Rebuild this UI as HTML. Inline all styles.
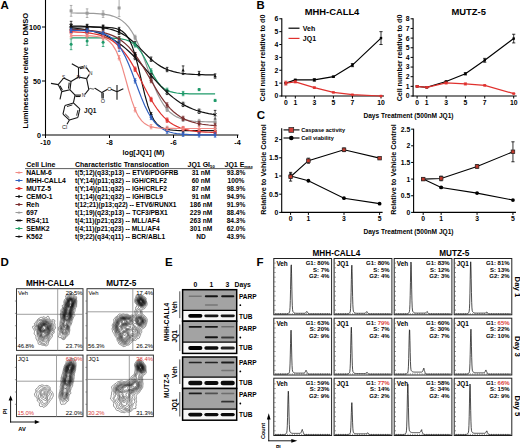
<!DOCTYPE html>
<html><head><meta charset="utf-8"><style>
html,body{margin:0;padding:0;background:#fff;width:520px;height:448px;overflow:hidden}
svg{display:block;font-family:"Liberation Sans", sans-serif}
</style></head><body>
<svg width="520" height="448" viewBox="0 0 520 448">
<text x="0.50" y="9.20" font-size="11.5" text-anchor="start" font-weight="bold" fill="#000">A</text>
<line x1="45.50" y1="0.00" x2="45.50" y2="135.50" stroke="#000" stroke-width="1.1"/>
<line x1="45.00" y1="135.00" x2="238.50" y2="135.00" stroke="#000" stroke-width="1.1"/>
<line x1="42.00" y1="135.00" x2="45.50" y2="135.00" stroke="#000" stroke-width="1"/>
<text x="41.00" y="137.60" font-size="7.2" text-anchor="end" font-weight="bold" fill="#000">0</text>
<line x1="42.00" y1="81.00" x2="45.50" y2="81.00" stroke="#000" stroke-width="1"/>
<text x="41.00" y="83.60" font-size="7.2" text-anchor="end" font-weight="bold" fill="#000">50</text>
<line x1="42.00" y1="27.00" x2="45.50" y2="27.00" stroke="#000" stroke-width="1"/>
<text x="41.00" y="29.60" font-size="7.2" text-anchor="end" font-weight="bold" fill="#000">100</text>
<line x1="45.50" y1="135.00" x2="45.50" y2="138.00" stroke="#000" stroke-width="1"/>
<text x="45.50" y="145.00" font-size="7.2" text-anchor="middle" font-weight="bold" fill="#000">-10</text>
<line x1="109.50" y1="135.00" x2="109.50" y2="138.00" stroke="#000" stroke-width="1"/>
<text x="109.50" y="145.00" font-size="7.2" text-anchor="middle" font-weight="bold" fill="#000">-8</text>
<line x1="173.50" y1="135.00" x2="173.50" y2="138.00" stroke="#000" stroke-width="1"/>
<text x="173.50" y="145.00" font-size="7.2" text-anchor="middle" font-weight="bold" fill="#000">-6</text>
<line x1="237.50" y1="135.00" x2="237.50" y2="138.00" stroke="#000" stroke-width="1"/>
<text x="237.50" y="145.00" font-size="7.2" text-anchor="middle" font-weight="bold" fill="#000">-4</text>
<text x="143.50" y="155.30" font-size="7.2" text-anchor="middle" font-weight="bold" fill="#000">log[JQ1] (M)</text>
<text x="26.20" y="70.60" font-size="7.6" text-anchor="middle" font-weight="bold" fill="#000" transform="rotate(-90 26.2 70.6)" dominant-baseline="middle">Luminescence relative to DMSO</text>
<polyline points="71.10,13.01 74.30,13.02 77.50,13.05 80.70,13.08 83.90,13.13 87.10,13.19 90.30,13.28 93.50,13.41 96.70,13.58 99.90,13.82 103.10,14.14 106.30,14.60 109.50,15.21 112.70,16.06 115.90,17.21 119.10,18.77 122.30,20.86 125.50,23.61 128.70,27.20 131.90,31.75 135.10,37.39 138.30,44.14 141.50,51.90 144.70,60.41 147.90,69.28 151.10,78.06 154.30,86.31 157.50,93.69 160.70,100.00 163.90,105.19 167.10,109.35 170.30,112.58 173.50,115.05 176.70,116.91 179.90,118.29 183.10,119.31 186.30,120.06 189.50,120.60 192.70,121.00 195.90,121.29 199.10,121.50 202.30,121.65 205.50,121.76 208.70,121.84 211.90,121.89 215.10,121.93" stroke="#9a9a9a" stroke-width="1.2" fill="none"/>
<line x1="71.10" y1="5.45" x2="71.10" y2="16.25" stroke="#9a9a9a" stroke-width="0.8"/>
<line x1="69.80" y1="5.45" x2="72.40" y2="5.45" stroke="#9a9a9a" stroke-width="0.8"/>
<line x1="69.80" y1="16.25" x2="72.40" y2="16.25" stroke="#9a9a9a" stroke-width="0.8"/>
<rect x="69.60" y="9.35" width="3.00" height="3.00" fill="#9a9a9a" stroke="none" stroke-width="1"/>
<line x1="87.10" y1="8.87" x2="87.10" y2="17.51" stroke="#9a9a9a" stroke-width="0.8"/>
<line x1="85.80" y1="8.87" x2="88.40" y2="8.87" stroke="#9a9a9a" stroke-width="0.8"/>
<line x1="85.80" y1="17.51" x2="88.40" y2="17.51" stroke="#9a9a9a" stroke-width="0.8"/>
<rect x="85.60" y="11.69" width="3.00" height="3.00" fill="#9a9a9a" stroke="none" stroke-width="1"/>
<line x1="103.10" y1="10.90" x2="103.10" y2="17.38" stroke="#9a9a9a" stroke-width="0.8"/>
<line x1="101.80" y1="10.90" x2="104.40" y2="10.90" stroke="#9a9a9a" stroke-width="0.8"/>
<line x1="101.80" y1="17.38" x2="104.40" y2="17.38" stroke="#9a9a9a" stroke-width="0.8"/>
<rect x="101.60" y="12.64" width="3.00" height="3.00" fill="#9a9a9a" stroke="none" stroke-width="1"/>
<line x1="119.10" y1="-0.67" x2="119.10" y2="16.61" stroke="#9a9a9a" stroke-width="0.8"/>
<line x1="117.80" y1="-0.67" x2="120.40" y2="-0.67" stroke="#9a9a9a" stroke-width="0.8"/>
<line x1="117.80" y1="16.61" x2="120.40" y2="16.61" stroke="#9a9a9a" stroke-width="0.8"/>
<rect x="117.60" y="6.47" width="3.00" height="3.00" fill="#9a9a9a" stroke="none" stroke-width="1"/>
<line x1="135.10" y1="35.23" x2="135.10" y2="39.55" stroke="#9a9a9a" stroke-width="0.8"/>
<line x1="133.80" y1="35.23" x2="136.40" y2="35.23" stroke="#9a9a9a" stroke-width="0.8"/>
<line x1="133.80" y1="39.55" x2="136.40" y2="39.55" stroke="#9a9a9a" stroke-width="0.8"/>
<rect x="133.60" y="35.89" width="3.00" height="3.00" fill="#9a9a9a" stroke="none" stroke-width="1"/>
<line x1="151.10" y1="75.90" x2="151.10" y2="80.22" stroke="#9a9a9a" stroke-width="0.8"/>
<line x1="149.80" y1="75.90" x2="152.40" y2="75.90" stroke="#9a9a9a" stroke-width="0.8"/>
<line x1="149.80" y1="80.22" x2="152.40" y2="80.22" stroke="#9a9a9a" stroke-width="0.8"/>
<rect x="149.60" y="76.56" width="3.00" height="3.00" fill="#9a9a9a" stroke="none" stroke-width="1"/>
<line x1="167.10" y1="107.19" x2="167.10" y2="111.51" stroke="#9a9a9a" stroke-width="0.8"/>
<line x1="165.80" y1="107.19" x2="168.40" y2="107.19" stroke="#9a9a9a" stroke-width="0.8"/>
<line x1="165.80" y1="111.51" x2="168.40" y2="111.51" stroke="#9a9a9a" stroke-width="0.8"/>
<rect x="165.60" y="107.85" width="3.00" height="3.00" fill="#9a9a9a" stroke="none" stroke-width="1"/>
<line x1="183.10" y1="117.15" x2="183.10" y2="121.47" stroke="#9a9a9a" stroke-width="0.8"/>
<line x1="181.80" y1="117.15" x2="184.40" y2="117.15" stroke="#9a9a9a" stroke-width="0.8"/>
<line x1="181.80" y1="121.47" x2="184.40" y2="121.47" stroke="#9a9a9a" stroke-width="0.8"/>
<rect x="181.60" y="117.81" width="3.00" height="3.00" fill="#9a9a9a" stroke="none" stroke-width="1"/>
<line x1="199.10" y1="119.34" x2="199.10" y2="123.66" stroke="#9a9a9a" stroke-width="0.8"/>
<line x1="197.80" y1="119.34" x2="200.40" y2="119.34" stroke="#9a9a9a" stroke-width="0.8"/>
<line x1="197.80" y1="123.66" x2="200.40" y2="123.66" stroke="#9a9a9a" stroke-width="0.8"/>
<rect x="197.60" y="120.00" width="3.00" height="3.00" fill="#9a9a9a" stroke="none" stroke-width="1"/>
<line x1="215.10" y1="119.77" x2="215.10" y2="124.09" stroke="#9a9a9a" stroke-width="0.8"/>
<line x1="213.80" y1="119.77" x2="216.40" y2="119.77" stroke="#9a9a9a" stroke-width="0.8"/>
<line x1="213.80" y1="124.09" x2="216.40" y2="124.09" stroke="#9a9a9a" stroke-width="0.8"/>
<rect x="213.60" y="120.43" width="3.00" height="3.00" fill="#9a9a9a" stroke="none" stroke-width="1"/>
<polyline points="71.10,26.06 74.30,26.10 77.50,26.15 80.70,26.22 83.90,26.31 87.10,26.43 90.30,26.58 93.50,26.78 96.70,27.04 99.90,27.37 103.10,27.79 106.30,28.33 109.50,29.01 112.70,29.87 115.90,30.95 119.10,32.28 122.30,33.89 125.50,35.82 128.70,38.08 131.90,40.66 135.10,43.53 138.30,46.62 141.50,49.84 144.70,53.08 147.90,56.24 151.10,59.20 154.30,61.90 157.50,64.29 160.70,66.36 163.90,68.09 167.10,69.53 170.30,70.70 173.50,71.65 176.70,72.40 179.90,72.99 183.10,73.46 186.30,73.82 189.50,74.10 192.70,74.32 195.90,74.49 199.10,74.62 202.30,74.72 205.50,74.80 208.70,74.86 211.90,74.91 215.10,74.94" stroke="#111111" stroke-width="1.2" fill="none"/>
<line x1="71.10" y1="23.90" x2="71.10" y2="28.22" stroke="#111111" stroke-width="0.8"/>
<line x1="69.80" y1="23.90" x2="72.40" y2="23.90" stroke="#111111" stroke-width="0.8"/>
<line x1="69.80" y1="28.22" x2="72.40" y2="28.22" stroke="#111111" stroke-width="0.8"/>
<path d="M71.10,24.26 L72.75,27.26 L69.45,27.26 Z" fill="#111111"/>
<line x1="87.10" y1="24.27" x2="87.10" y2="28.59" stroke="#111111" stroke-width="0.8"/>
<line x1="85.80" y1="24.27" x2="88.40" y2="24.27" stroke="#111111" stroke-width="0.8"/>
<line x1="85.80" y1="28.59" x2="88.40" y2="28.59" stroke="#111111" stroke-width="0.8"/>
<path d="M87.10,24.63 L88.75,27.63 L85.45,27.63 Z" fill="#111111"/>
<line x1="103.10" y1="25.63" x2="103.10" y2="29.95" stroke="#111111" stroke-width="0.8"/>
<line x1="101.80" y1="25.63" x2="104.40" y2="25.63" stroke="#111111" stroke-width="0.8"/>
<line x1="101.80" y1="29.95" x2="104.40" y2="29.95" stroke="#111111" stroke-width="0.8"/>
<path d="M103.10,25.99 L104.75,28.99 L101.45,28.99 Z" fill="#111111"/>
<line x1="119.10" y1="30.12" x2="119.10" y2="34.44" stroke="#111111" stroke-width="0.8"/>
<line x1="117.80" y1="30.12" x2="120.40" y2="30.12" stroke="#111111" stroke-width="0.8"/>
<line x1="117.80" y1="34.44" x2="120.40" y2="34.44" stroke="#111111" stroke-width="0.8"/>
<path d="M119.10,30.48 L120.75,33.48 L117.45,33.48 Z" fill="#111111"/>
<line x1="135.10" y1="41.37" x2="135.10" y2="45.69" stroke="#111111" stroke-width="0.8"/>
<line x1="133.80" y1="41.37" x2="136.40" y2="41.37" stroke="#111111" stroke-width="0.8"/>
<line x1="133.80" y1="45.69" x2="136.40" y2="45.69" stroke="#111111" stroke-width="0.8"/>
<path d="M135.10,41.73 L136.75,44.73 L133.45,44.73 Z" fill="#111111"/>
<line x1="151.10" y1="57.04" x2="151.10" y2="61.36" stroke="#111111" stroke-width="0.8"/>
<line x1="149.80" y1="57.04" x2="152.40" y2="57.04" stroke="#111111" stroke-width="0.8"/>
<line x1="149.80" y1="61.36" x2="152.40" y2="61.36" stroke="#111111" stroke-width="0.8"/>
<path d="M151.10,57.40 L152.75,60.40 L149.45,60.40 Z" fill="#111111"/>
<line x1="167.10" y1="67.37" x2="167.10" y2="71.69" stroke="#111111" stroke-width="0.8"/>
<line x1="165.80" y1="67.37" x2="168.40" y2="67.37" stroke="#111111" stroke-width="0.8"/>
<line x1="165.80" y1="71.69" x2="168.40" y2="71.69" stroke="#111111" stroke-width="0.8"/>
<path d="M167.10,67.73 L168.75,70.73 L165.45,70.73 Z" fill="#111111"/>
<line x1="183.10" y1="65.90" x2="183.10" y2="74.54" stroke="#111111" stroke-width="0.8"/>
<line x1="181.80" y1="65.90" x2="184.40" y2="65.90" stroke="#111111" stroke-width="0.8"/>
<line x1="181.80" y1="74.54" x2="184.40" y2="74.54" stroke="#111111" stroke-width="0.8"/>
<path d="M183.10,68.42 L184.75,71.42 L181.45,71.42 Z" fill="#111111"/>
<line x1="199.10" y1="71.38" x2="199.10" y2="75.70" stroke="#111111" stroke-width="0.8"/>
<line x1="197.80" y1="71.38" x2="200.40" y2="71.38" stroke="#111111" stroke-width="0.8"/>
<line x1="197.80" y1="75.70" x2="200.40" y2="75.70" stroke="#111111" stroke-width="0.8"/>
<path d="M199.10,71.74 L200.75,74.74 L197.45,74.74 Z" fill="#111111"/>
<line x1="215.10" y1="73.86" x2="215.10" y2="78.18" stroke="#111111" stroke-width="0.8"/>
<line x1="213.80" y1="73.86" x2="216.40" y2="73.86" stroke="#111111" stroke-width="0.8"/>
<line x1="213.80" y1="78.18" x2="216.40" y2="78.18" stroke="#111111" stroke-width="0.8"/>
<path d="M215.10,74.22 L216.75,77.22 L213.45,77.22 Z" fill="#111111"/>
<polyline points="71.10,37.80 74.30,37.80 77.50,37.80 80.70,37.80 83.90,37.81 87.10,37.81 90.30,37.81 93.50,37.82 96.70,37.83 99.90,37.85 103.10,37.88 106.30,37.93 109.50,38.00 112.70,38.12 115.90,38.31 119.10,38.60 122.30,39.06 125.50,39.77 128.70,40.86 131.90,42.49 135.10,44.89 138.30,48.27 141.50,52.76 144.70,58.31 147.90,64.59 151.10,70.99 154.30,76.89 157.50,81.83 160.70,85.65 163.90,88.41 167.10,90.33 170.30,91.61 173.50,92.45 176.70,93.00 179.90,93.35 183.10,93.57 186.30,93.72 189.50,93.81 192.70,93.86 195.90,93.90 199.10,93.92 202.30,93.94 205.50,93.94 208.70,93.95 211.90,93.95 215.10,93.96" stroke="#1f9a6a" stroke-width="1.2" fill="none"/>
<line x1="71.10" y1="38.88" x2="71.10" y2="49.68" stroke="#1f9a6a" stroke-width="0.8"/>
<line x1="69.80" y1="38.88" x2="72.40" y2="38.88" stroke="#1f9a6a" stroke-width="0.8"/>
<line x1="69.80" y1="49.68" x2="72.40" y2="49.68" stroke="#1f9a6a" stroke-width="0.8"/>
<circle cx="71.10" cy="44.28" r="1.5" fill="#1f9a6a" stroke="none" stroke-width="1"/>
<line x1="87.10" y1="36.73" x2="87.10" y2="45.37" stroke="#1f9a6a" stroke-width="0.8"/>
<line x1="85.80" y1="36.73" x2="88.40" y2="36.73" stroke="#1f9a6a" stroke-width="0.8"/>
<line x1="85.80" y1="45.37" x2="88.40" y2="45.37" stroke="#1f9a6a" stroke-width="0.8"/>
<circle cx="87.10" cy="41.05" r="1.5" fill="#1f9a6a" stroke="none" stroke-width="1"/>
<line x1="103.10" y1="37.88" x2="103.10" y2="46.52" stroke="#1f9a6a" stroke-width="0.8"/>
<line x1="101.80" y1="37.88" x2="104.40" y2="37.88" stroke="#1f9a6a" stroke-width="0.8"/>
<line x1="101.80" y1="46.52" x2="104.40" y2="46.52" stroke="#1f9a6a" stroke-width="0.8"/>
<circle cx="103.10" cy="42.20" r="1.5" fill="#1f9a6a" stroke="none" stroke-width="1"/>
<line x1="119.10" y1="36.44" x2="119.10" y2="40.76" stroke="#1f9a6a" stroke-width="0.8"/>
<line x1="117.80" y1="36.44" x2="120.40" y2="36.44" stroke="#1f9a6a" stroke-width="0.8"/>
<line x1="117.80" y1="40.76" x2="120.40" y2="40.76" stroke="#1f9a6a" stroke-width="0.8"/>
<circle cx="119.10" cy="38.60" r="1.5" fill="#1f9a6a" stroke="none" stroke-width="1"/>
<line x1="135.10" y1="42.73" x2="135.10" y2="47.05" stroke="#1f9a6a" stroke-width="0.8"/>
<line x1="133.80" y1="42.73" x2="136.40" y2="42.73" stroke="#1f9a6a" stroke-width="0.8"/>
<line x1="133.80" y1="47.05" x2="136.40" y2="47.05" stroke="#1f9a6a" stroke-width="0.8"/>
<circle cx="135.10" cy="44.89" r="1.5" fill="#1f9a6a" stroke="none" stroke-width="1"/>
<line x1="151.10" y1="68.83" x2="151.10" y2="73.15" stroke="#1f9a6a" stroke-width="0.8"/>
<line x1="149.80" y1="68.83" x2="152.40" y2="68.83" stroke="#1f9a6a" stroke-width="0.8"/>
<line x1="149.80" y1="73.15" x2="152.40" y2="73.15" stroke="#1f9a6a" stroke-width="0.8"/>
<circle cx="151.10" cy="70.99" r="1.5" fill="#1f9a6a" stroke="none" stroke-width="1"/>
<line x1="167.10" y1="88.17" x2="167.10" y2="92.49" stroke="#1f9a6a" stroke-width="0.8"/>
<line x1="165.80" y1="88.17" x2="168.40" y2="88.17" stroke="#1f9a6a" stroke-width="0.8"/>
<line x1="165.80" y1="92.49" x2="168.40" y2="92.49" stroke="#1f9a6a" stroke-width="0.8"/>
<circle cx="167.10" cy="90.33" r="1.5" fill="#1f9a6a" stroke="none" stroke-width="1"/>
<line x1="183.10" y1="91.41" x2="183.10" y2="95.73" stroke="#1f9a6a" stroke-width="0.8"/>
<line x1="181.80" y1="91.41" x2="184.40" y2="91.41" stroke="#1f9a6a" stroke-width="0.8"/>
<line x1="181.80" y1="95.73" x2="184.40" y2="95.73" stroke="#1f9a6a" stroke-width="0.8"/>
<circle cx="183.10" cy="93.57" r="1.5" fill="#1f9a6a" stroke="none" stroke-width="1"/>
<line x1="199.10" y1="88.52" x2="199.10" y2="90.68" stroke="#1f9a6a" stroke-width="0.8"/>
<line x1="197.80" y1="88.52" x2="200.40" y2="88.52" stroke="#1f9a6a" stroke-width="0.8"/>
<line x1="197.80" y1="90.68" x2="200.40" y2="90.68" stroke="#1f9a6a" stroke-width="0.8"/>
<circle cx="199.10" cy="89.60" r="1.5" fill="#1f9a6a" stroke="none" stroke-width="1"/>
<line x1="215.10" y1="99.36" x2="215.10" y2="101.52" stroke="#1f9a6a" stroke-width="0.8"/>
<line x1="213.80" y1="99.36" x2="216.40" y2="99.36" stroke="#1f9a6a" stroke-width="0.8"/>
<line x1="213.80" y1="101.52" x2="216.40" y2="101.52" stroke="#1f9a6a" stroke-width="0.8"/>
<circle cx="215.10" cy="100.44" r="1.5" fill="#1f9a6a" stroke="none" stroke-width="1"/>
<polyline points="71.10,27.80 74.30,28.12 77.50,28.49 80.70,28.93 83.90,29.43 87.10,30.02 90.30,30.70 93.50,31.49 96.70,32.39 99.90,33.43 103.10,34.62 106.30,35.98 109.50,37.51 112.70,39.25 115.90,41.19 119.10,43.35 122.30,45.74 125.50,48.36 128.70,51.21 131.90,54.26 135.10,57.52 138.30,60.93 141.50,64.49 144.70,68.13 147.90,71.82 151.10,75.51 154.30,79.15 157.50,82.71 160.70,86.12 163.90,89.38 167.10,92.43 170.30,95.28 173.50,97.90 176.70,100.29 179.90,102.45 183.10,104.39 186.30,106.13 189.50,107.66 192.70,109.02 195.90,110.21 199.10,111.25 202.30,112.15 205.50,112.94 208.70,113.62 211.90,114.21 215.10,114.71" stroke="#111111" stroke-width="1.2" fill="none"/>
<line x1="71.10" y1="21.32" x2="71.10" y2="29.96" stroke="#111111" stroke-width="0.8"/>
<line x1="69.80" y1="21.32" x2="72.40" y2="21.32" stroke="#111111" stroke-width="0.8"/>
<line x1="69.80" y1="29.96" x2="72.40" y2="29.96" stroke="#111111" stroke-width="0.8"/>
<line x1="69.60" y1="24.14" x2="72.60" y2="27.14" stroke="#111111" stroke-width="0.9"/>
<line x1="69.60" y1="27.14" x2="72.60" y2="24.14" stroke="#111111" stroke-width="0.9"/>
<line x1="87.10" y1="27.86" x2="87.10" y2="32.18" stroke="#111111" stroke-width="0.8"/>
<line x1="85.80" y1="27.86" x2="88.40" y2="27.86" stroke="#111111" stroke-width="0.8"/>
<line x1="85.80" y1="32.18" x2="88.40" y2="32.18" stroke="#111111" stroke-width="0.8"/>
<line x1="85.60" y1="28.52" x2="88.60" y2="31.52" stroke="#111111" stroke-width="0.9"/>
<line x1="85.60" y1="31.52" x2="88.60" y2="28.52" stroke="#111111" stroke-width="0.9"/>
<line x1="103.10" y1="32.46" x2="103.10" y2="36.78" stroke="#111111" stroke-width="0.8"/>
<line x1="101.80" y1="32.46" x2="104.40" y2="32.46" stroke="#111111" stroke-width="0.8"/>
<line x1="101.80" y1="36.78" x2="104.40" y2="36.78" stroke="#111111" stroke-width="0.8"/>
<line x1="101.60" y1="33.12" x2="104.60" y2="36.12" stroke="#111111" stroke-width="0.9"/>
<line x1="101.60" y1="36.12" x2="104.60" y2="33.12" stroke="#111111" stroke-width="0.9"/>
<line x1="119.10" y1="41.19" x2="119.10" y2="45.51" stroke="#111111" stroke-width="0.8"/>
<line x1="117.80" y1="41.19" x2="120.40" y2="41.19" stroke="#111111" stroke-width="0.8"/>
<line x1="117.80" y1="45.51" x2="120.40" y2="45.51" stroke="#111111" stroke-width="0.8"/>
<line x1="117.60" y1="41.85" x2="120.60" y2="44.85" stroke="#111111" stroke-width="0.9"/>
<line x1="117.60" y1="44.85" x2="120.60" y2="41.85" stroke="#111111" stroke-width="0.9"/>
<line x1="135.10" y1="55.36" x2="135.10" y2="59.68" stroke="#111111" stroke-width="0.8"/>
<line x1="133.80" y1="55.36" x2="136.40" y2="55.36" stroke="#111111" stroke-width="0.8"/>
<line x1="133.80" y1="59.68" x2="136.40" y2="59.68" stroke="#111111" stroke-width="0.8"/>
<line x1="133.60" y1="56.02" x2="136.60" y2="59.02" stroke="#111111" stroke-width="0.9"/>
<line x1="133.60" y1="59.02" x2="136.60" y2="56.02" stroke="#111111" stroke-width="0.9"/>
<line x1="151.10" y1="73.35" x2="151.10" y2="77.67" stroke="#111111" stroke-width="0.8"/>
<line x1="149.80" y1="73.35" x2="152.40" y2="73.35" stroke="#111111" stroke-width="0.8"/>
<line x1="149.80" y1="77.67" x2="152.40" y2="77.67" stroke="#111111" stroke-width="0.8"/>
<line x1="149.60" y1="74.01" x2="152.60" y2="77.01" stroke="#111111" stroke-width="0.9"/>
<line x1="149.60" y1="77.01" x2="152.60" y2="74.01" stroke="#111111" stroke-width="0.9"/>
<line x1="167.10" y1="90.27" x2="167.10" y2="94.59" stroke="#111111" stroke-width="0.8"/>
<line x1="165.80" y1="90.27" x2="168.40" y2="90.27" stroke="#111111" stroke-width="0.8"/>
<line x1="165.80" y1="94.59" x2="168.40" y2="94.59" stroke="#111111" stroke-width="0.8"/>
<line x1="165.60" y1="90.93" x2="168.60" y2="93.93" stroke="#111111" stroke-width="0.9"/>
<line x1="165.60" y1="93.93" x2="168.60" y2="90.93" stroke="#111111" stroke-width="0.9"/>
<line x1="183.10" y1="102.23" x2="183.10" y2="106.55" stroke="#111111" stroke-width="0.8"/>
<line x1="181.80" y1="102.23" x2="184.40" y2="102.23" stroke="#111111" stroke-width="0.8"/>
<line x1="181.80" y1="106.55" x2="184.40" y2="106.55" stroke="#111111" stroke-width="0.8"/>
<line x1="181.60" y1="102.89" x2="184.60" y2="105.89" stroke="#111111" stroke-width="0.9"/>
<line x1="181.60" y1="105.89" x2="184.60" y2="102.89" stroke="#111111" stroke-width="0.9"/>
<line x1="199.10" y1="109.09" x2="199.10" y2="113.41" stroke="#111111" stroke-width="0.8"/>
<line x1="197.80" y1="109.09" x2="200.40" y2="109.09" stroke="#111111" stroke-width="0.8"/>
<line x1="197.80" y1="113.41" x2="200.40" y2="113.41" stroke="#111111" stroke-width="0.8"/>
<line x1="197.60" y1="109.75" x2="200.60" y2="112.75" stroke="#111111" stroke-width="0.9"/>
<line x1="197.60" y1="112.75" x2="200.60" y2="109.75" stroke="#111111" stroke-width="0.9"/>
<line x1="215.10" y1="110.39" x2="215.10" y2="119.03" stroke="#111111" stroke-width="0.8"/>
<line x1="213.80" y1="110.39" x2="216.40" y2="110.39" stroke="#111111" stroke-width="0.8"/>
<line x1="213.80" y1="119.03" x2="216.40" y2="119.03" stroke="#111111" stroke-width="0.8"/>
<line x1="213.60" y1="113.21" x2="216.60" y2="116.21" stroke="#111111" stroke-width="0.9"/>
<line x1="213.60" y1="116.21" x2="216.60" y2="113.21" stroke="#111111" stroke-width="0.9"/>
<polyline points="71.10,29.50 74.30,29.59 77.50,29.70 80.70,29.84 83.90,30.02 87.10,30.24 90.30,30.51 93.50,30.86 96.70,31.29 99.90,31.82 103.10,32.49 106.30,33.32 109.50,34.33 112.70,35.59 115.90,37.11 119.10,38.97 122.30,41.19 125.50,43.84 128.70,46.94 131.90,50.53 135.10,54.62 138.30,59.17 141.50,64.15 144.70,69.45 147.90,74.97 151.10,80.55 154.30,86.07 157.50,91.37 160.70,96.35 163.90,100.90 167.10,104.99 170.30,108.58 173.50,111.68 176.70,114.33 179.90,116.55 183.10,118.41 186.30,119.93 189.50,121.19 192.70,122.20 195.90,123.03 199.10,123.70 202.30,124.23 205.50,124.66 208.70,125.01 211.90,125.28 215.10,125.50" stroke="#7a3030" stroke-width="1.2" fill="none"/>
<line x1="71.10" y1="27.34" x2="71.10" y2="31.66" stroke="#7a3030" stroke-width="0.8"/>
<line x1="69.80" y1="27.34" x2="72.40" y2="27.34" stroke="#7a3030" stroke-width="0.8"/>
<line x1="69.80" y1="31.66" x2="72.40" y2="31.66" stroke="#7a3030" stroke-width="0.8"/>
<circle cx="71.10" cy="29.50" r="1.5" fill="#7a3030" stroke="none" stroke-width="1"/>
<line x1="87.10" y1="28.08" x2="87.10" y2="32.40" stroke="#7a3030" stroke-width="0.8"/>
<line x1="85.80" y1="28.08" x2="88.40" y2="28.08" stroke="#7a3030" stroke-width="0.8"/>
<line x1="85.80" y1="32.40" x2="88.40" y2="32.40" stroke="#7a3030" stroke-width="0.8"/>
<circle cx="87.10" cy="30.24" r="1.5" fill="#7a3030" stroke="none" stroke-width="1"/>
<line x1="103.10" y1="30.33" x2="103.10" y2="34.65" stroke="#7a3030" stroke-width="0.8"/>
<line x1="101.80" y1="30.33" x2="104.40" y2="30.33" stroke="#7a3030" stroke-width="0.8"/>
<line x1="101.80" y1="34.65" x2="104.40" y2="34.65" stroke="#7a3030" stroke-width="0.8"/>
<circle cx="103.10" cy="32.49" r="1.5" fill="#7a3030" stroke="none" stroke-width="1"/>
<line x1="119.10" y1="36.81" x2="119.10" y2="41.13" stroke="#7a3030" stroke-width="0.8"/>
<line x1="117.80" y1="36.81" x2="120.40" y2="36.81" stroke="#7a3030" stroke-width="0.8"/>
<line x1="117.80" y1="41.13" x2="120.40" y2="41.13" stroke="#7a3030" stroke-width="0.8"/>
<circle cx="119.10" cy="38.97" r="1.5" fill="#7a3030" stroke="none" stroke-width="1"/>
<line x1="135.10" y1="52.46" x2="135.10" y2="56.78" stroke="#7a3030" stroke-width="0.8"/>
<line x1="133.80" y1="52.46" x2="136.40" y2="52.46" stroke="#7a3030" stroke-width="0.8"/>
<line x1="133.80" y1="56.78" x2="136.40" y2="56.78" stroke="#7a3030" stroke-width="0.8"/>
<circle cx="135.10" cy="54.62" r="1.5" fill="#7a3030" stroke="none" stroke-width="1"/>
<line x1="151.10" y1="78.39" x2="151.10" y2="82.71" stroke="#7a3030" stroke-width="0.8"/>
<line x1="149.80" y1="78.39" x2="152.40" y2="78.39" stroke="#7a3030" stroke-width="0.8"/>
<line x1="149.80" y1="82.71" x2="152.40" y2="82.71" stroke="#7a3030" stroke-width="0.8"/>
<circle cx="151.10" cy="80.55" r="1.5" fill="#7a3030" stroke="none" stroke-width="1"/>
<line x1="167.10" y1="102.83" x2="167.10" y2="107.15" stroke="#7a3030" stroke-width="0.8"/>
<line x1="165.80" y1="102.83" x2="168.40" y2="102.83" stroke="#7a3030" stroke-width="0.8"/>
<line x1="165.80" y1="107.15" x2="168.40" y2="107.15" stroke="#7a3030" stroke-width="0.8"/>
<circle cx="167.10" cy="104.99" r="1.5" fill="#7a3030" stroke="none" stroke-width="1"/>
<line x1="183.10" y1="116.25" x2="183.10" y2="120.57" stroke="#7a3030" stroke-width="0.8"/>
<line x1="181.80" y1="116.25" x2="184.40" y2="116.25" stroke="#7a3030" stroke-width="0.8"/>
<line x1="181.80" y1="120.57" x2="184.40" y2="120.57" stroke="#7a3030" stroke-width="0.8"/>
<circle cx="183.10" cy="118.41" r="1.5" fill="#7a3030" stroke="none" stroke-width="1"/>
<line x1="199.10" y1="121.54" x2="199.10" y2="125.86" stroke="#7a3030" stroke-width="0.8"/>
<line x1="197.80" y1="121.54" x2="200.40" y2="121.54" stroke="#7a3030" stroke-width="0.8"/>
<line x1="197.80" y1="125.86" x2="200.40" y2="125.86" stroke="#7a3030" stroke-width="0.8"/>
<circle cx="199.10" cy="123.70" r="1.5" fill="#7a3030" stroke="none" stroke-width="1"/>
<line x1="215.10" y1="123.34" x2="215.10" y2="127.66" stroke="#7a3030" stroke-width="0.8"/>
<line x1="213.80" y1="123.34" x2="216.40" y2="123.34" stroke="#7a3030" stroke-width="0.8"/>
<line x1="213.80" y1="127.66" x2="216.40" y2="127.66" stroke="#7a3030" stroke-width="0.8"/>
<circle cx="215.10" cy="125.50" r="1.5" fill="#7a3030" stroke="none" stroke-width="1"/>
<polyline points="71.10,27.00 74.30,27.00 77.50,27.00 80.70,27.00 83.90,27.01 87.10,27.01 90.30,27.02 93.50,27.03 96.70,27.06 99.90,27.10 103.10,27.17 106.30,27.30 109.50,27.51 112.70,27.87 115.90,28.49 119.10,29.52 122.30,31.25 125.50,34.08 128.70,38.57 131.90,45.37 135.10,54.95 138.30,67.17 141.50,80.93 144.70,94.41 147.90,105.91 151.10,114.63 154.30,120.67 157.50,124.59 160.70,127.04 163.90,128.52 167.10,129.41 170.30,129.94 173.50,130.24 176.70,130.43 179.90,130.53 183.10,130.59 186.30,130.63 189.50,130.65 192.70,130.66 195.90,130.67 199.10,130.67 202.30,130.68 205.50,130.68 208.70,130.68 211.90,130.68 215.10,130.68" stroke="#111111" stroke-width="1.2" fill="none"/>
<line x1="71.10" y1="24.84" x2="71.10" y2="29.16" stroke="#111111" stroke-width="0.8"/>
<line x1="69.80" y1="24.84" x2="72.40" y2="24.84" stroke="#111111" stroke-width="0.8"/>
<line x1="69.80" y1="29.16" x2="72.40" y2="29.16" stroke="#111111" stroke-width="0.8"/>
<path d="M71.10,25.05 L72.75,27.00 L71.10,28.95 L69.45,27.00 Z" fill="#111111"/>
<line x1="87.10" y1="24.85" x2="87.10" y2="29.17" stroke="#111111" stroke-width="0.8"/>
<line x1="85.80" y1="24.85" x2="88.40" y2="24.85" stroke="#111111" stroke-width="0.8"/>
<line x1="85.80" y1="29.17" x2="88.40" y2="29.17" stroke="#111111" stroke-width="0.8"/>
<path d="M87.10,25.06 L88.75,27.01 L87.10,28.96 L85.45,27.01 Z" fill="#111111"/>
<line x1="103.10" y1="25.01" x2="103.10" y2="29.33" stroke="#111111" stroke-width="0.8"/>
<line x1="101.80" y1="25.01" x2="104.40" y2="25.01" stroke="#111111" stroke-width="0.8"/>
<line x1="101.80" y1="29.33" x2="104.40" y2="29.33" stroke="#111111" stroke-width="0.8"/>
<path d="M103.10,25.22 L104.75,27.17 L103.10,29.12 L101.45,27.17 Z" fill="#111111"/>
<line x1="119.10" y1="27.36" x2="119.10" y2="31.68" stroke="#111111" stroke-width="0.8"/>
<line x1="117.80" y1="27.36" x2="120.40" y2="27.36" stroke="#111111" stroke-width="0.8"/>
<line x1="117.80" y1="31.68" x2="120.40" y2="31.68" stroke="#111111" stroke-width="0.8"/>
<path d="M119.10,27.57 L120.75,29.52 L119.10,31.47 L117.45,29.52 Z" fill="#111111"/>
<line x1="135.10" y1="52.79" x2="135.10" y2="57.11" stroke="#111111" stroke-width="0.8"/>
<line x1="133.80" y1="52.79" x2="136.40" y2="52.79" stroke="#111111" stroke-width="0.8"/>
<line x1="133.80" y1="57.11" x2="136.40" y2="57.11" stroke="#111111" stroke-width="0.8"/>
<path d="M135.10,53.00 L136.75,54.95 L135.10,56.90 L133.45,54.95 Z" fill="#111111"/>
<line x1="151.10" y1="112.47" x2="151.10" y2="116.79" stroke="#111111" stroke-width="0.8"/>
<line x1="149.80" y1="112.47" x2="152.40" y2="112.47" stroke="#111111" stroke-width="0.8"/>
<line x1="149.80" y1="116.79" x2="152.40" y2="116.79" stroke="#111111" stroke-width="0.8"/>
<path d="M151.10,112.68 L152.75,114.63 L151.10,116.58 L149.45,114.63 Z" fill="#111111"/>
<line x1="167.10" y1="127.25" x2="167.10" y2="131.57" stroke="#111111" stroke-width="0.8"/>
<line x1="165.80" y1="127.25" x2="168.40" y2="127.25" stroke="#111111" stroke-width="0.8"/>
<line x1="165.80" y1="131.57" x2="168.40" y2="131.57" stroke="#111111" stroke-width="0.8"/>
<path d="M167.10,127.46 L168.75,129.41 L167.10,131.36 L165.45,129.41 Z" fill="#111111"/>
<line x1="183.10" y1="128.43" x2="183.10" y2="132.75" stroke="#111111" stroke-width="0.8"/>
<line x1="181.80" y1="128.43" x2="184.40" y2="128.43" stroke="#111111" stroke-width="0.8"/>
<line x1="181.80" y1="132.75" x2="184.40" y2="132.75" stroke="#111111" stroke-width="0.8"/>
<path d="M183.10,128.64 L184.75,130.59 L183.10,132.54 L181.45,130.59 Z" fill="#111111"/>
<line x1="199.10" y1="128.51" x2="199.10" y2="132.83" stroke="#111111" stroke-width="0.8"/>
<line x1="197.80" y1="128.51" x2="200.40" y2="128.51" stroke="#111111" stroke-width="0.8"/>
<line x1="197.80" y1="132.83" x2="200.40" y2="132.83" stroke="#111111" stroke-width="0.8"/>
<path d="M199.10,128.72 L200.75,130.67 L199.10,132.62 L197.45,130.67 Z" fill="#111111"/>
<line x1="215.10" y1="128.52" x2="215.10" y2="132.84" stroke="#111111" stroke-width="0.8"/>
<line x1="213.80" y1="128.52" x2="216.40" y2="128.52" stroke="#111111" stroke-width="0.8"/>
<line x1="213.80" y1="132.84" x2="216.40" y2="132.84" stroke="#111111" stroke-width="0.8"/>
<path d="M215.10,128.73 L216.75,130.68 L215.10,132.63 L213.45,130.68 Z" fill="#111111"/>
<polyline points="71.10,31.76 74.30,31.88 77.50,32.03 80.70,32.23 83.90,32.48 87.10,32.80 90.30,33.21 93.50,33.72 96.70,34.37 99.90,35.19 103.10,36.22 106.30,37.51 109.50,39.10 112.70,41.07 115.90,43.47 119.10,46.36 122.30,49.80 125.50,53.81 128.70,58.42 131.90,63.59 135.10,69.23 138.30,75.24 141.50,81.45 144.70,87.68 147.90,93.75 151.10,99.48 154.30,104.75 157.50,109.47 160.70,113.61 163.90,117.16 167.10,120.16 170.30,122.65 173.50,124.69 176.70,126.36 179.90,127.70 183.10,128.78 186.30,129.64 189.50,130.32 192.70,130.86 195.90,131.29 199.10,131.62 202.30,131.88 205.50,132.09 208.70,132.25 211.90,132.38 215.10,132.48" stroke="#e0312e" stroke-width="1.2" fill="none"/>
<line x1="71.10" y1="29.60" x2="71.10" y2="33.92" stroke="#e0312e" stroke-width="0.8"/>
<line x1="69.80" y1="29.60" x2="72.40" y2="29.60" stroke="#e0312e" stroke-width="0.8"/>
<line x1="69.80" y1="33.92" x2="72.40" y2="33.92" stroke="#e0312e" stroke-width="0.8"/>
<rect x="69.60" y="30.26" width="3.00" height="3.00" fill="#e0312e" stroke="none" stroke-width="1"/>
<line x1="87.10" y1="30.64" x2="87.10" y2="34.96" stroke="#e0312e" stroke-width="0.8"/>
<line x1="85.80" y1="30.64" x2="88.40" y2="30.64" stroke="#e0312e" stroke-width="0.8"/>
<line x1="85.80" y1="34.96" x2="88.40" y2="34.96" stroke="#e0312e" stroke-width="0.8"/>
<rect x="85.60" y="31.30" width="3.00" height="3.00" fill="#e0312e" stroke="none" stroke-width="1"/>
<line x1="103.10" y1="34.06" x2="103.10" y2="38.38" stroke="#e0312e" stroke-width="0.8"/>
<line x1="101.80" y1="34.06" x2="104.40" y2="34.06" stroke="#e0312e" stroke-width="0.8"/>
<line x1="101.80" y1="38.38" x2="104.40" y2="38.38" stroke="#e0312e" stroke-width="0.8"/>
<rect x="101.60" y="34.72" width="3.00" height="3.00" fill="#e0312e" stroke="none" stroke-width="1"/>
<line x1="119.10" y1="44.20" x2="119.10" y2="48.52" stroke="#e0312e" stroke-width="0.8"/>
<line x1="117.80" y1="44.20" x2="120.40" y2="44.20" stroke="#e0312e" stroke-width="0.8"/>
<line x1="117.80" y1="48.52" x2="120.40" y2="48.52" stroke="#e0312e" stroke-width="0.8"/>
<rect x="117.60" y="44.86" width="3.00" height="3.00" fill="#e0312e" stroke="none" stroke-width="1"/>
<line x1="135.10" y1="67.07" x2="135.10" y2="71.39" stroke="#e0312e" stroke-width="0.8"/>
<line x1="133.80" y1="67.07" x2="136.40" y2="67.07" stroke="#e0312e" stroke-width="0.8"/>
<line x1="133.80" y1="71.39" x2="136.40" y2="71.39" stroke="#e0312e" stroke-width="0.8"/>
<rect x="133.60" y="67.73" width="3.00" height="3.00" fill="#e0312e" stroke="none" stroke-width="1"/>
<line x1="151.10" y1="97.32" x2="151.10" y2="101.64" stroke="#e0312e" stroke-width="0.8"/>
<line x1="149.80" y1="97.32" x2="152.40" y2="97.32" stroke="#e0312e" stroke-width="0.8"/>
<line x1="149.80" y1="101.64" x2="152.40" y2="101.64" stroke="#e0312e" stroke-width="0.8"/>
<rect x="149.60" y="97.98" width="3.00" height="3.00" fill="#e0312e" stroke="none" stroke-width="1"/>
<line x1="167.10" y1="118.00" x2="167.10" y2="122.32" stroke="#e0312e" stroke-width="0.8"/>
<line x1="165.80" y1="118.00" x2="168.40" y2="118.00" stroke="#e0312e" stroke-width="0.8"/>
<line x1="165.80" y1="122.32" x2="168.40" y2="122.32" stroke="#e0312e" stroke-width="0.8"/>
<rect x="165.60" y="118.66" width="3.00" height="3.00" fill="#e0312e" stroke="none" stroke-width="1"/>
<line x1="183.10" y1="126.62" x2="183.10" y2="130.94" stroke="#e0312e" stroke-width="0.8"/>
<line x1="181.80" y1="126.62" x2="184.40" y2="126.62" stroke="#e0312e" stroke-width="0.8"/>
<line x1="181.80" y1="130.94" x2="184.40" y2="130.94" stroke="#e0312e" stroke-width="0.8"/>
<rect x="181.60" y="127.28" width="3.00" height="3.00" fill="#e0312e" stroke="none" stroke-width="1"/>
<line x1="199.10" y1="129.46" x2="199.10" y2="133.78" stroke="#e0312e" stroke-width="0.8"/>
<line x1="197.80" y1="129.46" x2="200.40" y2="129.46" stroke="#e0312e" stroke-width="0.8"/>
<line x1="197.80" y1="133.78" x2="200.40" y2="133.78" stroke="#e0312e" stroke-width="0.8"/>
<rect x="197.60" y="130.12" width="3.00" height="3.00" fill="#e0312e" stroke="none" stroke-width="1"/>
<line x1="215.10" y1="130.32" x2="215.10" y2="134.64" stroke="#e0312e" stroke-width="0.8"/>
<line x1="213.80" y1="130.32" x2="216.40" y2="130.32" stroke="#e0312e" stroke-width="0.8"/>
<line x1="213.80" y1="134.64" x2="216.40" y2="134.64" stroke="#e0312e" stroke-width="0.8"/>
<rect x="213.60" y="130.98" width="3.00" height="3.00" fill="#e0312e" stroke="none" stroke-width="1"/>
<polyline points="71.10,30.36 74.30,30.41 77.50,30.48 80.70,30.57 83.90,30.71 87.10,30.89 90.30,31.15 93.50,31.50 96.70,31.99 99.90,32.67 103.10,33.61 106.30,34.88 109.50,36.61 112.70,38.92 115.90,41.98 119.10,45.93 122.30,50.93 125.50,57.03 128.70,64.20 131.90,72.27 135.10,80.87 138.30,89.57 141.50,97.90 144.70,105.46 147.90,112.01 151.10,117.44 154.30,121.80 157.50,125.19 160.70,127.79 163.90,129.73 167.10,131.17 170.30,132.23 173.50,133.00 176.70,133.56 179.90,133.97 183.10,134.26 186.30,134.47 189.50,134.62 192.70,134.73 195.90,134.80 199.10,134.86 202.30,134.90 205.50,134.93 208.70,134.95 211.90,134.96 215.10,134.97" stroke="#2f5fbf" stroke-width="1.2" fill="none"/>
<line x1="71.10" y1="28.20" x2="71.10" y2="32.52" stroke="#2f5fbf" stroke-width="0.8"/>
<line x1="69.80" y1="28.20" x2="72.40" y2="28.20" stroke="#2f5fbf" stroke-width="0.8"/>
<line x1="69.80" y1="32.52" x2="72.40" y2="32.52" stroke="#2f5fbf" stroke-width="0.8"/>
<path d="M71.10,28.41 L72.75,30.36 L71.10,32.31 L69.45,30.36 Z" fill="#2f5fbf"/>
<line x1="87.10" y1="28.73" x2="87.10" y2="33.05" stroke="#2f5fbf" stroke-width="0.8"/>
<line x1="85.80" y1="28.73" x2="88.40" y2="28.73" stroke="#2f5fbf" stroke-width="0.8"/>
<line x1="85.80" y1="33.05" x2="88.40" y2="33.05" stroke="#2f5fbf" stroke-width="0.8"/>
<path d="M87.10,28.94 L88.75,30.89 L87.10,32.84 L85.45,30.89 Z" fill="#2f5fbf"/>
<line x1="103.10" y1="31.45" x2="103.10" y2="35.77" stroke="#2f5fbf" stroke-width="0.8"/>
<line x1="101.80" y1="31.45" x2="104.40" y2="31.45" stroke="#2f5fbf" stroke-width="0.8"/>
<line x1="101.80" y1="35.77" x2="104.40" y2="35.77" stroke="#2f5fbf" stroke-width="0.8"/>
<path d="M103.10,31.66 L104.75,33.61 L103.10,35.56 L101.45,33.61 Z" fill="#2f5fbf"/>
<line x1="119.10" y1="40.53" x2="119.10" y2="51.33" stroke="#2f5fbf" stroke-width="0.8"/>
<line x1="117.80" y1="40.53" x2="120.40" y2="40.53" stroke="#2f5fbf" stroke-width="0.8"/>
<line x1="117.80" y1="51.33" x2="120.40" y2="51.33" stroke="#2f5fbf" stroke-width="0.8"/>
<path d="M119.10,43.98 L120.75,45.93 L119.10,47.88 L117.45,45.93 Z" fill="#2f5fbf"/>
<line x1="135.10" y1="78.71" x2="135.10" y2="83.03" stroke="#2f5fbf" stroke-width="0.8"/>
<line x1="133.80" y1="78.71" x2="136.40" y2="78.71" stroke="#2f5fbf" stroke-width="0.8"/>
<line x1="133.80" y1="83.03" x2="136.40" y2="83.03" stroke="#2f5fbf" stroke-width="0.8"/>
<path d="M135.10,78.92 L136.75,80.87 L135.10,82.82 L133.45,80.87 Z" fill="#2f5fbf"/>
<line x1="151.10" y1="115.28" x2="151.10" y2="119.60" stroke="#2f5fbf" stroke-width="0.8"/>
<line x1="149.80" y1="115.28" x2="152.40" y2="115.28" stroke="#2f5fbf" stroke-width="0.8"/>
<line x1="149.80" y1="119.60" x2="152.40" y2="119.60" stroke="#2f5fbf" stroke-width="0.8"/>
<path d="M151.10,115.49 L152.75,117.44 L151.10,119.39 L149.45,117.44 Z" fill="#2f5fbf"/>
<line x1="167.10" y1="129.01" x2="167.10" y2="133.33" stroke="#2f5fbf" stroke-width="0.8"/>
<line x1="165.80" y1="129.01" x2="168.40" y2="129.01" stroke="#2f5fbf" stroke-width="0.8"/>
<line x1="165.80" y1="133.33" x2="168.40" y2="133.33" stroke="#2f5fbf" stroke-width="0.8"/>
<path d="M167.10,129.22 L168.75,131.17 L167.10,133.12 L165.45,131.17 Z" fill="#2f5fbf"/>
<line x1="183.10" y1="132.10" x2="183.10" y2="136.42" stroke="#2f5fbf" stroke-width="0.8"/>
<line x1="181.80" y1="132.10" x2="184.40" y2="132.10" stroke="#2f5fbf" stroke-width="0.8"/>
<line x1="181.80" y1="136.42" x2="184.40" y2="136.42" stroke="#2f5fbf" stroke-width="0.8"/>
<path d="M183.10,132.31 L184.75,134.26 L183.10,136.21 L181.45,134.26 Z" fill="#2f5fbf"/>
<line x1="199.10" y1="132.70" x2="199.10" y2="137.02" stroke="#2f5fbf" stroke-width="0.8"/>
<line x1="197.80" y1="132.70" x2="200.40" y2="132.70" stroke="#2f5fbf" stroke-width="0.8"/>
<line x1="197.80" y1="137.02" x2="200.40" y2="137.02" stroke="#2f5fbf" stroke-width="0.8"/>
<path d="M199.10,132.91 L200.75,134.86 L199.10,136.81 L197.45,134.86 Z" fill="#2f5fbf"/>
<line x1="215.10" y1="132.81" x2="215.10" y2="137.13" stroke="#2f5fbf" stroke-width="0.8"/>
<line x1="213.80" y1="132.81" x2="216.40" y2="132.81" stroke="#2f5fbf" stroke-width="0.8"/>
<line x1="213.80" y1="137.13" x2="216.40" y2="137.13" stroke="#2f5fbf" stroke-width="0.8"/>
<path d="M215.10,133.02 L216.75,134.97 L215.10,136.92 L213.45,134.97 Z" fill="#2f5fbf"/>
<polyline points="71.10,35.65 74.30,35.66 77.50,35.68 80.70,35.71 83.90,35.75 87.10,35.82 90.30,35.94 93.50,36.14 96.70,36.47 99.90,37.01 103.10,37.89 106.30,39.31 109.50,41.57 112.70,45.09 115.90,50.33 119.10,57.72 122.30,67.32 125.50,78.56 128.70,90.23 131.90,100.93 135.10,109.67 138.30,116.16 141.50,120.66 144.70,123.62 147.90,125.50 151.10,126.68 154.30,127.40 157.50,127.84 160.70,128.11 163.90,128.27 167.10,128.37 170.30,128.43 173.50,128.47 176.70,128.49 179.90,128.50 183.10,128.51 186.30,128.51 189.50,128.52 192.70,128.52 195.90,128.52 199.10,128.52 202.30,128.52 205.50,128.52 208.70,128.52 211.90,128.52 215.10,128.52" stroke="#f08a84" stroke-width="1.2" fill="none"/>
<line x1="71.10" y1="33.49" x2="71.10" y2="37.81" stroke="#f08a84" stroke-width="0.8"/>
<line x1="69.80" y1="33.49" x2="72.40" y2="33.49" stroke="#f08a84" stroke-width="0.8"/>
<line x1="69.80" y1="37.81" x2="72.40" y2="37.81" stroke="#f08a84" stroke-width="0.8"/>
<path d="M71.10,33.85 L72.75,36.85 L69.45,36.85 Z" fill="#f08a84"/>
<line x1="87.10" y1="33.66" x2="87.10" y2="37.98" stroke="#f08a84" stroke-width="0.8"/>
<line x1="85.80" y1="33.66" x2="88.40" y2="33.66" stroke="#f08a84" stroke-width="0.8"/>
<line x1="85.80" y1="37.98" x2="88.40" y2="37.98" stroke="#f08a84" stroke-width="0.8"/>
<path d="M87.10,34.02 L88.75,37.02 L85.45,37.02 Z" fill="#f08a84"/>
<line x1="103.10" y1="35.73" x2="103.10" y2="40.05" stroke="#f08a84" stroke-width="0.8"/>
<line x1="101.80" y1="35.73" x2="104.40" y2="35.73" stroke="#f08a84" stroke-width="0.8"/>
<line x1="101.80" y1="40.05" x2="104.40" y2="40.05" stroke="#f08a84" stroke-width="0.8"/>
<path d="M103.10,36.09 L104.75,39.09 L101.45,39.09 Z" fill="#f08a84"/>
<line x1="119.10" y1="55.56" x2="119.10" y2="59.88" stroke="#f08a84" stroke-width="0.8"/>
<line x1="117.80" y1="55.56" x2="120.40" y2="55.56" stroke="#f08a84" stroke-width="0.8"/>
<line x1="117.80" y1="59.88" x2="120.40" y2="59.88" stroke="#f08a84" stroke-width="0.8"/>
<path d="M119.10,55.92 L120.75,58.92 L117.45,58.92 Z" fill="#f08a84"/>
<line x1="135.10" y1="107.51" x2="135.10" y2="111.83" stroke="#f08a84" stroke-width="0.8"/>
<line x1="133.80" y1="107.51" x2="136.40" y2="107.51" stroke="#f08a84" stroke-width="0.8"/>
<line x1="133.80" y1="111.83" x2="136.40" y2="111.83" stroke="#f08a84" stroke-width="0.8"/>
<path d="M135.10,107.87 L136.75,110.87 L133.45,110.87 Z" fill="#f08a84"/>
<line x1="151.10" y1="124.52" x2="151.10" y2="128.84" stroke="#f08a84" stroke-width="0.8"/>
<line x1="149.80" y1="124.52" x2="152.40" y2="124.52" stroke="#f08a84" stroke-width="0.8"/>
<line x1="149.80" y1="128.84" x2="152.40" y2="128.84" stroke="#f08a84" stroke-width="0.8"/>
<path d="M151.10,124.88 L152.75,127.88 L149.45,127.88 Z" fill="#f08a84"/>
<line x1="167.10" y1="126.21" x2="167.10" y2="130.53" stroke="#f08a84" stroke-width="0.8"/>
<line x1="165.80" y1="126.21" x2="168.40" y2="126.21" stroke="#f08a84" stroke-width="0.8"/>
<line x1="165.80" y1="130.53" x2="168.40" y2="130.53" stroke="#f08a84" stroke-width="0.8"/>
<path d="M167.10,126.57 L168.75,129.57 L165.45,129.57 Z" fill="#f08a84"/>
<line x1="183.10" y1="126.35" x2="183.10" y2="130.67" stroke="#f08a84" stroke-width="0.8"/>
<line x1="181.80" y1="126.35" x2="184.40" y2="126.35" stroke="#f08a84" stroke-width="0.8"/>
<line x1="181.80" y1="130.67" x2="184.40" y2="130.67" stroke="#f08a84" stroke-width="0.8"/>
<path d="M183.10,126.71 L184.75,129.71 L181.45,129.71 Z" fill="#f08a84"/>
<line x1="199.10" y1="126.36" x2="199.10" y2="130.68" stroke="#f08a84" stroke-width="0.8"/>
<line x1="197.80" y1="126.36" x2="200.40" y2="126.36" stroke="#f08a84" stroke-width="0.8"/>
<line x1="197.80" y1="130.68" x2="200.40" y2="130.68" stroke="#f08a84" stroke-width="0.8"/>
<path d="M199.10,126.72 L200.75,129.72 L197.45,129.72 Z" fill="#f08a84"/>
<line x1="215.10" y1="126.36" x2="215.10" y2="130.68" stroke="#f08a84" stroke-width="0.8"/>
<line x1="213.80" y1="126.36" x2="216.40" y2="126.36" stroke="#f08a84" stroke-width="0.8"/>
<line x1="213.80" y1="130.68" x2="216.40" y2="130.68" stroke="#f08a84" stroke-width="0.8"/>
<path d="M215.10,126.72 L216.75,129.72 L213.45,129.72 Z" fill="#f08a84"/>
<line x1="63.70" y1="78.00" x2="71.00" y2="81.50" stroke="#161616" stroke-width="1.1"/>
<line x1="71.00" y1="81.50" x2="70.00" y2="89.80" stroke="#161616" stroke-width="1.1"/>
<line x1="70.00" y1="89.80" x2="61.70" y2="91.60" stroke="#161616" stroke-width="1.1"/>
<line x1="61.70" y1="91.60" x2="58.20" y2="84.60" stroke="#161616" stroke-width="1.1"/>
<line x1="58.20" y1="84.60" x2="63.70" y2="78.00" stroke="#161616" stroke-width="1.1"/>
<line x1="69.20" y1="82.60" x2="68.50" y2="88.60" stroke="#161616" stroke-width="1.1"/>
<line x1="60.00" y1="85.80" x2="62.40" y2="90.00" stroke="#161616" stroke-width="1.1"/>
<line x1="58.20" y1="84.60" x2="51.00" y2="83.40" stroke="#161616" stroke-width="1.1"/>
<line x1="61.70" y1="91.60" x2="60.00" y2="99.30" stroke="#161616" stroke-width="1.1"/>
<line x1="71.00" y1="81.50" x2="78.50" y2="77.00" stroke="#161616" stroke-width="1.1"/>
<line x1="78.50" y1="77.00" x2="78.50" y2="67.50" stroke="#161616" stroke-width="1.1"/>
<line x1="78.50" y1="67.50" x2="71.80" y2="63.70" stroke="#161616" stroke-width="1.1"/>
<line x1="78.50" y1="67.50" x2="83.50" y2="66.60" stroke="#161616" stroke-width="1.1"/>
<line x1="86.40" y1="67.60" x2="89.20" y2="71.60" stroke="#161616" stroke-width="1.1"/>
<line x1="89.20" y1="74.60" x2="86.60" y2="78.60" stroke="#161616" stroke-width="1.1"/>
<line x1="86.60" y1="78.60" x2="78.50" y2="77.00" stroke="#161616" stroke-width="1.1"/>
<line x1="79.80" y1="68.80" x2="83.80" y2="67.80" stroke="#161616" stroke-width="1.1"/>
<line x1="70.00" y1="89.80" x2="75.10" y2="95.10" stroke="#161616" stroke-width="1.1"/>
<line x1="75.10" y1="95.10" x2="81.00" y2="95.10" stroke="#161616" stroke-width="1.1"/>
<line x1="75.50" y1="96.50" x2="80.50" y2="96.50" stroke="#161616" stroke-width="1.1"/>
<line x1="84.80" y1="94.50" x2="88.80" y2="89.30" stroke="#161616" stroke-width="1.1"/>
<line x1="88.80" y1="89.30" x2="86.60" y2="78.60" stroke="#161616" stroke-width="1.1"/>
<path d="M88.8,89.3 q1.5,-1.5 3,-0.5 q1.5,1 3,-0.6" stroke="#161616" stroke-width="0.7" fill="none"/>
<line x1="95.00" y1="88.30" x2="101.90" y2="92.60" stroke="#161616" stroke-width="1.1"/>
<line x1="101.90" y1="92.60" x2="102.00" y2="98.60" stroke="#161616" stroke-width="1.1"/>
<line x1="103.20" y1="92.80" x2="103.20" y2="98.60" stroke="#161616" stroke-width="1.1"/>
<line x1="101.90" y1="92.60" x2="107.60" y2="89.30" stroke="#161616" stroke-width="1.1"/>
<line x1="111.00" y1="89.20" x2="117.00" y2="91.80" stroke="#161616" stroke-width="1.1"/>
<line x1="117.00" y1="85.10" x2="117.00" y2="99.80" stroke="#161616" stroke-width="1.1"/>
<line x1="117.00" y1="91.80" x2="123.30" y2="88.80" stroke="#161616" stroke-width="1.1"/>
<text x="102.80" y="103.20" font-size="5.5" text-anchor="middle" fill="#161616">O</text>
<text x="109.30" y="90.60" font-size="5.5" text-anchor="middle" fill="#161616">O</text>
<text x="85.30" y="68.60" font-size="4.8" text-anchor="middle" fill="#161616">N</text>
<text x="90.80" y="75.20" font-size="4.8" text-anchor="middle" fill="#161616">N</text>
<text x="78.60" y="79.00" font-size="4.8" text-anchor="middle" fill="#161616">N</text>
<text x="83.40" y="97.20" font-size="4.8" text-anchor="middle" fill="#161616">N</text>
<text x="63.70" y="79.00" font-size="4.8" text-anchor="middle" fill="#161616">S</text>
<line x1="73.38" y1="102.93" x2="79.82" y2="108.93" stroke="#161616" stroke-width="1.1"/>
<line x1="79.82" y1="108.93" x2="77.84" y2="117.50" stroke="#161616" stroke-width="1.1"/>
<line x1="77.84" y1="117.50" x2="69.42" y2="120.07" stroke="#161616" stroke-width="1.1"/>
<line x1="69.42" y1="120.07" x2="62.98" y2="114.07" stroke="#161616" stroke-width="1.1"/>
<line x1="62.98" y1="114.07" x2="64.96" y2="105.50" stroke="#161616" stroke-width="1.1"/>
<line x1="64.96" y1="105.50" x2="73.38" y2="102.93" stroke="#161616" stroke-width="1.1"/>
<line x1="77.90" y1="110.11" x2="76.63" y2="115.60" stroke="#161616" stroke-width="0.9"/>
<line x1="69.35" y1="117.82" x2="65.23" y2="113.98" stroke="#161616" stroke-width="0.9"/>
<line x1="66.95" y1="106.57" x2="72.33" y2="104.92" stroke="#161616" stroke-width="0.9"/>
<line x1="75.10" y1="95.10" x2="73.38" y2="102.93" stroke="#161616" stroke-width="1.1"/>
<line x1="69.42" y1="120.07" x2="67.00" y2="124.20" stroke="#161616" stroke-width="1.1"/>
<text x="64.60" y="129.20" font-size="5.5" text-anchor="middle" fill="#161616">Cl</text>
<text x="90.30" y="112.60" font-size="6.6" text-anchor="middle" font-weight="bold" fill="#111">JQ1</text>
<g>
<text x="26.20" y="167.00" font-size="7.0" text-anchor="start" font-weight="bold" fill="#000">Cell Line</text>
<text x="75.00" y="167.00" font-size="7.0" text-anchor="start" font-weight="bold" fill="#000">Characteristic Translocation</text>
<text x="187.50" y="167.00" font-size="7.0" text-anchor="start" font-weight="bold" fill="#000">JQ1 GI<tspan font-size="4.2" dy="1.2">50</tspan></text>
<text x="224.50" y="167.00" font-size="7.0" text-anchor="start" font-weight="bold" fill="#000">JQ1 E<tspan font-size="4.2" dy="1.2">max</tspan></text>
<line x1="25.00" y1="168.60" x2="252.50" y2="168.60" stroke="#333" stroke-width="0.8"/>
<line x1="15.50" y1="172.50" x2="22.50" y2="172.50" stroke="#f08a84" stroke-width="1"/>
<path d="M19.00,170.94 L20.43,173.54 L17.57,173.54 Z" fill="#f08a84"/>
<text x="26.20" y="175.00" font-size="6.8" text-anchor="start" font-weight="bold" fill="#000">NALM-6</text>
<text x="75.00" y="175.00" font-size="6.6" text-anchor="start" font-weight="bold" fill="#000">t(5;12)(q33;p13) -- ETV6/PDGFRB</text>
<text x="201.00" y="175.00" font-size="6.6" text-anchor="middle" font-weight="bold" fill="#000">31 nM</text>
<text x="236.00" y="175.00" font-size="6.6" text-anchor="middle" font-weight="bold" fill="#000">93.8%</text>
<line x1="15.50" y1="180.50" x2="22.50" y2="180.50" stroke="#2f5fbf" stroke-width="1"/>
<path d="M19.00,178.81 L20.43,180.50 L19.00,182.19 L17.57,180.50 Z" fill="#2f5fbf"/>
<text x="26.20" y="183.00" font-size="6.8" text-anchor="start" font-weight="bold" fill="#000">MHH-CALL4</text>
<text x="75.00" y="183.00" font-size="6.6" text-anchor="start" font-weight="bold" fill="#000">t(Y;14)(p11;q32) -- IGH/CRLF2</text>
<text x="201.00" y="183.00" font-size="6.6" text-anchor="middle" font-weight="bold" fill="#000">60 nM</text>
<text x="236.00" y="183.00" font-size="6.6" text-anchor="middle" font-weight="bold" fill="#000">100%</text>
<line x1="15.50" y1="188.50" x2="22.50" y2="188.50" stroke="#e0312e" stroke-width="1"/>
<rect x="17.70" y="187.20" width="2.60" height="2.60" fill="#e0312e" stroke="none" stroke-width="1"/>
<text x="26.20" y="191.00" font-size="6.8" text-anchor="start" font-weight="bold" fill="#000">MUTZ-5</text>
<text x="75.00" y="191.00" font-size="6.6" text-anchor="start" font-weight="bold" fill="#000">t(Y;14)(p11;q32) -- IGH/CRLF2</text>
<text x="201.00" y="191.00" font-size="6.6" text-anchor="middle" font-weight="bold" fill="#000">87 nM</text>
<text x="236.00" y="191.00" font-size="6.6" text-anchor="middle" font-weight="bold" fill="#000">98.9%</text>
<line x1="15.50" y1="196.50" x2="22.50" y2="196.50" stroke="#111" stroke-width="1"/>
<path d="M19.00,194.81 L20.43,196.50 L19.00,198.19 L17.57,196.50 Z" fill="#111"/>
<text x="26.20" y="199.00" font-size="6.8" text-anchor="start" font-weight="bold" fill="#000">CEMO-1</text>
<text x="75.00" y="199.00" font-size="6.6" text-anchor="start" font-weight="bold" fill="#000">t(1;14)(q21;q32) -- IGH/BCL9</text>
<text x="201.00" y="199.00" font-size="6.6" text-anchor="middle" font-weight="bold" fill="#000">91 nM</text>
<text x="236.00" y="199.00" font-size="6.6" text-anchor="middle" font-weight="bold" fill="#000">94.9%</text>
<line x1="15.50" y1="204.50" x2="22.50" y2="204.50" stroke="#7a2a2a" stroke-width="1"/>
<circle cx="19.00" cy="204.50" r="1.3" fill="#7a2a2a" stroke="none" stroke-width="1"/>
<text x="26.20" y="207.00" font-size="6.8" text-anchor="start" font-weight="bold" fill="#000">Reh</text>
<text x="75.00" y="207.00" font-size="6.6" text-anchor="start" font-weight="bold" fill="#000">t(12;21)(p13;q22) -- ETV6/RUNX1</text>
<text x="201.00" y="207.00" font-size="6.6" text-anchor="middle" font-weight="bold" fill="#000">186 nM</text>
<text x="236.00" y="207.00" font-size="6.6" text-anchor="middle" font-weight="bold" fill="#000">91.9%</text>
<line x1="15.50" y1="212.50" x2="22.50" y2="212.50" stroke="#999" stroke-width="1"/>
<path d="M19.00,210.94 L20.43,213.54 L17.57,213.54 Z" fill="#999"/>
<text x="26.20" y="215.00" font-size="6.8" text-anchor="start" font-weight="bold" fill="#000">697</text>
<text x="75.00" y="215.00" font-size="6.6" text-anchor="start" font-weight="bold" fill="#000">t(1;19)(q23;p13) -- TCF3/PBX1</text>
<text x="201.00" y="215.00" font-size="6.6" text-anchor="middle" font-weight="bold" fill="#000">229 nM</text>
<text x="236.00" y="215.00" font-size="6.6" text-anchor="middle" font-weight="bold" fill="#000">88.4%</text>
<line x1="15.50" y1="220.50" x2="22.50" y2="220.50" stroke="#111" stroke-width="1"/>
<line x1="17.70" y1="219.20" x2="20.30" y2="221.80" stroke="#111" stroke-width="0.9"/>
<line x1="17.70" y1="221.80" x2="20.30" y2="219.20" stroke="#111" stroke-width="0.9"/>
<text x="26.20" y="223.00" font-size="6.8" text-anchor="start" font-weight="bold" fill="#000">RS4;11</text>
<text x="75.00" y="223.00" font-size="6.6" text-anchor="start" font-weight="bold" fill="#000">t(4;11)(p21;q23) -- MLL/AF4</text>
<text x="201.00" y="223.00" font-size="6.6" text-anchor="middle" font-weight="bold" fill="#000">263 nM</text>
<text x="236.00" y="223.00" font-size="6.6" text-anchor="middle" font-weight="bold" fill="#000">84.3%</text>
<line x1="15.50" y1="228.50" x2="22.50" y2="228.50" stroke="#22a066" stroke-width="1"/>
<circle cx="19.00" cy="228.50" r="1.3" fill="#22a066" stroke="none" stroke-width="1"/>
<text x="26.20" y="231.00" font-size="6.8" text-anchor="start" font-weight="bold" fill="#000">SEMK2</text>
<text x="75.00" y="231.00" font-size="6.6" text-anchor="start" font-weight="bold" fill="#000">t(4;11)(p21;q23) -- MLL/AF4</text>
<text x="201.00" y="231.00" font-size="6.6" text-anchor="middle" font-weight="bold" fill="#000">301 nM</text>
<text x="236.00" y="231.00" font-size="6.6" text-anchor="middle" font-weight="bold" fill="#000">62.0%</text>
<line x1="15.50" y1="236.50" x2="22.50" y2="236.50" stroke="#111" stroke-width="1"/>
<path d="M19.00,234.94 L20.43,237.54 L17.57,237.54 Z" fill="#111"/>
<text x="26.20" y="239.00" font-size="6.8" text-anchor="start" font-weight="bold" fill="#000">K562</text>
<text x="75.00" y="239.00" font-size="6.6" text-anchor="start" font-weight="bold" fill="#000">t(9;22)(q34;q11) -- BCR/ABL1</text>
<text x="201.00" y="239.00" font-size="6.6" text-anchor="middle" font-weight="bold" fill="#000">ND</text>
<text x="236.00" y="239.00" font-size="6.6" text-anchor="middle" font-weight="bold" fill="#000">43.9%</text>
</g>
<text x="256.60" y="9.40" font-size="11.3" text-anchor="start" font-weight="bold" fill="#000">B</text>
<line x1="281.80" y1="18.25" x2="281.80" y2="96.50" stroke="#000" stroke-width="1.1"/>
<line x1="281.30" y1="96.00" x2="384.00" y2="96.00" stroke="#000" stroke-width="1.1"/>
<line x1="279.30" y1="96.00" x2="281.80" y2="96.00" stroke="#000" stroke-width="1"/>
<text x="278.30" y="98.40" font-size="6.8" text-anchor="end" font-weight="bold" fill="#000">0</text>
<line x1="279.30" y1="83.13" x2="281.80" y2="83.13" stroke="#000" stroke-width="1"/>
<text x="278.30" y="85.53" font-size="6.8" text-anchor="end" font-weight="bold" fill="#000">1</text>
<line x1="279.30" y1="70.26" x2="281.80" y2="70.26" stroke="#000" stroke-width="1"/>
<text x="278.30" y="72.66" font-size="6.8" text-anchor="end" font-weight="bold" fill="#000">2</text>
<line x1="279.30" y1="57.39" x2="281.80" y2="57.39" stroke="#000" stroke-width="1"/>
<text x="278.30" y="59.79" font-size="6.8" text-anchor="end" font-weight="bold" fill="#000">3</text>
<line x1="279.30" y1="44.52" x2="281.80" y2="44.52" stroke="#000" stroke-width="1"/>
<text x="278.30" y="46.92" font-size="6.8" text-anchor="end" font-weight="bold" fill="#000">4</text>
<line x1="279.30" y1="31.65" x2="281.80" y2="31.65" stroke="#000" stroke-width="1"/>
<text x="278.30" y="34.05" font-size="6.8" text-anchor="end" font-weight="bold" fill="#000">5</text>
<line x1="279.30" y1="18.78" x2="281.80" y2="18.78" stroke="#000" stroke-width="1"/>
<text x="278.30" y="21.18" font-size="6.8" text-anchor="end" font-weight="bold" fill="#000">6</text>
<line x1="285.80" y1="96.00" x2="285.80" y2="98.50" stroke="#000" stroke-width="1"/>
<text x="285.80" y="104.80" font-size="6.8" text-anchor="middle" font-weight="bold" fill="#000">0</text>
<line x1="295.32" y1="96.00" x2="295.32" y2="98.50" stroke="#000" stroke-width="1"/>
<text x="295.32" y="104.80" font-size="6.8" text-anchor="middle" font-weight="bold" fill="#000">1</text>
<line x1="314.36" y1="96.00" x2="314.36" y2="98.50" stroke="#000" stroke-width="1"/>
<text x="314.36" y="104.80" font-size="6.8" text-anchor="middle" font-weight="bold" fill="#000">3</text>
<line x1="333.40" y1="96.00" x2="333.40" y2="98.50" stroke="#000" stroke-width="1"/>
<text x="333.40" y="104.80" font-size="6.8" text-anchor="middle" font-weight="bold" fill="#000">5</text>
<line x1="352.44" y1="96.00" x2="352.44" y2="98.50" stroke="#000" stroke-width="1"/>
<text x="352.44" y="104.80" font-size="6.8" text-anchor="middle" font-weight="bold" fill="#000">7</text>
<line x1="381.00" y1="96.00" x2="381.00" y2="98.50" stroke="#000" stroke-width="1"/>
<text x="381.00" y="104.80" font-size="6.8" text-anchor="middle" font-weight="bold" fill="#000">10</text>
<text x="332.00" y="15.40" font-size="9.4" text-anchor="middle" font-weight="bold" fill="#000">MHH-CALL4</text>
<text x="263.00" y="58.00" font-size="7.1" text-anchor="middle" font-weight="bold" fill="#000" transform="rotate(-90 263.0 58.0)" dominant-baseline="middle">Cell number relative to d0</text>
<polyline points="285.80,83.13 295.32,79.91 314.36,79.91 333.40,76.69 352.44,65.11 381.00,38.09" stroke="#000" stroke-width="1.2" fill="none"/>
<line x1="285.80" y1="82.49" x2="285.80" y2="83.77" stroke="#000" stroke-width="0.8"/>
<line x1="284.20" y1="82.49" x2="287.40" y2="82.49" stroke="#000" stroke-width="0.8"/>
<line x1="284.20" y1="83.77" x2="287.40" y2="83.77" stroke="#000" stroke-width="0.8"/>
<rect x="284.60" y="81.93" width="2.40" height="2.40" fill="#000" stroke="none" stroke-width="1"/>
<line x1="295.32" y1="79.27" x2="295.32" y2="80.56" stroke="#000" stroke-width="0.8"/>
<line x1="293.72" y1="79.27" x2="296.92" y2="79.27" stroke="#000" stroke-width="0.8"/>
<line x1="293.72" y1="80.56" x2="296.92" y2="80.56" stroke="#000" stroke-width="0.8"/>
<rect x="294.12" y="78.71" width="2.40" height="2.40" fill="#000" stroke="none" stroke-width="1"/>
<line x1="314.36" y1="78.63" x2="314.36" y2="81.20" stroke="#000" stroke-width="0.8"/>
<line x1="312.76" y1="78.63" x2="315.96" y2="78.63" stroke="#000" stroke-width="0.8"/>
<line x1="312.76" y1="81.20" x2="315.96" y2="81.20" stroke="#000" stroke-width="0.8"/>
<rect x="313.16" y="78.71" width="2.40" height="2.40" fill="#000" stroke="none" stroke-width="1"/>
<line x1="333.40" y1="76.05" x2="333.40" y2="77.34" stroke="#000" stroke-width="0.8"/>
<line x1="331.80" y1="76.05" x2="335.00" y2="76.05" stroke="#000" stroke-width="0.8"/>
<line x1="331.80" y1="77.34" x2="335.00" y2="77.34" stroke="#000" stroke-width="0.8"/>
<rect x="332.20" y="75.49" width="2.40" height="2.40" fill="#000" stroke="none" stroke-width="1"/>
<line x1="352.44" y1="63.57" x2="352.44" y2="66.66" stroke="#000" stroke-width="0.8"/>
<line x1="350.84" y1="63.57" x2="354.04" y2="63.57" stroke="#000" stroke-width="0.8"/>
<line x1="350.84" y1="66.66" x2="354.04" y2="66.66" stroke="#000" stroke-width="0.8"/>
<rect x="351.24" y="63.91" width="2.40" height="2.40" fill="#000" stroke="none" stroke-width="1"/>
<line x1="381.00" y1="31.65" x2="381.00" y2="44.52" stroke="#000" stroke-width="0.8"/>
<line x1="379.40" y1="31.65" x2="382.60" y2="31.65" stroke="#000" stroke-width="0.8"/>
<line x1="379.40" y1="44.52" x2="382.60" y2="44.52" stroke="#000" stroke-width="0.8"/>
<rect x="379.80" y="36.88" width="2.40" height="2.40" fill="#000" stroke="none" stroke-width="1"/>
<polyline points="285.80,83.13 295.32,81.84 314.36,87.63 333.40,92.40 352.44,94.71 381.00,96.00" stroke="#e0312e" stroke-width="1.2" fill="none"/>
<line x1="285.80" y1="81.20" x2="285.80" y2="85.06" stroke="#e0312e" stroke-width="0.8"/>
<line x1="284.20" y1="81.20" x2="287.40" y2="81.20" stroke="#e0312e" stroke-width="0.8"/>
<line x1="284.20" y1="85.06" x2="287.40" y2="85.06" stroke="#e0312e" stroke-width="0.8"/>
<rect x="284.60" y="81.93" width="2.40" height="2.40" fill="#e0312e" stroke="none" stroke-width="1"/>
<line x1="295.32" y1="80.81" x2="295.32" y2="82.87" stroke="#e0312e" stroke-width="0.8"/>
<line x1="293.72" y1="80.81" x2="296.92" y2="80.81" stroke="#e0312e" stroke-width="0.8"/>
<line x1="293.72" y1="82.87" x2="296.92" y2="82.87" stroke="#e0312e" stroke-width="0.8"/>
<rect x="294.12" y="80.64" width="2.40" height="2.40" fill="#e0312e" stroke="none" stroke-width="1"/>
<line x1="314.36" y1="86.99" x2="314.36" y2="88.28" stroke="#e0312e" stroke-width="0.8"/>
<line x1="312.76" y1="86.99" x2="315.96" y2="86.99" stroke="#e0312e" stroke-width="0.8"/>
<line x1="312.76" y1="88.28" x2="315.96" y2="88.28" stroke="#e0312e" stroke-width="0.8"/>
<rect x="313.16" y="86.43" width="2.40" height="2.40" fill="#e0312e" stroke="none" stroke-width="1"/>
<line x1="333.40" y1="92.01" x2="333.40" y2="92.78" stroke="#e0312e" stroke-width="0.8"/>
<line x1="331.80" y1="92.01" x2="335.00" y2="92.01" stroke="#e0312e" stroke-width="0.8"/>
<line x1="331.80" y1="92.78" x2="335.00" y2="92.78" stroke="#e0312e" stroke-width="0.8"/>
<rect x="332.20" y="91.20" width="2.40" height="2.40" fill="#e0312e" stroke="none" stroke-width="1"/>
<line x1="352.44" y1="94.46" x2="352.44" y2="94.97" stroke="#e0312e" stroke-width="0.8"/>
<line x1="350.84" y1="94.46" x2="354.04" y2="94.46" stroke="#e0312e" stroke-width="0.8"/>
<line x1="350.84" y1="94.97" x2="354.04" y2="94.97" stroke="#e0312e" stroke-width="0.8"/>
<rect x="351.24" y="93.51" width="2.40" height="2.40" fill="#e0312e" stroke="none" stroke-width="1"/>
<line x1="381.00" y1="95.87" x2="381.00" y2="96.13" stroke="#e0312e" stroke-width="0.8"/>
<line x1="379.40" y1="95.87" x2="382.60" y2="95.87" stroke="#e0312e" stroke-width="0.8"/>
<line x1="379.40" y1="96.13" x2="382.60" y2="96.13" stroke="#e0312e" stroke-width="0.8"/>
<rect x="379.80" y="94.80" width="2.40" height="2.40" fill="#e0312e" stroke="none" stroke-width="1"/>
<line x1="413.10" y1="18.25" x2="413.10" y2="96.50" stroke="#000" stroke-width="1.1"/>
<line x1="412.60" y1="96.00" x2="516.70" y2="96.00" stroke="#000" stroke-width="1.1"/>
<line x1="410.60" y1="96.00" x2="413.10" y2="96.00" stroke="#000" stroke-width="1"/>
<text x="409.60" y="98.40" font-size="6.8" text-anchor="end" font-weight="bold" fill="#000">0</text>
<line x1="410.60" y1="86.35" x2="413.10" y2="86.35" stroke="#000" stroke-width="1"/>
<text x="409.60" y="88.75" font-size="6.8" text-anchor="end" font-weight="bold" fill="#000">1</text>
<line x1="410.60" y1="76.70" x2="413.10" y2="76.70" stroke="#000" stroke-width="1"/>
<text x="409.60" y="79.10" font-size="6.8" text-anchor="end" font-weight="bold" fill="#000">2</text>
<line x1="410.60" y1="67.05" x2="413.10" y2="67.05" stroke="#000" stroke-width="1"/>
<text x="409.60" y="69.45" font-size="6.8" text-anchor="end" font-weight="bold" fill="#000">3</text>
<line x1="410.60" y1="57.40" x2="413.10" y2="57.40" stroke="#000" stroke-width="1"/>
<text x="409.60" y="59.80" font-size="6.8" text-anchor="end" font-weight="bold" fill="#000">4</text>
<line x1="410.60" y1="47.75" x2="413.10" y2="47.75" stroke="#000" stroke-width="1"/>
<text x="409.60" y="50.15" font-size="6.8" text-anchor="end" font-weight="bold" fill="#000">5</text>
<line x1="410.60" y1="38.10" x2="413.10" y2="38.10" stroke="#000" stroke-width="1"/>
<text x="409.60" y="40.50" font-size="6.8" text-anchor="end" font-weight="bold" fill="#000">6</text>
<line x1="410.60" y1="28.45" x2="413.10" y2="28.45" stroke="#000" stroke-width="1"/>
<text x="409.60" y="30.85" font-size="6.8" text-anchor="end" font-weight="bold" fill="#000">7</text>
<line x1="410.60" y1="18.80" x2="413.10" y2="18.80" stroke="#000" stroke-width="1"/>
<text x="409.60" y="21.20" font-size="6.8" text-anchor="end" font-weight="bold" fill="#000">8</text>
<line x1="417.10" y1="96.00" x2="417.10" y2="98.50" stroke="#000" stroke-width="1"/>
<text x="417.10" y="104.80" font-size="6.8" text-anchor="middle" font-weight="bold" fill="#000">0</text>
<line x1="426.76" y1="96.00" x2="426.76" y2="98.50" stroke="#000" stroke-width="1"/>
<text x="426.76" y="104.80" font-size="6.8" text-anchor="middle" font-weight="bold" fill="#000">1</text>
<line x1="446.08" y1="96.00" x2="446.08" y2="98.50" stroke="#000" stroke-width="1"/>
<text x="446.08" y="104.80" font-size="6.8" text-anchor="middle" font-weight="bold" fill="#000">3</text>
<line x1="465.40" y1="96.00" x2="465.40" y2="98.50" stroke="#000" stroke-width="1"/>
<text x="465.40" y="104.80" font-size="6.8" text-anchor="middle" font-weight="bold" fill="#000">5</text>
<line x1="484.72" y1="96.00" x2="484.72" y2="98.50" stroke="#000" stroke-width="1"/>
<text x="484.72" y="104.80" font-size="6.8" text-anchor="middle" font-weight="bold" fill="#000">7</text>
<line x1="513.70" y1="96.00" x2="513.70" y2="98.50" stroke="#000" stroke-width="1"/>
<text x="513.70" y="104.80" font-size="6.8" text-anchor="middle" font-weight="bold" fill="#000">10</text>
<text x="468.70" y="15.40" font-size="9.4" text-anchor="middle" font-weight="bold" fill="#000">MUTZ-5</text>
<text x="399.70" y="58.00" font-size="7.1" text-anchor="middle" font-weight="bold" fill="#000" transform="rotate(-90 399.7 58.0)" dominant-baseline="middle">Cell number relative to d0</text>
<polyline points="417.10,86.35 426.76,87.31 446.08,81.53 465.40,73.81 484.72,60.29 513.70,38.58" stroke="#000" stroke-width="1.2" fill="none"/>
<line x1="417.10" y1="85.87" x2="417.10" y2="86.83" stroke="#000" stroke-width="0.8"/>
<line x1="415.50" y1="85.87" x2="418.70" y2="85.87" stroke="#000" stroke-width="0.8"/>
<line x1="415.50" y1="86.83" x2="418.70" y2="86.83" stroke="#000" stroke-width="0.8"/>
<rect x="415.90" y="85.15" width="2.40" height="2.40" fill="#000" stroke="none" stroke-width="1"/>
<line x1="426.76" y1="86.83" x2="426.76" y2="87.80" stroke="#000" stroke-width="0.8"/>
<line x1="425.16" y1="86.83" x2="428.36" y2="86.83" stroke="#000" stroke-width="0.8"/>
<line x1="425.16" y1="87.80" x2="428.36" y2="87.80" stroke="#000" stroke-width="0.8"/>
<rect x="425.56" y="86.11" width="2.40" height="2.40" fill="#000" stroke="none" stroke-width="1"/>
<line x1="446.08" y1="81.04" x2="446.08" y2="82.01" stroke="#000" stroke-width="0.8"/>
<line x1="444.48" y1="81.04" x2="447.68" y2="81.04" stroke="#000" stroke-width="0.8"/>
<line x1="444.48" y1="82.01" x2="447.68" y2="82.01" stroke="#000" stroke-width="0.8"/>
<rect x="444.88" y="80.33" width="2.40" height="2.40" fill="#000" stroke="none" stroke-width="1"/>
<line x1="465.40" y1="72.65" x2="465.40" y2="74.96" stroke="#000" stroke-width="0.8"/>
<line x1="463.80" y1="72.65" x2="467.00" y2="72.65" stroke="#000" stroke-width="0.8"/>
<line x1="463.80" y1="74.96" x2="467.00" y2="74.96" stroke="#000" stroke-width="0.8"/>
<rect x="464.20" y="72.61" width="2.40" height="2.40" fill="#000" stroke="none" stroke-width="1"/>
<line x1="484.72" y1="58.36" x2="484.72" y2="62.22" stroke="#000" stroke-width="0.8"/>
<line x1="483.12" y1="58.36" x2="486.32" y2="58.36" stroke="#000" stroke-width="0.8"/>
<line x1="483.12" y1="62.22" x2="486.32" y2="62.22" stroke="#000" stroke-width="0.8"/>
<rect x="483.52" y="59.09" width="2.40" height="2.40" fill="#000" stroke="none" stroke-width="1"/>
<line x1="513.70" y1="34.24" x2="513.70" y2="42.92" stroke="#000" stroke-width="0.8"/>
<line x1="512.10" y1="34.24" x2="515.30" y2="34.24" stroke="#000" stroke-width="0.8"/>
<line x1="512.10" y1="42.92" x2="515.30" y2="42.92" stroke="#000" stroke-width="0.8"/>
<rect x="512.50" y="37.38" width="2.40" height="2.40" fill="#000" stroke="none" stroke-width="1"/>
<polyline points="417.10,86.35 426.76,87.31 446.08,82.97 465.40,83.94 484.72,85.38 513.70,93.59" stroke="#e0312e" stroke-width="1.2" fill="none"/>
<line x1="417.10" y1="85.58" x2="417.10" y2="87.12" stroke="#e0312e" stroke-width="0.8"/>
<line x1="415.50" y1="85.58" x2="418.70" y2="85.58" stroke="#e0312e" stroke-width="0.8"/>
<line x1="415.50" y1="87.12" x2="418.70" y2="87.12" stroke="#e0312e" stroke-width="0.8"/>
<rect x="415.90" y="85.15" width="2.40" height="2.40" fill="#e0312e" stroke="none" stroke-width="1"/>
<line x1="426.76" y1="86.83" x2="426.76" y2="87.80" stroke="#e0312e" stroke-width="0.8"/>
<line x1="425.16" y1="86.83" x2="428.36" y2="86.83" stroke="#e0312e" stroke-width="0.8"/>
<line x1="425.16" y1="87.80" x2="428.36" y2="87.80" stroke="#e0312e" stroke-width="0.8"/>
<rect x="425.56" y="86.11" width="2.40" height="2.40" fill="#e0312e" stroke="none" stroke-width="1"/>
<line x1="446.08" y1="82.01" x2="446.08" y2="83.94" stroke="#e0312e" stroke-width="0.8"/>
<line x1="444.48" y1="82.01" x2="447.68" y2="82.01" stroke="#e0312e" stroke-width="0.8"/>
<line x1="444.48" y1="83.94" x2="447.68" y2="83.94" stroke="#e0312e" stroke-width="0.8"/>
<rect x="444.88" y="81.77" width="2.40" height="2.40" fill="#e0312e" stroke="none" stroke-width="1"/>
<line x1="465.40" y1="82.97" x2="465.40" y2="84.90" stroke="#e0312e" stroke-width="0.8"/>
<line x1="463.80" y1="82.97" x2="467.00" y2="82.97" stroke="#e0312e" stroke-width="0.8"/>
<line x1="463.80" y1="84.90" x2="467.00" y2="84.90" stroke="#e0312e" stroke-width="0.8"/>
<rect x="464.20" y="82.74" width="2.40" height="2.40" fill="#e0312e" stroke="none" stroke-width="1"/>
<line x1="484.72" y1="84.90" x2="484.72" y2="85.87" stroke="#e0312e" stroke-width="0.8"/>
<line x1="483.12" y1="84.90" x2="486.32" y2="84.90" stroke="#e0312e" stroke-width="0.8"/>
<line x1="483.12" y1="85.87" x2="486.32" y2="85.87" stroke="#e0312e" stroke-width="0.8"/>
<rect x="483.52" y="84.18" width="2.40" height="2.40" fill="#e0312e" stroke="none" stroke-width="1"/>
<line x1="513.70" y1="93.30" x2="513.70" y2="93.88" stroke="#e0312e" stroke-width="0.8"/>
<line x1="512.10" y1="93.30" x2="515.30" y2="93.30" stroke="#e0312e" stroke-width="0.8"/>
<line x1="512.10" y1="93.88" x2="515.30" y2="93.88" stroke="#e0312e" stroke-width="0.8"/>
<rect x="512.50" y="92.39" width="2.40" height="2.40" fill="#e0312e" stroke="none" stroke-width="1"/>
<line x1="288.50" y1="28.20" x2="299.50" y2="28.20" stroke="#000" stroke-width="1.2"/>
<text x="302.80" y="30.60" font-size="7.0" text-anchor="start" font-weight="bold" fill="#000">Veh</text>
<line x1="288.50" y1="38.40" x2="299.50" y2="38.40" stroke="#e0312e" stroke-width="1.2"/>
<text x="302.80" y="40.80" font-size="7.0" text-anchor="start" font-weight="bold" fill="#000">JQ1</text>
<text x="408.50" y="118.10" font-size="6.6" text-anchor="middle" font-weight="bold" fill="#000">Days Treatment (500nM JQ1)</text>
<text x="256.80" y="119.20" font-size="11.5" text-anchor="start" font-weight="bold" fill="#000">C</text>
<line x1="281.70" y1="128.18" x2="281.70" y2="212.90" stroke="#000" stroke-width="1.1"/>
<line x1="281.20" y1="212.40" x2="382.60" y2="212.40" stroke="#000" stroke-width="1.1"/>
<line x1="279.20" y1="212.40" x2="281.70" y2="212.40" stroke="#000" stroke-width="1"/>
<text x="278.40" y="214.80" font-size="6.8" text-anchor="end" font-weight="bold" fill="#000">0</text>
<line x1="279.20" y1="194.20" x2="281.70" y2="194.20" stroke="#000" stroke-width="1"/>
<text x="278.40" y="196.60" font-size="6.8" text-anchor="end" font-weight="bold" fill="#000">0.5</text>
<line x1="279.20" y1="176.00" x2="281.70" y2="176.00" stroke="#000" stroke-width="1"/>
<text x="278.40" y="178.40" font-size="6.8" text-anchor="end" font-weight="bold" fill="#000">1</text>
<line x1="279.20" y1="157.80" x2="281.70" y2="157.80" stroke="#000" stroke-width="1"/>
<text x="278.40" y="160.20" font-size="6.8" text-anchor="end" font-weight="bold" fill="#000">1.5</text>
<line x1="279.20" y1="139.60" x2="281.70" y2="139.60" stroke="#000" stroke-width="1"/>
<text x="278.40" y="142.00" font-size="6.8" text-anchor="end" font-weight="bold" fill="#000">2</text>
<line x1="290.60" y1="212.40" x2="290.60" y2="214.90" stroke="#000" stroke-width="1"/>
<text x="290.60" y="221.00" font-size="6.8" text-anchor="middle" font-weight="bold" fill="#000">0</text>
<line x1="308.40" y1="212.40" x2="308.40" y2="214.90" stroke="#000" stroke-width="1"/>
<text x="308.40" y="221.00" font-size="6.8" text-anchor="middle" font-weight="bold" fill="#000">1</text>
<line x1="344.00" y1="212.40" x2="344.00" y2="214.90" stroke="#000" stroke-width="1"/>
<text x="344.00" y="221.00" font-size="6.8" text-anchor="middle" font-weight="bold" fill="#000">3</text>
<line x1="379.60" y1="212.40" x2="379.60" y2="214.90" stroke="#000" stroke-width="1"/>
<text x="379.60" y="221.00" font-size="6.8" text-anchor="middle" font-weight="bold" fill="#000">5</text>
<text x="264.50" y="169.50" font-size="7.2" text-anchor="middle" font-weight="bold" fill="#000" transform="rotate(-90 264.5 169.5)" dominant-baseline="middle">Relative to Vehicle Control</text>
<polyline points="290.60,176.00 308.40,180.73 344.00,198.20 379.60,203.66" stroke="#000" stroke-width="1.1" fill="none"/>
<line x1="290.60" y1="173.82" x2="290.60" y2="178.18" stroke="#000" stroke-width="0.8"/>
<line x1="289.00" y1="173.82" x2="292.20" y2="173.82" stroke="#000" stroke-width="0.8"/>
<line x1="289.00" y1="178.18" x2="292.20" y2="178.18" stroke="#000" stroke-width="0.8"/>
<circle cx="290.60" cy="176.00" r="1.9" fill="#000" stroke="none" stroke-width="1"/>
<circle cx="308.40" cy="180.73" r="1.9" fill="#000" stroke="none" stroke-width="1"/>
<circle cx="344.00" cy="198.20" r="1.9" fill="#000" stroke="none" stroke-width="1"/>
<circle cx="379.60" cy="203.66" r="1.9" fill="#000" stroke="none" stroke-width="1"/>
<polyline points="290.60,176.73 308.40,160.71 344.00,149.79 379.60,158.16" stroke="#000" stroke-width="1.1" fill="none"/>
<line x1="290.60" y1="172.36" x2="290.60" y2="181.10" stroke="#000" stroke-width="0.8"/>
<line x1="289.00" y1="172.36" x2="292.20" y2="172.36" stroke="#000" stroke-width="0.8"/>
<line x1="289.00" y1="181.10" x2="292.20" y2="181.10" stroke="#000" stroke-width="0.8"/>
<rect x="288.80" y="174.93" width="3.60" height="3.60" fill="#c0392b" stroke="#222" stroke-width="0.7"/>
<line x1="308.40" y1="158.16" x2="308.40" y2="163.26" stroke="#000" stroke-width="0.8"/>
<line x1="306.80" y1="158.16" x2="310.00" y2="158.16" stroke="#000" stroke-width="0.8"/>
<line x1="306.80" y1="163.26" x2="310.00" y2="163.26" stroke="#000" stroke-width="0.8"/>
<rect x="306.60" y="158.91" width="3.60" height="3.60" fill="#c0392b" stroke="#222" stroke-width="0.7"/>
<line x1="344.00" y1="147.97" x2="344.00" y2="151.61" stroke="#000" stroke-width="0.8"/>
<line x1="342.40" y1="147.97" x2="345.60" y2="147.97" stroke="#000" stroke-width="0.8"/>
<line x1="342.40" y1="151.61" x2="345.60" y2="151.61" stroke="#000" stroke-width="0.8"/>
<rect x="342.20" y="147.99" width="3.60" height="3.60" fill="#c0392b" stroke="#222" stroke-width="0.7"/>
<rect x="377.80" y="156.36" width="3.60" height="3.60" fill="#c0392b" stroke="#222" stroke-width="0.7"/>
<line x1="413.60" y1="128.65" x2="413.60" y2="212.90" stroke="#000" stroke-width="1.1"/>
<line x1="413.10" y1="212.40" x2="515.95" y2="212.40" stroke="#000" stroke-width="1.1"/>
<line x1="411.10" y1="212.40" x2="413.60" y2="212.40" stroke="#000" stroke-width="1"/>
<text x="410.30" y="214.80" font-size="6.8" text-anchor="end" font-weight="bold" fill="#000">0</text>
<line x1="411.10" y1="195.75" x2="413.60" y2="195.75" stroke="#000" stroke-width="1"/>
<text x="410.30" y="198.15" font-size="6.8" text-anchor="end" font-weight="bold" fill="#000">0.5</text>
<line x1="411.10" y1="179.10" x2="413.60" y2="179.10" stroke="#000" stroke-width="1"/>
<text x="410.30" y="181.50" font-size="6.8" text-anchor="end" font-weight="bold" fill="#000">1</text>
<line x1="411.10" y1="162.45" x2="413.60" y2="162.45" stroke="#000" stroke-width="1"/>
<text x="410.30" y="164.85" font-size="6.8" text-anchor="end" font-weight="bold" fill="#000">1.5</text>
<line x1="411.10" y1="145.80" x2="413.60" y2="145.80" stroke="#000" stroke-width="1"/>
<text x="410.30" y="148.20" font-size="6.8" text-anchor="end" font-weight="bold" fill="#000">2</text>
<line x1="411.10" y1="129.15" x2="413.60" y2="129.15" stroke="#000" stroke-width="1"/>
<text x="410.30" y="131.55" font-size="6.8" text-anchor="end" font-weight="bold" fill="#000">2.5</text>
<line x1="423.20" y1="212.40" x2="423.20" y2="214.90" stroke="#000" stroke-width="1"/>
<text x="423.20" y="221.00" font-size="6.8" text-anchor="middle" font-weight="bold" fill="#000">0</text>
<line x1="441.15" y1="212.40" x2="441.15" y2="214.90" stroke="#000" stroke-width="1"/>
<text x="441.15" y="221.00" font-size="6.8" text-anchor="middle" font-weight="bold" fill="#000">1</text>
<line x1="477.05" y1="212.40" x2="477.05" y2="214.90" stroke="#000" stroke-width="1"/>
<text x="477.05" y="221.00" font-size="6.8" text-anchor="middle" font-weight="bold" fill="#000">3</text>
<line x1="512.95" y1="212.40" x2="512.95" y2="214.90" stroke="#000" stroke-width="1"/>
<text x="512.95" y="221.00" font-size="6.8" text-anchor="middle" font-weight="bold" fill="#000">5</text>
<text x="394.20" y="169.50" font-size="7.2" text-anchor="middle" font-weight="bold" fill="#000" transform="rotate(-90 394.2 169.5)" dominant-baseline="middle">Relative to Vehicle Control</text>
<polyline points="423.20,179.10 441.15,187.43 477.05,193.09 512.95,200.08" stroke="#000" stroke-width="1.1" fill="none"/>
<circle cx="423.20" cy="179.10" r="1.9" fill="#000" stroke="none" stroke-width="1"/>
<line x1="441.15" y1="186.76" x2="441.15" y2="188.09" stroke="#000" stroke-width="0.8"/>
<line x1="439.55" y1="186.76" x2="442.75" y2="186.76" stroke="#000" stroke-width="0.8"/>
<line x1="439.55" y1="188.09" x2="442.75" y2="188.09" stroke="#000" stroke-width="0.8"/>
<circle cx="441.15" cy="187.43" r="1.9" fill="#000" stroke="none" stroke-width="1"/>
<circle cx="477.05" cy="193.09" r="1.9" fill="#000" stroke="none" stroke-width="1"/>
<circle cx="512.95" cy="200.08" r="1.9" fill="#000" stroke="none" stroke-width="1"/>
<polyline points="423.20,179.10 441.15,178.43 477.05,166.45 512.95,151.79" stroke="#000" stroke-width="1.1" fill="none"/>
<rect x="421.40" y="177.30" width="3.60" height="3.60" fill="#c0392b" stroke="#222" stroke-width="0.7"/>
<line x1="441.15" y1="176.10" x2="441.15" y2="180.76" stroke="#000" stroke-width="0.8"/>
<line x1="439.55" y1="176.10" x2="442.75" y2="176.10" stroke="#000" stroke-width="0.8"/>
<line x1="439.55" y1="180.76" x2="442.75" y2="180.76" stroke="#000" stroke-width="0.8"/>
<rect x="439.35" y="176.63" width="3.60" height="3.60" fill="#c0392b" stroke="#222" stroke-width="0.7"/>
<line x1="477.05" y1="164.78" x2="477.05" y2="168.11" stroke="#000" stroke-width="0.8"/>
<line x1="475.45" y1="164.78" x2="478.65" y2="164.78" stroke="#000" stroke-width="0.8"/>
<line x1="475.45" y1="168.11" x2="478.65" y2="168.11" stroke="#000" stroke-width="0.8"/>
<rect x="475.25" y="164.65" width="3.60" height="3.60" fill="#c0392b" stroke="#222" stroke-width="0.7"/>
<line x1="512.95" y1="141.80" x2="512.95" y2="161.78" stroke="#000" stroke-width="0.8"/>
<line x1="511.35" y1="141.80" x2="514.55" y2="141.80" stroke="#000" stroke-width="0.8"/>
<line x1="511.35" y1="161.78" x2="514.55" y2="161.78" stroke="#000" stroke-width="0.8"/>
<rect x="511.15" y="149.99" width="3.60" height="3.60" fill="#c0392b" stroke="#222" stroke-width="0.7"/>
<line x1="283.50" y1="129.90" x2="299.50" y2="129.90" stroke="#000" stroke-width="1.1"/>
<rect x="288.90" y="127.50" width="4.80" height="4.80" fill="#d0403a" stroke="#222" stroke-width="0.7"/>
<text x="301.20" y="131.70" font-size="5.6" text-anchor="start" font-weight="bold" fill="#000">Caspase activity</text>
<line x1="283.50" y1="138.00" x2="299.50" y2="138.00" stroke="#000" stroke-width="1.1"/>
<circle cx="291.30" cy="138.00" r="2.3" fill="#000" stroke="none" stroke-width="1"/>
<text x="301.20" y="140.00" font-size="5.6" text-anchor="start" font-weight="bold" fill="#000">Cell viability</text>
<text x="408.50" y="233.60" font-size="6.6" text-anchor="middle" font-weight="bold" fill="#000">Days Treatment (500nM JQ1)</text>
<text x="0.50" y="266.20" font-size="11.5" text-anchor="start" font-weight="bold" fill="#000">D</text>
<text x="49.90" y="286.20" font-size="8.2" text-anchor="middle" font-weight="bold" fill="#000">MHH-CALL4</text>
<text x="121.30" y="286.20" font-size="8.2" text-anchor="middle" font-weight="bold" fill="#000">MUTZ-5</text>
<rect x="16.50" y="288.70" width="66.50" height="61.70" fill="#fff" stroke="#333" stroke-width="1.0"/>
<line x1="14.90" y1="301.04" x2="16.50" y2="301.04" stroke="#555" stroke-width="0.6"/>
<line x1="14.90" y1="313.38" x2="16.50" y2="313.38" stroke="#555" stroke-width="0.6"/>
<line x1="14.90" y1="325.72" x2="16.50" y2="325.72" stroke="#555" stroke-width="0.6"/>
<line x1="14.90" y1="338.06" x2="16.50" y2="338.06" stroke="#555" stroke-width="0.6"/>
<line x1="57.70" y1="288.70" x2="57.70" y2="350.40" stroke="#888" stroke-width="0.8"/>
<line x1="16.50" y1="314.30" x2="83.00" y2="314.30" stroke="#888" stroke-width="0.8"/>
<path d="M64.2,339.5 63.2,339.6 62.7,339.4 61.8,338.9 61.3,338.4 60.9,337.9 60.8,337.4 59.8,337.4 59.2,337.6 58.8,337.3 58.5,336.4 58.8,335.9 59.1,334.9 59.1,333.9 59.2,332.9 59.3,332.4 59.4,331.4 59.2,330.9 58.8,330.3 58.6,329.4 58.7,328.4 58.7,327.4 59.0,326.9 59.5,326.4 59.8,325.9 59.9,324.9 59.9,323.9 60.0,322.9 60.1,321.9 60.2,321.2 60.4,320.4 60.7,319.4 60.7,318.4 60.5,317.4 60.5,316.4 60.4,315.4 60.3,314.4 60.5,313.4 60.8,312.8 60.9,311.9 60.8,310.9 61.0,309.9 61.3,309.4 61.8,308.8 62.2,308.2 62.5,307.4 62.3,306.4 62.2,305.9 62.3,305.4 63.2,305.3 63.8,304.9 64.0,303.9 63.9,302.9 63.8,301.9 64.1,300.9 64.3,300.4 64.7,299.4 65.2,299.0 65.7,298.4 65.9,297.9 65.8,297.3 65.5,296.4 65.8,295.7 66.2,295.2 67.0,294.9 67.8,294.6 68.3,294.4 69.2,294.0 69.8,293.7 70.6,293.4 71.2,293.0 71.8,292.7 72.8,292.5 73.2,293.0 73.7,293.9 73.9,294.4 74.2,295.1 74.8,295.7 75.2,296.0 76.2,296.4 76.5,296.9 76.7,297.9 76.5,298.9 76.6,299.9 76.8,300.5 76.9,301.4 76.8,302.4 76.7,302.9 76.7,303.9 76.6,304.9 76.6,305.9 76.5,306.9 76.1,307.4 75.6,307.9 75.3,308.9 75.2,309.5 75.1,310.4 74.9,311.4 74.7,311.9 74.2,312.9 74.1,313.4 74.2,314.4 74.7,314.9 74.8,315.4 74.5,315.9 74.1,316.4 73.7,316.9 73.4,317.9 73.1,318.4 72.8,319.2 72.5,319.9 72.2,320.7 72.1,321.4 71.9,322.4 71.7,322.9 71.4,323.9 71.2,324.4 70.8,325.4 70.3,325.9 70.0,326.4 69.8,327.4 69.7,327.9 69.7,328.9 69.8,329.4 69.8,330.4 69.7,330.9 69.5,331.9 69.3,332.9 69.2,333.4 68.9,334.4 68.6,334.9 68.0,335.4 67.4,335.9 66.8,336.4 66.3,336.9 65.9,337.4 65.7,337.9 65.2,338.6 64.8,339.2 64.2,339.5ZM47.2,345.6 46.2,345.9 45.2,345.8 44.4,345.4 43.8,345.3 42.8,345.3 41.8,345.0 41.2,344.7 40.8,344.4 39.8,344.4 39.2,344.5 38.8,344.3 38.2,343.9 38.1,342.9 38.0,341.9 37.8,341.4 37.2,340.8 36.8,340.0 36.5,339.4 36.2,338.9 35.9,337.9 36.0,336.9 35.8,335.9 35.4,335.4 34.9,334.9 34.6,334.4 34.2,333.9 34.2,332.9 34.4,332.4 34.5,331.4 34.3,330.4 34.2,329.9 33.8,329.3 33.2,328.8 32.8,328.0 32.5,327.4 32.7,326.4 33.2,326.2 34.2,326.1 34.8,325.9 34.9,324.9 34.5,324.4 34.4,323.4 34.8,322.9 35.4,322.4 36.0,321.9 36.4,321.4 36.8,320.9 37.2,320.0 37.6,319.4 38.1,318.9 38.8,318.5 39.2,318.3 39.9,317.9 40.6,317.4 41.2,317.3 42.2,317.4 43.2,317.0 43.8,316.7 44.5,316.9 45.0,317.4 45.5,317.9 46.2,318.2 46.6,317.4 46.8,316.9 47.2,316.4 48.2,316.2 48.8,316.8 49.0,317.4 49.2,318.1 49.7,318.9 49.9,319.4 50.2,320.0 51.2,320.3 51.9,319.9 52.8,319.7 53.8,319.8 54.2,320.0 54.8,320.4 54.8,321.4 54.5,321.9 54.3,322.9 54.8,323.8 55.0,324.4 54.9,325.4 55.1,326.4 55.3,326.9 55.5,327.9 55.2,328.7 54.8,329.0 54.1,329.4 54.1,330.4 54.2,331.1 54.3,331.9 54.2,332.6 53.8,333.3 53.2,333.5 52.5,333.9 52.3,334.9 52.4,335.9 52.2,336.9 51.9,337.4 51.3,337.9 50.8,338.4 50.5,338.9 50.2,339.4 49.8,340.1 49.2,340.9 48.9,341.4 48.7,341.9 48.3,342.9 48.2,343.5 48.0,344.4 47.8,345.0 47.2,345.6ZM64.2,338.5 63.2,338.7 62.4,338.4 61.9,337.9 61.8,337.2 61.8,336.5 61.8,336.4 61.2,335.5 60.8,335.1 60.2,334.5 60.2,333.9 60.3,333.4 60.5,332.4 60.3,331.4 60.2,330.9 59.9,329.9 59.8,328.9 59.8,327.9 60.1,326.9 60.3,326.4 60.6,325.4 60.8,324.7 60.9,323.9 60.8,322.9 60.9,321.9 61.2,321.0 61.4,320.4 61.5,319.4 61.4,318.4 61.3,317.4 61.3,316.4 61.2,315.9 61.0,314.9 61.1,313.9 61.3,313.4 61.8,312.5 61.8,311.9 61.8,310.9 62.2,310.0 62.5,309.4 62.8,308.9 63.1,307.9 63.3,307.4 63.8,306.6 64.1,305.9 64.4,305.4 64.7,304.4 64.8,303.9 64.8,302.9 64.7,302.4 64.8,301.9 65.0,300.9 65.3,300.4 65.8,299.7 66.2,299.0 66.5,298.4 66.8,297.8 66.8,296.9 67.2,296.1 67.8,295.8 68.4,295.4 69.2,295.0 69.8,294.8 70.6,294.4 71.2,294.3 72.2,294.4 72.8,294.8 73.2,295.3 73.8,295.9 74.2,296.4 74.8,296.9 75.2,297.2 75.7,297.9 75.8,298.4 75.9,299.4 76.1,300.4 76.1,301.4 76.1,302.4 76.1,303.4 75.9,304.4 75.8,305.2 75.6,305.9 75.2,306.9 74.9,307.4 74.6,307.9 74.4,308.9 74.2,309.4 73.9,310.4 73.7,310.9 73.6,311.9 73.4,312.9 73.2,313.6 73.2,314.4 73.2,315.4 72.8,316.4 72.6,316.9 72.3,317.9 72.2,318.4 71.9,319.4 71.7,319.9 71.2,320.9 71.0,321.4 70.8,322.4 70.7,322.9 70.6,323.9 70.2,324.6 69.8,325.1 69.2,325.8 69.2,326.3 69.3,326.9 69.2,327.5 69.1,328.4 69.1,329.4 69.0,330.4 68.8,331.3 68.5,331.9 68.2,332.6 67.8,333.4 67.6,333.9 67.2,334.8 66.9,335.4 66.4,335.9 65.9,336.4 65.5,336.9 65.2,337.4 64.8,338.1 64.2,338.5ZM45.8,344.7 44.8,344.6 44.2,344.4 43.2,344.2 42.3,343.9 41.8,343.8 41.1,343.4 40.2,343.0 39.8,342.5 39.6,341.9 39.2,341.2 38.8,340.8 38.2,340.1 38.1,339.4 38.2,338.4 38.1,337.4 37.8,336.8 37.4,335.9 37.2,335.4 37.0,334.4 36.9,333.4 36.8,332.4 36.8,331.6 36.3,330.9 35.8,330.6 35.4,329.9 35.2,329.4 34.8,328.5 34.4,327.9 34.8,327.2 35.2,326.7 35.8,326.3 36.0,325.4 35.9,324.4 36.1,323.4 36.4,322.9 36.8,322.4 37.2,321.7 37.7,320.9 37.9,320.4 38.3,319.9 39.1,319.4 39.8,319.4 40.2,319.5 41.2,319.5 41.8,319.3 42.3,318.9 43.0,318.4 43.8,318.3 44.4,318.4 45.1,318.9 45.8,319.3 46.8,319.1 47.2,318.9 48.2,318.8 48.8,319.3 49.2,319.9 49.6,320.4 50.2,320.9 50.8,321.3 51.2,321.5 52.0,321.4 52.6,320.9 52.9,320.9 52.9,321.9 52.7,322.4 52.8,322.9 53.1,323.9 53.4,324.4 53.6,325.4 53.7,326.4 53.9,326.9 53.8,327.6 53.3,328.4 53.1,328.9 53.1,329.9 53.2,330.7 53.3,331.4 53.2,331.9 52.8,332.5 51.8,332.8 51.3,333.4 51.3,334.4 51.2,334.9 51.0,335.9 50.7,336.4 50.2,337.2 49.8,337.8 49.4,338.4 49.2,338.9 48.9,339.9 48.6,340.4 48.2,341.0 47.8,341.7 47.2,342.3 46.8,342.9 46.6,343.4 46.2,344.4 45.8,344.7ZM63.8,337.6 63.1,337.4 63.2,336.4 62.9,335.4 62.6,334.9 62.2,334.4 61.9,333.4 61.7,332.9 61.2,332.1 61.0,331.4 60.8,330.6 60.6,329.9 60.5,328.9 60.5,327.9 60.8,327.0 60.9,326.4 61.2,325.4 61.4,324.9 61.8,324.3 61.8,323.4 61.6,322.9 61.6,321.9 61.8,321.4 62.2,320.4 62.2,319.4 61.9,318.4 61.9,317.4 62.0,316.4 61.8,315.4 61.8,314.9 61.8,314.3 62.0,313.4 62.3,312.9 62.4,311.9 62.7,310.9 62.9,310.4 63.2,309.4 63.3,308.9 63.6,307.9 63.9,307.4 64.2,306.8 64.7,305.9 64.9,305.4 65.2,304.4 65.3,303.9 65.3,302.9 65.5,301.9 65.8,301.2 66.1,300.4 66.3,299.9 66.8,299.1 67.0,298.4 67.3,297.9 67.8,297.0 68.2,296.5 68.8,296.2 69.2,295.9 70.1,295.4 70.8,295.3 71.8,295.4 72.2,295.6 72.8,296.0 73.2,296.5 73.8,297.0 74.3,297.4 74.9,297.9 75.2,298.7 75.4,299.4 75.7,300.4 75.7,301.4 75.6,302.4 75.5,303.4 75.3,304.4 75.1,304.9 74.8,305.9 74.7,306.4 74.2,307.3 74.0,307.9 73.8,308.5 73.5,309.4 73.2,310.2 73.0,310.9 73.0,311.9 72.8,312.9 72.7,313.4 72.5,314.4 72.4,315.4 72.2,315.9 72.0,316.9 71.8,317.8 71.6,318.4 71.3,319.4 71.1,319.9 70.8,320.5 70.2,321.4 70.1,321.9 70.0,322.9 69.8,323.9 69.2,324.4 68.8,324.8 68.6,325.4 68.8,326.3 68.9,326.9 68.8,327.8 68.6,328.4 68.6,329.4 68.4,330.4 68.2,330.9 67.8,331.9 67.5,332.4 67.2,332.9 66.9,333.9 66.7,334.4 66.2,335.2 65.8,335.7 65.2,336.2 64.8,336.8 64.2,337.3 63.8,337.6ZM45.2,343.2 44.2,343.3 43.2,343.2 42.3,342.9 41.8,342.8 41.2,342.4 40.7,341.9 40.3,340.9 39.8,340.4 39.3,339.9 39.1,339.4 39.1,338.4 39.1,337.4 38.8,336.5 38.4,335.9 38.1,335.4 37.8,334.7 37.5,333.9 37.5,332.9 37.5,331.9 37.3,330.9 36.9,330.4 36.6,329.9 36.2,329.4 35.9,328.4 35.9,327.4 36.2,326.8 36.6,325.9 36.8,325.0 36.8,324.4 37.2,323.4 37.5,322.9 37.9,322.4 38.4,321.9 38.8,321.4 39.2,320.5 40.2,320.5 40.8,320.4 41.8,320.2 42.3,319.9 43.2,319.5 43.8,319.3 44.4,319.4 45.2,319.8 45.8,320.0 46.6,319.9 47.2,319.8 48.0,319.9 48.6,320.4 49.1,320.9 49.8,321.4 50.2,321.8 50.8,322.1 51.2,322.5 51.8,323.0 52.2,323.9 52.3,324.4 52.4,325.4 52.5,326.4 52.7,327.4 52.6,328.4 52.3,329.4 52.4,330.4 52.2,331.2 51.8,331.5 51.0,331.9 50.5,332.4 50.2,332.9 50.1,333.9 49.9,334.9 49.6,335.4 49.5,336.4 49.2,337.2 48.8,337.9 48.5,338.4 48.2,339.2 48.0,339.9 47.7,340.4 47.2,340.9 46.6,341.4 46.1,341.9 45.8,342.5 45.2,343.2ZM65.2,335.0 64.2,335.3 63.6,334.9 63.1,334.4 62.8,333.9 62.3,332.9 62.0,332.4 61.8,331.6 61.6,330.9 61.3,329.9 61.2,329.4 61.0,328.4 61.2,327.4 61.3,326.9 61.7,325.9 61.9,325.4 62.2,324.9 62.4,323.9 62.3,322.9 62.5,321.9 62.8,321.4 62.9,320.4 62.8,319.4 62.6,318.9 62.4,317.9 62.5,316.9 62.6,315.9 62.5,314.9 62.5,313.9 62.8,313.2 62.9,312.4 63.1,311.4 63.4,310.9 63.7,309.9 63.8,309.0 63.9,308.4 64.2,307.7 64.7,306.9 64.9,306.4 65.2,305.7 65.4,304.9 65.7,303.9 65.8,303.4 65.9,302.4 66.2,301.5 66.5,300.9 66.8,300.4 67.0,299.4 67.3,298.9 67.8,298.1 68.2,297.5 68.8,297.0 69.2,296.7 70.0,296.4 70.8,296.3 71.2,296.5 72.2,296.8 72.8,297.1 73.2,297.5 74.0,297.9 74.5,298.4 74.8,298.9 75.2,299.9 75.2,300.8 75.2,301.0 75.2,301.9 75.1,302.9 74.8,303.9 74.7,304.4 74.4,305.4 74.2,305.9 73.9,306.9 73.6,307.4 73.2,308.4 73.1,308.9 72.8,309.9 72.6,310.4 72.4,311.4 72.4,312.4 72.2,313.1 72.1,313.9 71.9,314.9 71.8,315.9 71.7,316.4 71.4,317.4 71.2,317.9 71.0,318.9 70.8,319.5 70.2,320.4 69.9,320.9 69.6,321.4 69.4,322.4 69.2,323.1 68.8,323.7 68.2,324.0 68.1,324.9 68.2,325.9 68.4,326.4 68.4,327.4 68.2,328.1 68.1,328.9 68.0,329.9 67.8,330.5 67.2,331.2 66.8,331.9 66.7,332.4 66.4,333.4 66.2,333.9 65.8,334.6 65.2,335.0ZM45.2,341.2 44.2,341.4 43.2,341.3 42.2,341.3 41.5,340.9 40.9,340.4 40.4,339.9 40.1,339.4 39.9,338.4 39.8,337.4 39.7,336.9 39.3,335.9 38.9,335.4 38.5,334.9 38.2,334.4 38.1,333.4 38.2,332.4 38.1,331.4 37.8,330.7 37.4,329.9 37.2,329.4 37.1,328.4 37.0,327.4 37.1,326.4 37.2,325.8 37.6,324.9 37.9,324.4 38.2,323.9 38.8,323.1 39.2,322.6 39.8,322.2 40.2,321.8 40.8,321.4 41.6,320.9 42.2,320.7 42.8,320.4 43.8,320.1 44.8,320.2 45.4,320.4 46.2,320.7 47.2,320.7 47.8,320.9 48.4,321.4 49.2,321.9 49.8,322.2 50.2,322.5 50.8,322.9 51.3,323.4 51.6,324.4 51.6,325.4 51.5,326.4 51.8,327.3 51.9,327.9 51.8,328.8 51.6,329.4 51.4,330.4 51.1,330.9 50.7,331.4 50.2,331.9 49.8,332.6 49.5,333.4 49.2,334.3 48.9,334.9 48.6,335.4 48.4,336.4 48.2,337.1 47.9,337.9 47.7,338.4 47.2,339.3 46.9,339.9 46.4,340.4 45.8,340.9 45.2,341.2ZM65.2,334.2 64.2,334.4 63.4,333.9 63.1,333.4 62.7,332.9 62.4,331.9 62.3,330.9 62.2,330.4 61.8,329.7 61.5,328.9 61.5,327.9 61.8,327.1 62.1,326.4 62.4,325.9 62.8,325.1 62.9,324.4 62.9,323.4 63.1,322.4 63.4,321.9 63.5,320.9 63.4,319.9 63.2,319.3 62.9,318.4 62.9,317.4 63.0,316.4 63.0,315.4 62.9,314.4 63.1,313.4 63.2,312.9 63.4,311.9 63.8,311.2 64.1,310.4 64.1,309.4 64.2,308.5 64.5,307.9 64.8,307.4 65.2,306.6 65.5,305.9 65.7,304.9 65.9,304.4 66.1,303.4 66.2,302.7 66.5,301.9 66.8,301.4 67.1,300.4 67.2,299.9 67.6,298.9 67.9,298.4 68.4,297.9 69.2,297.4 69.8,297.2 70.8,297.1 71.7,297.4 72.2,297.7 72.8,297.9 73.8,298.3 74.2,298.8 74.6,299.4 74.8,299.9 74.9,300.9 74.9,301.9 74.8,302.7 74.5,303.4 74.2,304.3 74.1,304.9 73.8,305.9 73.7,306.4 73.2,307.4 73.0,307.9 72.8,308.7 72.6,309.4 72.2,310.4 72.1,310.9 72.0,311.9 71.9,312.9 71.8,313.6 71.6,314.4 71.5,315.4 71.3,316.4 71.2,316.9 70.8,317.9 70.7,318.4 70.4,319.4 70.1,319.9 69.8,320.5 69.2,321.3 69.0,321.9 68.8,322.8 68.2,323.2 67.8,323.6 67.5,324.4 67.8,325.4 67.9,325.9 68.1,326.9 67.9,327.9 67.8,328.5 67.6,329.4 67.2,330.2 66.8,330.8 66.3,331.4 66.2,331.9 66.0,332.9 65.8,333.7 65.2,334.2ZM44.2,340.1 43.2,340.4 42.2,340.4 41.4,339.9 41.0,339.4 40.8,338.4 40.8,337.8 40.3,336.9 40.0,336.4 39.8,335.7 39.3,334.9 38.9,334.4 38.7,333.9 38.7,332.9 38.8,332.4 38.8,331.6 38.4,330.9 38.1,330.4 37.8,329.4 37.8,328.4 37.8,327.5 37.7,326.9 37.8,326.0 37.9,325.4 38.3,324.9 38.8,324.2 39.2,323.5 39.8,323.0 40.2,322.7 40.8,322.4 41.3,321.9 41.9,321.4 42.8,321.0 43.2,320.8 44.2,320.7 45.2,320.9 45.8,321.1 46.8,321.3 47.3,321.4 48.1,321.9 48.8,322.3 49.2,322.6 49.8,322.9 50.5,323.4 50.9,323.9 51.1,324.9 51.0,325.9 51.0,326.9 51.2,327.9 51.1,328.9 50.9,329.9 50.8,330.5 50.2,331.4 49.8,331.9 49.4,332.4 49.1,332.9 48.9,333.9 48.6,334.4 48.2,335.1 47.8,335.9 47.6,336.4 47.4,337.4 47.1,337.9 46.7,338.4 45.9,338.9 45.4,339.4 44.8,339.9 44.2,340.1ZM64.8,333.7 63.8,333.5 63.2,333.0 63.0,332.4 62.9,331.4 62.9,330.4 62.5,329.9 62.1,329.4 61.8,328.4 62.1,327.4 62.4,326.9 62.8,326.4 63.2,325.4 63.3,324.9 63.3,323.9 63.4,322.9 63.8,322.3 64.1,321.4 63.9,320.4 63.8,319.6 63.5,318.9 63.3,317.9 63.3,316.9 63.3,315.9 63.3,314.9 63.3,313.9 63.6,312.9 63.8,312.2 64.0,311.4 64.3,310.9 64.4,309.9 64.5,308.9 64.8,308.2 65.2,307.4 65.5,306.9 65.8,306.3 65.9,305.4 66.1,304.4 66.3,303.9 66.5,302.9 66.8,302.2 67.1,301.4 67.3,300.9 67.5,299.9 67.8,299.3 68.2,298.5 68.8,298.1 69.2,297.8 70.2,297.6 71.2,297.8 71.8,298.0 72.8,298.4 73.2,298.5 73.9,298.9 74.2,299.5 74.6,300.4 74.6,301.4 74.5,302.4 74.2,303.3 74.0,303.9 73.8,304.8 73.6,305.4 73.3,306.4 73.1,306.9 72.8,307.8 72.5,308.4 72.2,309.3 72.1,309.9 71.8,310.9 71.7,311.4 71.6,312.4 71.5,313.4 71.3,314.4 71.2,315.1 71.2,315.9 70.9,316.9 70.7,317.4 70.3,318.4 70.2,318.9 69.8,319.9 69.4,320.4 69.0,320.9 68.7,321.4 68.3,322.4 67.8,322.9 67.2,323.4 67.0,323.9 67.2,324.9 67.4,325.4 67.7,326.4 67.8,326.9 67.7,327.4 67.4,328.4 67.2,329.1 66.8,329.9 66.3,330.4 66.0,330.9 65.8,331.5 65.5,332.4 65.2,333.3 64.8,333.7ZM43.8,339.5 42.8,339.8 41.9,339.4 41.7,338.9 41.7,337.9 41.2,337.4 40.8,336.9 40.3,335.9 40.2,335.4 39.8,334.6 39.3,333.9 39.2,333.4 39.3,332.9 39.5,331.9 39.2,331.4 38.8,330.7 38.4,329.9 38.2,329.4 38.2,328.4 38.1,327.4 38.1,326.4 38.2,325.8 38.7,324.9 39.1,324.4 39.5,323.9 40.0,323.4 40.8,323.1 41.2,322.7 41.8,322.3 42.2,321.8 42.8,321.4 43.8,321.2 44.8,321.3 45.2,321.5 46.2,321.6 47.2,321.9 47.8,322.2 48.2,322.5 49.0,322.9 49.6,323.4 50.1,323.9 50.5,324.4 50.7,325.4 50.6,326.4 50.6,327.4 50.7,328.4 50.4,329.4 50.4,330.4 50.2,330.9 49.8,331.5 49.2,332.1 48.8,332.9 48.6,333.4 48.2,334.3 47.8,334.9 47.5,335.4 47.1,335.9 46.8,336.7 46.5,337.4 45.8,337.9 45.2,338.3 44.8,338.8 44.2,339.2 43.8,339.5ZM64.8,332.6 63.8,332.6 63.5,331.9 63.8,331.4 63.8,330.6 63.2,330.1 62.8,329.6 62.3,328.9 62.2,328.4 62.3,327.9 62.8,327.4 63.2,326.9 63.5,325.9 63.8,325.0 63.8,324.4 63.7,323.9 63.8,323.3 64.2,322.5 64.6,321.9 64.5,320.9 64.2,320.0 64.1,319.4 63.8,318.6 63.6,317.9 63.6,316.9 63.6,315.9 63.5,314.9 63.6,313.9 63.8,313.4 64.0,312.4 64.2,311.7 64.6,310.9 64.7,309.9 64.8,309.4 65.0,308.4 65.3,307.9 65.8,307.0 66.0,306.4 66.2,305.4 66.3,304.9 66.5,303.9 66.8,303.0 66.9,302.4 67.2,301.8 67.6,300.9 67.8,300.2 67.9,299.4 68.2,298.9 68.8,298.4 69.8,298.0 70.8,298.0 71.8,298.4 72.2,298.6 73.2,298.9 73.8,299.3 74.1,299.9 74.3,300.4 74.3,301.4 74.2,302.3 74.1,302.9 73.8,303.9 73.6,304.4 73.3,305.4 73.2,305.9 72.9,306.9 72.6,307.4 72.2,308.3 72.1,308.9 71.8,309.9 71.6,310.4 71.4,311.4 71.3,312.4 71.2,312.9 71.1,313.9 71.0,314.9 70.9,315.9 70.8,316.7 70.4,317.4 70.2,317.9 69.8,318.9 69.6,319.4 69.2,320.1 68.8,320.7 68.2,321.3 67.9,321.9 67.5,322.4 67.0,322.9 66.6,323.4 66.5,324.4 66.8,324.9 67.2,325.8 67.5,326.4 67.3,327.4 67.1,327.9 66.9,328.9 66.7,329.4 66.2,329.9 65.6,330.4 65.2,330.9 64.9,331.9 64.8,332.6ZM43.8,338.7 42.8,338.8 42.3,337.9 41.9,337.4 41.4,336.9 40.9,336.4 40.7,335.9 40.5,334.9 40.2,334.2 39.9,333.4 40.1,332.4 39.8,331.4 39.4,330.9 39.1,330.4 38.8,329.9 38.6,328.9 38.5,327.9 38.4,326.9 38.5,325.9 38.8,325.4 39.2,324.8 39.8,324.2 40.2,323.8 41.0,323.4 41.7,322.9 42.2,322.4 42.8,322.0 43.2,321.8 44.2,321.7 45.2,321.9 45.8,321.9 46.8,322.1 47.5,322.4 48.2,322.9 48.8,323.3 49.2,323.7 49.8,324.2 50.2,324.9 50.3,325.4 50.2,326.0 50.2,326.9 50.2,327.9 50.1,328.9 50.0,329.9 49.8,330.9 49.4,331.4 49.0,331.9 48.6,332.4 48.2,333.2 48.0,333.9 47.7,334.4 47.2,335.1 46.8,335.7 46.2,336.2 45.8,336.9 45.4,337.4 44.8,337.9 44.2,338.4 43.8,338.7ZM65.2,330.0 64.2,330.0 63.8,329.8 63.2,329.4 62.8,328.4 63.2,327.8 63.8,327.2 63.9,326.4 64.1,325.4 64.4,324.9 64.3,323.9 64.2,323.4 64.5,322.9 64.9,322.4 65.2,321.4 64.8,320.4 64.6,319.9 64.2,319.1 64.0,318.4 63.9,317.4 63.9,316.4 63.8,315.4 63.8,314.4 64.1,313.4 64.2,312.7 64.4,311.9 64.8,311.2 65.0,310.4 65.1,309.4 65.2,308.7 65.6,307.9 65.8,307.4 66.2,306.6 66.4,305.9 66.6,304.9 66.8,304.0 66.9,303.4 67.2,302.4 67.4,301.9 67.8,301.1 67.9,300.4 68.2,299.4 68.5,298.9 69.2,298.5 69.8,298.3 70.8,298.3 71.2,298.5 72.2,298.9 72.8,299.1 73.4,299.4 73.8,299.9 74.0,300.9 74.0,301.9 73.8,302.9 73.7,303.4 73.4,304.4 73.2,304.9 73.0,305.9 72.8,306.6 72.4,307.4 72.1,307.9 71.8,308.9 71.6,309.4 71.4,310.4 71.2,310.9 71.1,311.9 71.0,312.9 70.9,313.9 70.8,314.9 70.8,315.6 70.6,316.4 70.2,317.3 69.9,317.9 69.7,318.4 69.3,319.4 69.0,319.9 68.5,320.4 68.0,320.9 67.5,321.4 67.1,321.9 66.6,322.4 66.2,323.1 65.9,323.9 66.2,324.9 66.7,325.4 67.0,325.9 67.1,326.9 66.8,327.9 66.6,328.4 66.2,329.3 65.8,329.8 65.2,330.0ZM43.8,338.0 43.1,337.9 42.5,337.4 41.9,336.9 41.4,336.4 41.1,335.9 40.9,334.9 40.8,334.0 40.6,333.4 40.5,332.4 40.2,331.7 39.8,330.9 39.4,330.4 39.1,329.9 38.9,328.9 38.8,327.9 38.8,327.4 38.7,326.4 38.9,325.9 39.2,325.3 39.8,324.7 40.2,324.3 40.9,323.9 41.7,323.4 42.2,323.0 42.8,322.5 43.2,322.3 44.2,322.2 45.2,322.3 46.2,322.4 46.8,322.5 47.7,322.9 48.2,323.4 48.8,323.8 49.2,324.3 49.8,324.9 49.9,325.4 49.9,326.4 49.8,327.4 49.8,328.0 49.6,328.9 49.6,329.9 49.4,330.9 49.1,331.4 48.6,331.9 48.1,332.4 47.8,333.3 47.5,333.9 47.2,334.5 46.8,335.1 46.2,335.6 45.7,335.9 45.2,336.6 44.8,337.2 44.2,337.7 43.8,338.0ZM67.2,321.0 66.2,321.4 65.7,320.9 65.2,320.4 64.8,319.5 64.5,318.9 64.2,318.3 64.1,317.4 64.1,316.4 64.0,315.4 64.0,314.4 64.2,313.7 64.5,312.9 64.7,311.9 64.9,311.4 65.2,310.4 65.3,309.9 65.5,308.9 65.8,308.3 66.1,307.4 66.4,306.9 66.7,305.9 66.8,305.4 66.9,304.4 67.1,303.4 67.3,302.9 67.7,301.9 67.9,301.4 68.1,300.4 68.2,299.9 68.8,299.1 69.2,298.7 70.2,298.5 71.2,298.7 71.8,298.9 72.8,299.4 73.2,299.8 73.6,300.4 73.8,301.2 73.8,301.9 73.7,302.4 73.5,303.4 73.2,304.3 73.1,304.9 72.8,305.9 72.6,306.4 72.2,307.2 71.9,307.9 71.7,308.4 71.4,309.4 71.2,309.9 71.0,310.9 70.8,311.9 70.8,312.9 70.7,313.4 70.6,314.4 70.6,315.4 70.4,316.4 70.2,316.9 69.8,317.8 69.4,318.4 69.2,318.9 68.8,319.8 68.2,320.3 67.8,320.7 67.2,321.0ZM44.2,337.1 43.2,337.4 42.5,336.9 41.9,336.4 41.5,335.9 41.3,334.9 41.2,334.4 41.1,333.4 40.9,332.4 40.7,331.9 40.2,331.2 39.8,330.4 39.4,329.9 39.2,329.4 39.2,328.4 39.1,327.4 39.1,326.4 39.2,325.9 39.8,325.2 40.2,324.8 40.8,324.4 41.5,323.9 42.2,323.4 42.8,323.0 43.2,322.7 44.2,322.7 45.2,322.8 46.2,322.8 47.0,322.9 47.8,323.4 48.2,323.9 48.8,324.3 49.2,324.9 49.5,325.4 49.5,326.4 49.4,327.4 49.3,328.4 49.2,328.9 49.2,329.9 49.3,330.4 49.1,330.9 48.7,331.4 48.1,331.9 47.7,332.4 47.2,333.4 47.0,333.9 46.8,334.5 46.2,335.0 45.6,335.4 45.0,335.9 44.7,336.4 44.2,337.1ZM65.8,329.1 64.8,329.4 63.8,328.9 63.7,328.4 64.1,327.9 64.3,327.4 64.3,326.4 64.7,325.4 65.2,325.1 66.2,325.4 66.6,325.9 66.8,326.4 66.8,327.0 66.3,327.9 66.1,328.4 65.8,329.1ZM67.2,320.5 66.2,320.7 65.8,320.4 65.2,319.8 64.8,319.0 64.6,318.4 64.4,317.4 64.3,316.4 64.2,315.9 64.2,314.9 64.3,314.4 64.6,313.4 64.8,312.9 64.9,311.9 65.2,311.1 65.4,310.4 65.6,309.4 65.8,308.9 66.2,307.9 66.4,307.4 66.8,306.8 67.0,305.9 67.1,304.9 67.2,304.0 67.4,303.4 67.7,302.4 67.9,301.9 68.2,300.9 68.3,300.4 68.7,299.4 69.2,299.0 69.8,298.8 70.8,298.8 71.2,299.0 72.2,299.4 72.8,299.7 73.2,300.4 73.4,300.9 73.5,301.9 73.4,302.9 73.2,303.6 73.0,304.4 72.8,305.4 72.6,305.9 72.2,306.9 71.9,307.4 71.6,307.9 71.3,308.9 71.1,309.4 70.9,310.4 70.7,310.9 70.6,311.9 70.6,312.9 70.5,313.9 70.4,314.9 70.3,315.9 70.1,316.4 69.8,317.3 69.4,317.9 69.1,318.4 68.8,319.2 68.2,319.9 67.8,320.2 67.2,320.5ZM43.8,336.8 42.8,336.6 42.2,336.1 41.8,335.4 41.7,334.9 41.7,333.9 41.5,332.9 41.2,332.4 40.8,331.5 40.3,330.9 40.0,330.4 39.7,329.9 39.5,328.9 39.4,327.9 39.4,326.9 39.6,325.9 40.0,325.4 40.6,324.9 41.2,324.5 41.8,324.1 42.2,323.7 42.8,323.4 43.8,323.0 44.8,323.1 45.8,323.2 46.8,323.3 47.2,323.6 47.8,324.0 48.3,324.4 48.8,324.9 49.1,325.9 49.0,326.9 49.0,327.9 48.9,328.9 48.9,329.9 48.8,330.8 48.2,331.4 47.8,331.8 47.2,332.3 46.9,332.9 46.7,333.4 46.2,334.3 45.8,334.8 45.2,335.0 44.5,335.4 44.2,336.0 43.8,336.8ZM65.2,328.5 65.0,327.9 64.8,326.9 65.0,325.9 65.8,325.7 66.2,326.2 66.3,326.9 65.9,327.4 65.5,327.9 65.2,328.5ZM67.2,320.2 66.2,320.3 65.8,319.9 65.2,319.3 64.8,318.4 64.7,317.9 64.6,316.9 64.4,315.9 64.4,314.9 64.7,313.9 64.8,313.4 65.1,312.4 65.2,311.8 65.5,310.9 65.8,310.1 65.9,309.4 66.2,308.6 66.5,307.9 66.8,307.4 67.2,306.4 67.3,305.9 67.4,304.9 67.5,303.9 67.8,303.0 67.9,302.4 68.2,301.4 68.4,300.9 68.7,299.9 69.0,299.4 69.8,299.0 70.8,299.0 71.8,299.4 72.2,299.6 72.8,300.1 73.1,300.9 73.2,301.7 73.3,302.4 73.2,302.9 73.0,303.9 72.8,304.9 72.6,305.4 72.3,306.4 72.0,306.9 71.7,307.4 71.2,308.3 71.0,308.9 70.8,309.9 70.6,310.4 70.4,311.4 70.4,312.4 70.4,313.4 70.3,314.4 70.2,314.9 70.0,315.9 69.8,316.8 69.4,317.4 69.1,317.9 68.8,318.6 68.2,319.4 67.8,319.9 67.2,320.2ZM43.2,335.6 42.7,335.4 42.2,334.9 42.2,333.9 42.3,333.4 42.1,332.9 41.7,332.4 41.2,331.8 40.8,331.2 40.2,330.5 40.0,329.9 39.8,329.1 39.7,328.4 39.8,327.9 39.8,326.9 40.1,325.9 40.6,325.4 41.1,324.9 41.8,324.5 42.2,324.1 42.8,323.7 43.2,323.4 44.2,323.4 44.8,323.5 45.8,323.6 46.8,323.8 47.2,324.2 47.8,324.5 48.2,325.0 48.6,325.9 48.6,326.9 48.6,327.9 48.6,328.9 48.5,329.9 48.3,330.9 47.8,331.4 47.2,331.7 46.8,332.4 46.5,332.9 46.1,333.4 45.2,333.9 44.2,333.9 43.8,334.4 43.5,334.9 43.2,335.6ZM66.8,320.0 66.2,319.9 65.7,319.4 65.2,318.8 65.0,317.9 64.8,316.9 64.7,316.4 64.6,315.4 64.7,314.4 64.9,313.9 65.2,312.9 65.3,312.4 65.6,311.4 65.8,310.9 66.1,309.9 66.2,309.4 66.6,308.4 66.8,307.9 67.2,307.0 67.4,306.4 67.6,305.4 67.7,304.4 67.8,303.9 68.0,302.9 68.2,302.1 68.4,301.4 68.7,300.4 68.9,299.9 69.3,299.4 70.2,299.2 71.2,299.3 71.8,299.6 72.3,299.9 72.8,300.8 72.9,301.4 73.1,302.4 73.0,303.4 72.8,304.3 72.6,304.9 72.3,305.9 72.1,306.4 71.8,307.1 71.2,307.8 70.9,308.4 70.8,309.0 70.5,309.9 70.3,310.9 70.2,311.4 70.2,312.4 70.2,313.4 70.1,314.4 69.9,315.4 69.8,316.1 69.4,316.9 69.1,317.4 68.8,318.0 68.2,318.8 67.8,319.4 67.2,319.8 66.8,320.0ZM45.8,333.0 44.8,333.2 44.0,332.9 43.2,332.7 42.5,332.4 41.8,332.0 41.2,331.5 40.8,330.9 40.5,330.4 40.2,329.9 40.0,328.9 40.1,327.9 40.2,326.9 40.3,326.4 40.8,325.8 41.2,325.3 41.8,324.8 42.2,324.4 42.8,323.9 43.8,323.6 44.8,323.7 45.8,323.9 46.2,324.1 47.0,324.4 47.7,324.9 48.1,325.4 48.2,326.4 48.2,327.4 48.3,327.9 48.3,328.9 48.2,329.4 48.1,330.4 47.7,330.9 47.0,331.4 46.5,331.9 46.2,332.5 45.8,333.0ZM66.8,319.5 66.2,319.4 65.7,318.9 65.3,317.9 65.2,317.4 64.9,316.4 64.8,315.4 65.0,314.4 65.2,313.7 65.4,312.9 65.7,311.9 65.9,311.4 66.2,310.4 66.3,309.9 66.7,308.9 66.9,308.4 67.2,307.6 67.6,306.9 67.8,306.1 67.8,305.4 68.0,304.4 68.2,303.4 68.2,302.9 68.5,301.9 68.7,300.9 68.9,300.4 69.2,299.8 69.8,299.4 70.8,299.4 71.2,299.5 72.0,299.9 72.4,300.4 72.6,301.4 72.8,302.0 72.8,302.9 72.8,303.7 72.6,304.4 72.3,305.4 72.1,305.9 71.8,306.8 71.3,307.4 70.9,307.9 70.6,308.4 70.4,309.4 70.2,310.0 70.0,310.9 70.0,311.9 70.0,312.9 70.0,313.9 69.8,314.9 69.7,315.4 69.4,316.4 69.1,316.9 68.8,317.6 68.2,318.2 67.8,318.8 67.2,319.3 66.8,319.5ZM45.2,332.6 44.5,332.4 43.8,332.1 42.8,332.0 42.2,331.9 41.6,331.4 41.1,330.9 40.7,330.4 40.3,329.4 40.2,328.9 40.3,328.4 40.4,327.4 40.7,326.4 41.0,325.9 41.4,325.4 42.0,324.9 42.5,324.4 43.2,324.0 43.8,323.9 44.5,323.9 45.2,324.1 46.2,324.4 46.8,324.7 47.2,325.1 47.8,325.8 47.9,326.4 48.0,327.4 48.1,328.4 48.0,329.4 47.8,330.3 47.2,330.8 46.8,331.2 46.2,331.6 45.8,332.3 45.2,332.6ZM66.8,318.5 66.2,318.4 65.8,317.9 65.3,316.9 65.1,316.4 65.0,315.4 65.2,314.4 65.4,313.9 65.7,312.9 65.8,312.4 66.1,311.4 66.3,310.9 66.6,309.9 66.8,309.4 67.2,308.5 67.5,307.9 67.8,307.3 68.0,306.4 68.1,305.4 68.2,304.6 68.4,303.9 68.5,302.9 68.7,301.9 68.8,301.4 69.1,300.4 69.4,299.9 70.2,299.6 71.2,299.7 71.8,300.0 72.2,300.9 72.4,301.4 72.6,302.4 72.6,303.4 72.4,304.4 72.2,305.1 72.0,305.9 71.8,306.5 71.2,307.3 70.8,307.9 70.4,308.4 70.2,308.9 70.0,309.9 69.8,310.9 69.7,311.4 69.8,312.0 69.8,312.9 69.8,313.9 69.7,314.4 69.4,315.4 69.2,316.0 68.8,316.9 68.4,317.4 67.8,317.9 67.2,318.0 66.8,318.5ZM45.2,331.8 44.2,331.8 43.2,331.6 42.2,331.5 41.8,331.2 41.2,330.8 40.8,330.1 40.5,329.4 40.6,328.4 40.7,327.4 40.8,326.9 41.2,326.1 41.8,325.5 42.2,325.0 42.8,324.6 43.2,324.2 44.2,324.1 45.2,324.4 45.8,324.6 46.5,324.9 47.2,325.4 47.4,325.9 47.6,326.9 47.8,327.6 47.8,328.4 47.8,329.1 47.5,329.9 47.1,330.4 46.3,330.9 45.8,331.4 45.2,331.8ZM68.2,317.1 67.2,317.2 66.2,317.3 65.7,316.9 65.2,316.0 65.2,315.4 65.3,314.9 65.7,313.9 65.8,313.4 66.0,312.4 66.2,311.8 66.6,310.9 66.8,310.4 67.2,309.4 67.5,308.9 67.8,308.4 68.1,307.4 68.2,306.4 68.3,305.9 68.4,304.9 68.7,303.9 68.8,303.1 68.8,302.4 69.0,301.4 69.2,300.5 69.7,299.9 70.2,299.7 71.2,299.9 71.8,300.3 72.0,300.9 72.2,301.9 72.3,302.4 72.5,303.4 72.3,304.4 72.1,304.9 71.8,305.9 71.6,306.4 71.2,307.1 70.8,307.6 70.2,308.2 69.9,308.9 69.8,309.8 69.5,310.4 69.4,311.4 69.6,312.4 69.7,313.4 69.4,314.4 69.2,315.1 69.0,315.9 68.8,316.5 68.2,317.1ZM45.2,331.2 44.2,331.3 43.2,331.2 42.2,331.1 41.8,330.9 41.2,330.4 40.8,329.4 40.8,328.4 40.9,327.4 41.2,326.6 41.7,325.9 42.2,325.4 42.7,324.9 43.2,324.5 43.8,324.4 44.5,324.4 45.2,324.7 45.8,324.9 46.6,325.4 47.0,325.9 47.2,326.5 47.5,327.4 47.6,328.4 47.3,329.4 47.1,329.9 46.5,330.4 45.8,330.9 45.2,331.2ZM68.2,316.5 67.2,316.7 66.2,316.7 65.8,316.4 65.5,315.4 65.8,314.6 66.0,313.9 66.2,312.9 66.3,312.4 66.7,311.4 67.0,310.9 67.2,310.1 67.6,309.4 68.1,308.9 68.4,308.4 68.5,307.4 68.5,306.4 68.6,305.4 68.8,304.8 69.0,303.9 69.1,302.9 69.2,301.9 69.2,301.1 69.5,300.4 70.2,299.9 70.8,299.9 71.2,300.2 71.8,300.9 71.8,301.4 72.0,302.4 72.2,303.0 72.2,303.9 72.1,304.4 71.8,305.4 71.7,305.9 71.2,306.8 70.8,307.3 70.2,307.8 69.8,308.3 69.5,308.9 69.3,309.9 69.2,310.4 69.1,311.4 69.2,312.0 69.5,312.9 69.4,313.9 69.2,314.4 68.8,315.4 68.6,315.9 68.2,316.5ZM44.2,331.0 43.3,330.9 42.8,330.9 41.8,330.5 41.2,330.0 41.1,329.4 41.2,328.4 41.2,327.4 41.4,326.9 41.8,326.3 42.2,325.7 42.8,325.2 43.2,324.8 44.2,324.6 45.1,324.9 45.8,325.4 46.2,325.8 46.8,326.3 47.0,326.9 47.2,327.7 47.3,328.4 47.2,328.9 46.8,329.7 46.2,330.2 45.8,330.5 44.8,330.9 44.2,331.0ZM70.2,307.5 69.2,307.8 68.8,306.9 68.7,306.4 68.8,305.9 69.0,304.9 69.2,304.1 69.4,303.4 69.5,302.4 69.4,301.4 69.7,300.4 70.2,300.2 71.2,300.4 71.5,300.9 71.5,301.9 71.8,302.5 72.1,303.4 72.0,304.4 71.8,305.2 71.5,305.9 71.2,306.5 70.8,307.1 70.2,307.5ZM67.8,316.2 66.8,316.3 66.0,315.9 66.0,314.9 66.2,314.0 66.3,313.4 66.6,312.4 66.8,311.9 67.2,311.2 67.7,310.4 67.9,309.9 68.8,309.7 68.8,310.1 68.5,310.9 68.8,311.5 69.1,312.4 69.3,312.9 69.2,313.6 69.0,314.4 68.7,314.9 68.2,315.8 67.8,316.2ZM44.8,330.6 43.8,330.7 42.8,330.5 42.2,330.3 41.8,329.9 41.6,328.9 41.5,327.9 41.7,326.9 42.0,326.4 42.3,325.9 42.8,325.4 43.4,324.9 44.2,324.8 44.8,325.0 45.3,325.4 45.8,326.0 46.2,326.6 46.8,327.2 47.0,327.9 46.8,328.9 46.5,329.4 46.0,329.9 45.2,330.4 44.8,330.6ZM70.2,307.2 69.2,307.1 69.0,306.4 69.1,305.4 69.3,304.9 69.7,303.9 69.8,303.4 69.9,302.4 69.8,301.8 69.8,301.1 70.2,300.4 70.8,300.4 71.2,300.9 71.1,301.9 71.3,302.4 71.8,303.1 71.9,303.9 71.8,304.6 71.5,305.4 71.2,306.2 70.8,306.9 70.2,307.2ZM67.8,315.6 66.8,315.5 66.6,314.9 66.6,313.9 66.7,312.9 66.9,312.4 67.2,311.9 68.2,311.6 68.8,312.3 69.0,312.9 68.9,313.9 68.7,314.4 68.2,315.1 67.8,315.6ZM45.2,330.0 44.2,330.4 43.2,330.3 42.6,329.9 42.3,328.9 42.1,328.4 41.8,327.4 42.2,326.5 42.6,325.9 43.1,325.4 43.8,325.1 44.8,325.3 45.2,325.9 45.6,326.4 45.9,326.9 46.4,327.4 46.6,328.4 46.2,329.1 45.8,329.7 45.2,330.0ZM70.2,301.5 70.2,300.9 70.3,300.9 70.2,301.5ZM69.8,307.0 69.3,306.4 69.4,305.4 69.8,304.6 70.1,303.9 70.3,303.4 70.8,302.9 71.2,303.1 71.6,303.9 71.4,304.9 71.2,305.7 70.9,306.4 70.2,306.9 69.8,307.0ZM68.2,314.5 67.2,314.6 67.0,313.9 67.1,312.9 67.3,312.4 68.2,312.3 68.8,312.9 68.8,313.4 68.6,313.9 68.2,314.5ZM44.2,330.0 43.5,329.9 43.1,329.4 42.8,328.4 42.4,327.9 42.4,326.9 42.8,326.3 43.2,325.6 43.8,325.3 44.4,325.4 44.9,325.9 45.2,326.7 45.7,327.4 46.0,327.9 45.9,328.9 45.4,329.4 44.8,329.9 44.2,330.0ZM70.2,306.6 69.7,306.4 69.7,305.4 70.0,304.9 70.3,304.4 70.8,303.8 71.3,303.9 71.2,304.7 71.1,305.4 70.8,306.2 70.2,306.6ZM67.8,314.0 67.6,313.4 67.8,312.9 68.3,312.9 68.2,313.8 67.8,314.0ZM44.2,329.5 43.8,329.2 43.6,328.4 43.2,327.9 42.9,326.9 43.2,326.1 43.8,325.7 44.5,325.9 44.8,326.4 45.1,327.4 45.4,327.9 45.3,328.9 44.8,329.4 44.2,329.5Z" stroke="#111" stroke-width="0.45" fill="none"/>
<text x="17.90" y="294.70" font-size="5.9" text-anchor="start" fill="#000">Veh</text>
<text x="82.50" y="294.70" font-size="5.9" text-anchor="end" fill="#000">29.5%</text>
<text x="17.40" y="348.40" font-size="5.9" text-anchor="start" fill="#000">46.8%</text>
<text x="82.50" y="348.40" font-size="5.9" text-anchor="end" fill="#000">23.7%</text>
<rect x="16.50" y="355.10" width="66.50" height="61.50" fill="#fff" stroke="#333" stroke-width="1.0"/>
<line x1="14.90" y1="367.40" x2="16.50" y2="367.40" stroke="#555" stroke-width="0.6"/>
<line x1="14.90" y1="379.70" x2="16.50" y2="379.70" stroke="#555" stroke-width="0.6"/>
<line x1="14.90" y1="392.00" x2="16.50" y2="392.00" stroke="#555" stroke-width="0.6"/>
<line x1="14.90" y1="404.30" x2="16.50" y2="404.30" stroke="#555" stroke-width="0.6"/>
<line x1="56.50" y1="355.10" x2="56.50" y2="416.60" stroke="#888" stroke-width="0.8"/>
<line x1="16.50" y1="381.20" x2="83.00" y2="381.20" stroke="#888" stroke-width="0.8"/>
<path d="M61.8,404.5 61.2,404.4 60.8,403.8 60.5,402.9 60.3,401.9 60.2,401.4 59.9,400.4 59.8,399.7 59.4,398.9 59.2,398.4 58.9,397.4 58.8,396.4 58.9,395.4 59.0,394.4 59.2,393.4 59.3,392.9 59.6,391.9 59.8,391.3 59.9,390.4 60.1,389.4 60.3,388.9 60.4,387.9 60.2,387.2 60.2,386.4 60.4,385.9 60.5,384.9 60.6,383.9 60.8,383.4 60.9,382.4 60.9,381.4 60.8,380.5 60.8,380.3 61.1,379.4 61.1,378.4 61.2,377.4 61.4,376.9 61.7,375.9 61.8,375.2 62.1,374.4 62.3,373.9 62.6,372.9 62.8,372.0 62.9,371.4 63.2,370.4 63.3,369.9 63.4,368.9 63.8,368.0 63.9,367.4 64.1,366.4 64.4,365.9 64.8,365.1 65.1,364.4 65.4,363.9 65.8,363.3 66.0,362.4 66.2,361.4 66.7,360.9 67.2,360.4 67.8,360.1 68.3,359.9 69.2,359.4 69.8,358.9 70.2,358.6 71.2,358.5 72.2,358.4 73.2,358.5 74.1,358.9 74.4,359.4 74.8,360.1 75.1,360.9 75.3,361.4 75.8,362.3 75.9,362.9 76.0,363.9 76.1,364.9 76.1,365.9 75.9,366.9 75.8,367.9 75.7,368.4 75.7,369.4 75.5,370.4 75.2,371.1 75.1,371.9 74.8,372.9 74.6,373.4 74.4,374.4 74.5,375.4 74.2,376.1 74.1,376.9 74.1,377.9 74.0,378.9 73.8,379.6 73.7,380.4 73.7,381.4 73.3,382.4 73.1,382.9 72.8,383.9 72.7,384.4 72.7,385.4 72.3,386.4 72.1,386.9 71.8,387.4 71.2,388.0 71.0,388.9 70.8,389.9 70.6,390.4 70.4,391.4 70.7,392.4 70.9,392.9 70.8,393.6 70.2,393.9 69.4,394.4 69.2,394.9 69.1,395.9 68.8,396.9 68.7,397.4 68.7,398.4 68.7,399.4 68.6,400.4 68.2,401.0 67.8,401.4 66.8,401.8 66.2,402.1 65.9,402.9 65.8,403.4 65.2,403.9 64.2,404.2 63.2,404.1 62.2,404.3 61.8,404.5ZM43.8,407.4 43.2,407.2 42.8,406.6 42.2,406.3 41.5,406.4 40.8,406.5 40.2,406.4 39.6,405.9 39.3,404.9 39.5,403.9 39.3,402.9 38.9,402.4 38.5,401.9 38.0,401.4 37.4,400.9 37.2,400.4 37.3,399.9 37.4,398.9 37.1,398.4 36.7,397.9 36.0,397.4 35.5,396.9 35.2,396.4 34.8,395.4 34.5,394.9 34.6,393.9 34.8,393.3 35.2,392.6 35.8,392.1 35.9,391.4 35.8,390.7 35.5,389.9 35.8,389.3 36.2,388.8 37.1,388.4 37.5,387.9 37.8,387.4 38.2,386.6 38.8,386.0 39.2,385.7 40.2,385.6 40.8,385.3 41.8,384.9 42.8,385.0 43.7,385.4 44.2,385.7 44.8,385.9 45.2,385.8 46.2,385.4 47.2,385.5 48.1,385.9 48.8,386.2 49.2,386.5 49.8,387.0 50.2,387.9 50.2,388.7 50.4,389.4 50.7,390.4 51.2,390.9 51.7,391.4 52.2,391.9 52.5,392.4 52.8,392.9 53.2,393.9 53.2,394.9 53.2,395.9 52.9,396.9 52.5,397.4 52.1,397.9 51.8,398.9 51.4,399.4 50.8,399.9 50.3,400.4 50.0,400.9 49.7,401.4 49.2,402.3 48.8,402.8 48.3,403.4 47.9,403.9 47.6,404.4 47.2,405.1 46.8,405.5 46.1,405.9 45.2,406.3 44.8,406.8 44.2,407.2 43.8,407.4ZM63.8,401.9 62.8,402.0 62.2,401.7 61.8,401.0 61.2,400.4 60.9,399.9 60.6,399.4 60.2,398.4 60.1,397.9 59.8,396.9 59.7,396.4 59.7,395.4 59.8,394.9 59.9,393.9 60.2,392.9 60.3,392.4 60.6,391.4 60.8,390.5 60.9,389.9 61.2,388.9 61.3,388.4 61.4,387.4 61.4,386.4 61.6,385.4 61.6,384.4 61.6,383.4 61.7,382.4 61.7,381.4 61.8,380.9 62.0,379.9 62.0,378.9 62.0,377.9 62.2,377.2 62.8,376.5 63.0,375.9 63.1,374.9 63.2,374.1 63.4,373.4 63.5,372.4 63.8,371.4 63.8,370.9 63.9,369.9 64.2,368.9 64.3,368.4 64.6,367.4 64.8,366.8 65.1,365.9 65.3,365.4 65.8,364.6 66.2,363.9 66.5,363.4 66.8,362.8 67.1,361.9 67.6,361.4 68.2,360.9 68.8,360.6 69.3,360.4 70.1,359.9 70.8,359.5 71.2,359.3 72.2,359.2 73.0,359.4 73.7,359.9 74.0,360.4 74.2,361.4 74.4,361.9 74.8,362.6 75.1,363.4 75.2,364.4 75.3,364.9 75.4,365.9 75.3,366.9 75.2,367.4 75.1,368.4 75.0,369.4 74.8,370.4 74.6,370.9 74.3,371.9 74.1,372.4 73.8,373.4 73.6,373.9 73.5,374.9 73.2,375.8 73.1,376.4 73.1,377.4 73.2,378.4 73.1,379.4 72.8,380.4 72.7,380.9 72.6,381.9 72.3,382.9 72.1,383.4 71.8,384.2 71.5,384.9 71.2,385.4 70.8,386.4 70.6,386.9 70.2,387.7 70.0,388.4 70.0,389.4 69.8,390.4 69.6,390.9 69.5,391.9 69.2,392.5 68.8,393.2 68.5,393.9 68.3,394.9 68.2,395.4 67.9,396.4 67.8,397.0 67.7,397.9 67.5,398.9 67.2,399.8 67.0,400.4 66.2,400.7 65.2,400.7 64.8,401.0 64.2,401.6 63.8,401.9ZM45.2,404.9 44.2,405.1 43.2,405.0 42.5,404.9 41.8,404.5 41.3,403.9 41.1,403.4 40.8,402.4 40.6,401.9 40.2,401.2 39.8,400.8 39.1,400.4 38.8,399.7 38.6,398.9 38.2,397.9 37.8,397.4 37.4,396.9 37.0,396.4 36.8,395.7 36.7,394.9 36.6,393.9 36.8,393.4 37.1,392.4 37.0,391.4 37.0,390.4 37.5,389.9 38.2,389.4 38.8,389.0 39.2,388.4 39.4,387.9 39.8,387.4 40.8,386.9 41.2,386.7 42.2,386.6 42.9,386.9 43.8,387.3 44.2,387.5 45.2,387.5 45.8,387.2 46.8,386.9 47.8,387.1 48.2,387.4 48.8,388.0 49.2,388.9 49.3,389.4 49.5,390.4 49.8,391.2 50.1,391.9 50.4,392.4 50.9,392.9 51.4,393.4 51.5,394.4 51.2,395.3 50.9,395.9 50.3,396.4 49.9,396.9 50.1,397.9 50.0,398.9 49.2,399.3 48.8,399.4 48.2,400.0 48.1,400.9 47.8,401.8 47.6,402.4 47.2,403.0 46.8,403.7 46.2,404.2 45.8,404.6 45.2,404.9ZM63.2,400.5 62.6,400.4 61.9,399.9 61.5,399.4 61.2,398.8 60.9,397.9 60.8,397.2 60.5,396.4 60.5,395.4 60.6,394.4 60.8,393.5 60.9,392.9 61.1,391.9 61.2,391.3 61.5,390.4 61.7,389.4 61.8,388.9 62.0,387.9 62.1,386.9 62.1,385.9 62.2,385.2 62.3,384.4 62.2,383.6 62.2,382.9 62.2,382.1 62.3,381.4 62.5,380.4 62.7,379.4 62.6,378.4 62.8,377.6 63.1,376.9 63.4,376.4 63.7,375.4 63.8,374.9 63.9,373.9 64.1,372.9 64.2,372.2 64.4,371.4 64.4,370.4 64.6,369.4 64.8,368.7 65.0,367.9 65.2,366.9 65.4,366.4 65.8,365.6 66.2,364.9 66.5,364.4 66.9,363.9 67.2,363.3 67.8,362.4 68.2,361.9 68.8,361.4 69.2,361.2 69.9,360.9 70.8,360.4 71.2,360.2 72.2,360.1 72.9,360.4 73.2,360.9 73.6,361.9 73.8,362.4 74.2,363.2 74.5,363.9 74.7,364.9 74.8,365.4 74.9,366.4 74.8,367.4 74.7,367.9 74.6,368.9 74.4,369.9 74.2,370.4 73.8,371.4 73.7,371.9 73.4,372.9 73.2,373.4 72.9,374.4 72.8,375.2 72.5,375.9 72.3,376.9 72.5,377.9 72.6,378.9 72.4,379.9 72.2,380.4 72.1,381.4 71.9,382.4 71.7,382.9 71.2,383.7 70.9,384.4 70.7,384.9 70.4,385.9 70.1,386.4 69.8,387.2 69.5,387.9 69.3,388.9 69.2,389.4 69.1,390.4 68.8,391.4 68.6,391.9 68.2,392.7 68.0,393.4 67.8,394.4 67.7,394.9 67.4,395.9 67.2,396.4 67.0,397.4 66.8,398.4 66.5,398.9 65.9,399.4 65.2,399.6 64.5,399.9 63.8,400.3 63.2,400.5ZM44.8,403.4 44.0,403.4 43.2,403.1 42.7,402.9 42.2,402.4 42.2,401.4 41.8,400.4 41.2,400.3 40.2,400.0 39.8,399.5 39.5,398.9 39.2,398.0 39.0,397.4 38.7,396.9 38.4,395.9 38.8,395.0 39.0,394.4 39.2,393.7 39.3,392.9 39.1,392.4 38.9,391.4 39.2,390.8 39.8,390.4 40.5,389.9 41.1,389.4 41.5,388.9 42.1,388.4 42.8,388.2 43.4,388.4 44.2,388.7 45.2,388.8 46.2,388.8 47.1,388.9 47.8,389.0 48.2,389.5 48.5,390.4 48.5,391.4 48.8,391.9 49.2,392.7 49.7,393.4 49.9,393.9 49.8,394.5 49.2,394.9 48.7,395.4 48.2,395.9 47.8,396.7 47.6,397.4 47.5,398.4 47.4,399.4 47.3,400.4 47.2,400.9 46.8,401.8 46.4,402.4 45.9,402.9 45.2,403.3 44.8,403.4ZM64.8,399.1 63.8,399.3 62.8,399.3 62.2,398.8 61.8,397.9 61.6,397.4 61.3,396.4 61.2,395.7 61.2,394.9 61.2,394.2 61.4,393.4 61.6,392.4 61.8,391.8 61.9,390.9 62.2,389.9 62.3,389.4 62.4,388.4 62.6,387.4 62.6,386.4 62.7,385.4 62.9,384.9 62.9,383.9 62.8,382.9 62.8,381.9 62.9,380.9 63.1,379.9 63.2,378.9 63.2,377.9 63.4,377.4 63.8,376.7 64.2,375.9 64.3,375.4 64.4,374.4 64.6,373.4 64.8,372.6 64.9,371.9 64.9,370.9 64.9,369.9 65.1,368.9 65.3,368.4 65.5,367.4 65.8,366.7 66.1,365.9 66.3,365.4 66.8,364.8 67.2,364.2 67.8,363.4 68.1,362.9 68.5,362.4 69.2,361.9 69.8,361.6 70.4,361.4 71.2,361.0 72.2,361.2 72.8,361.6 73.2,362.4 73.5,362.9 73.8,363.5 74.1,364.4 74.2,365.0 74.5,365.9 74.5,366.9 74.3,367.9 74.2,368.4 74.0,369.4 73.8,370.3 73.5,370.9 73.2,371.4 73.0,372.4 72.8,372.9 72.4,373.9 72.2,374.6 72.1,375.4 71.8,376.2 71.7,376.9 71.8,377.4 72.0,378.4 72.0,379.4 71.8,380.2 71.6,380.9 71.5,381.9 71.2,382.6 70.8,383.4 70.6,383.9 70.2,384.7 70.0,385.4 69.8,386.0 69.3,386.9 69.0,387.4 68.7,387.9 68.4,388.9 68.4,389.9 68.2,390.6 68.0,391.4 67.8,392.3 67.6,392.9 67.4,393.9 67.2,394.5 67.1,395.4 66.8,396.2 66.6,396.9 66.3,397.9 65.9,398.4 65.2,398.8 64.8,399.1ZM46.2,400.4 45.2,400.4 44.8,400.2 44.0,399.9 43.2,399.4 42.8,399.2 42.2,398.8 41.8,398.3 41.1,397.9 40.7,397.4 40.6,396.4 40.5,395.4 40.4,394.4 40.4,393.4 40.3,392.4 40.3,391.4 40.8,390.7 41.2,390.3 42.0,389.9 42.8,389.5 43.8,389.8 44.2,389.9 45.2,389.9 46.2,389.9 47.2,390.4 47.3,390.9 47.6,391.9 47.9,392.4 48.1,393.4 47.8,394.2 47.5,394.9 47.2,395.6 47.0,396.4 46.8,397.4 46.8,398.4 46.7,398.9 46.4,399.9 46.2,400.4ZM64.8,398.5 63.8,398.6 63.2,398.4 62.7,397.9 62.2,397.1 62.0,396.4 61.8,395.4 61.8,394.4 61.9,393.4 62.1,392.4 62.2,391.8 62.4,390.9 62.7,389.9 62.8,389.4 62.9,388.4 63.0,387.4 63.0,386.4 63.2,385.4 63.3,384.9 63.4,383.9 63.3,382.9 63.2,382.4 63.2,381.4 63.3,380.9 63.5,379.9 63.6,378.9 63.6,377.9 63.8,377.4 64.2,376.7 64.7,375.9 64.8,375.4 64.9,374.4 65.1,373.4 65.2,372.4 65.3,371.9 65.3,370.9 65.3,369.9 65.5,368.9 65.8,367.9 65.9,367.4 66.2,366.4 66.4,365.9 66.8,365.3 67.2,364.8 67.8,364.1 68.2,363.4 68.6,362.9 69.2,362.4 69.8,362.1 70.4,361.9 71.2,361.6 72.1,361.9 72.6,362.4 73.0,362.9 73.2,363.4 73.7,364.4 73.9,364.9 74.1,365.9 74.1,366.9 74.0,367.9 73.8,368.9 73.7,369.4 73.3,370.4 73.1,370.9 72.8,371.7 72.5,372.4 72.2,373.0 71.9,373.9 71.8,374.7 71.5,375.4 71.3,376.4 71.4,377.4 71.6,378.4 71.6,379.4 71.4,380.4 71.2,380.9 71.1,381.9 70.8,382.7 70.4,383.4 70.1,383.9 69.8,384.9 69.6,385.4 69.2,386.0 68.8,386.8 68.2,387.3 67.8,387.9 67.6,388.4 67.6,389.4 67.6,390.4 67.4,391.4 67.2,392.2 67.1,392.9 67.0,393.9 66.8,394.9 66.7,395.4 66.3,396.4 66.1,396.9 65.8,397.7 65.2,398.2 64.8,398.5ZM45.8,398.4 44.8,398.4 44.4,397.9 43.8,397.5 42.8,397.4 42.2,397.0 41.8,396.4 41.5,395.9 41.3,394.9 41.2,394.4 41.2,393.8 41.4,392.9 41.2,392.4 41.2,391.4 41.8,390.9 42.2,390.7 43.2,390.9 43.8,391.2 44.2,391.4 44.8,391.3 45.8,391.3 46.2,391.5 46.8,392.0 47.1,392.9 46.9,393.9 46.8,394.6 46.5,395.4 46.2,396.1 45.9,396.9 45.8,397.9 45.8,398.4ZM64.8,397.9 63.8,397.9 63.2,397.4 62.8,396.9 62.5,396.4 62.3,395.4 62.2,394.9 62.2,393.9 62.3,393.4 62.6,392.4 62.8,391.8 63.0,390.9 63.2,390.0 63.4,389.4 63.4,388.4 63.5,387.4 63.4,386.4 63.7,385.4 63.8,384.9 63.9,383.9 63.8,383.0 63.6,382.4 63.6,381.4 63.8,380.5 63.9,379.9 63.9,378.9 64.0,377.9 64.3,377.4 64.8,376.6 65.1,375.9 65.2,375.0 65.4,374.4 65.5,373.4 65.6,372.4 65.6,371.4 65.6,370.4 65.7,369.4 65.8,368.9 66.0,367.9 66.2,367.0 66.5,366.4 66.8,365.8 67.2,365.2 67.8,364.6 68.2,363.9 68.6,363.4 69.2,362.9 69.8,362.5 70.2,362.3 71.2,362.1 72.0,362.4 72.5,362.9 72.9,363.4 73.2,364.2 73.5,364.9 73.8,365.5 73.9,366.4 73.8,367.4 73.7,367.9 73.5,368.9 73.2,369.8 73.0,370.4 72.8,370.9 72.4,371.9 72.2,372.4 71.8,373.3 71.6,373.9 71.3,374.9 71.1,375.4 71.0,376.4 71.1,377.4 71.2,378.4 71.2,379.4 71.1,380.4 70.9,381.4 70.8,381.9 70.3,382.9 70.0,383.4 69.8,384.0 69.4,384.9 69.2,385.4 68.8,386.0 68.2,386.5 67.8,386.9 67.2,387.4 66.8,388.4 66.8,389.4 66.9,390.4 66.8,391.4 66.7,391.9 66.7,392.9 66.6,393.9 66.4,394.9 66.2,395.4 65.8,396.4 65.6,396.9 65.2,397.5 64.8,397.9ZM44.2,396.0 43.2,396.3 42.5,395.9 42.2,395.4 42.2,394.4 42.4,393.9 42.8,393.4 43.4,392.9 44.2,392.5 45.2,392.5 45.8,392.9 45.9,393.9 45.8,394.7 45.4,395.4 44.8,395.8 44.2,396.0ZM64.8,397.0 63.8,396.9 63.2,396.5 62.9,395.9 62.7,395.4 62.6,394.4 62.7,393.4 62.8,392.9 63.2,391.9 63.5,391.4 63.8,390.8 64.0,389.9 64.0,388.9 64.1,387.9 64.1,386.9 64.1,385.9 64.2,385.3 64.4,384.4 64.2,383.5 64.1,382.9 63.9,381.9 64.0,380.9 64.2,379.9 64.2,378.9 64.3,378.4 64.7,377.4 65.1,376.9 65.4,376.4 65.6,375.4 65.7,374.4 65.8,373.9 65.9,372.9 65.9,371.9 65.9,370.9 65.9,369.9 66.1,368.9 66.2,368.1 66.4,367.4 66.7,366.4 67.0,365.9 67.4,365.4 67.9,364.9 68.3,364.4 68.8,363.7 69.2,363.2 69.8,362.9 70.8,362.5 71.8,362.6 72.2,363.0 72.8,363.8 73.0,364.4 73.3,364.9 73.6,365.9 73.6,366.9 73.5,367.9 73.3,368.9 73.2,369.4 72.8,370.3 72.5,370.9 72.2,371.5 71.9,372.4 71.6,372.9 71.2,373.8 71.1,374.4 70.8,375.4 70.7,375.9 70.7,376.9 70.8,377.4 70.9,378.4 70.9,379.4 70.8,380.4 70.7,380.9 70.5,381.9 70.2,382.4 69.8,383.3 69.5,383.9 69.2,384.4 68.8,385.3 68.2,385.8 67.8,386.2 67.2,386.5 66.8,386.9 66.3,387.9 66.2,388.4 66.1,389.4 66.1,390.4 65.9,391.4 66.1,392.4 66.2,393.4 66.2,394.4 65.9,395.4 65.6,395.9 65.2,396.4 64.8,397.0ZM43.8,394.9 43.3,394.4 43.8,393.6 44.8,393.7 44.8,394.4 44.2,394.8 43.8,394.9ZM65.8,386.4 65.2,385.9 65.0,385.4 64.8,384.4 64.7,383.9 64.4,382.9 64.2,382.1 64.2,381.4 64.3,380.9 64.4,379.9 64.5,378.9 64.8,378.0 65.2,377.4 65.5,376.9 65.8,376.4 65.9,375.4 66.1,374.4 66.2,373.4 66.2,372.4 66.1,371.4 66.1,370.4 66.2,369.4 66.3,368.9 66.5,367.9 66.7,366.9 66.9,366.4 67.2,365.8 67.8,365.3 68.2,364.7 68.8,364.1 69.2,363.6 69.8,363.2 70.8,362.9 71.2,362.8 71.8,363.0 72.2,363.5 72.8,364.3 73.0,364.9 73.2,365.4 73.4,366.4 73.3,367.4 73.2,367.9 73.1,368.9 72.8,369.8 72.5,370.4 72.2,370.9 71.8,371.9 71.6,372.4 71.2,373.0 70.9,373.9 70.8,374.4 70.4,375.4 70.4,376.4 70.5,377.4 70.6,378.4 70.6,379.4 70.5,380.4 70.3,381.4 70.2,381.9 69.8,382.8 69.4,383.4 69.2,383.9 68.8,384.7 68.2,385.2 67.8,385.6 67.2,385.9 66.2,386.2 65.8,386.4ZM65.2,389.0 65.1,388.4 65.2,387.7 65.4,388.4 65.2,389.0ZM64.8,396.0 63.8,396.1 63.3,395.4 63.2,394.9 63.1,393.9 63.2,393.0 63.7,392.4 64.2,391.9 65.2,392.3 65.5,392.9 65.8,393.6 65.8,394.4 65.6,394.9 65.2,395.5 64.8,396.0ZM66.8,385.4 66.0,385.4 65.4,384.9 65.1,384.4 64.9,383.4 64.7,382.9 64.5,381.9 64.5,380.9 64.7,379.9 64.8,379.4 65.0,378.4 65.2,377.8 65.8,377.1 66.1,376.4 66.2,375.4 66.3,374.9 66.6,373.9 66.6,372.9 66.4,371.9 66.4,370.9 66.4,369.9 66.6,368.9 66.7,367.9 66.8,367.4 67.1,366.4 67.5,365.9 67.9,365.4 68.4,364.9 68.9,364.4 69.4,363.9 70.2,363.4 70.8,363.2 71.6,363.4 72.2,363.9 72.5,364.4 72.8,364.9 73.2,365.9 73.2,366.9 73.0,367.9 72.9,368.9 72.7,369.4 72.2,370.3 72.0,370.9 71.8,371.5 71.3,372.4 71.1,372.9 70.8,373.6 70.4,374.4 70.2,374.9 70.1,375.9 70.2,376.9 70.3,377.4 70.3,378.4 70.4,379.4 70.3,380.4 70.2,380.9 70.0,381.9 69.7,382.4 69.2,383.2 68.8,383.9 68.5,384.4 68.1,384.9 67.2,385.3 66.8,385.4ZM64.8,395.1 63.9,394.9 63.7,394.4 63.7,393.4 64.2,392.9 65.0,393.4 65.2,394.4 64.8,395.1ZM66.8,384.9 66.1,384.9 65.5,384.4 65.2,383.7 65.0,382.9 64.8,381.9 64.8,380.9 65.0,379.9 65.1,378.9 65.3,378.4 65.8,377.6 66.2,377.0 66.5,376.4 66.5,375.4 66.8,374.6 67.0,373.9 66.9,372.9 66.8,372.3 66.6,371.4 66.6,370.4 66.7,369.4 66.8,368.9 66.9,367.9 67.1,366.9 67.3,366.4 67.8,365.8 68.2,365.3 68.8,364.8 69.2,364.3 70.0,363.9 70.8,363.6 71.8,363.8 72.2,364.3 72.6,364.9 72.8,365.4 73.0,366.4 72.9,367.4 72.8,368.4 72.7,368.9 72.3,369.9 72.0,370.4 71.8,371.0 71.3,371.9 71.1,372.4 70.8,373.0 70.3,373.9 70.0,374.4 69.8,375.4 69.9,376.4 70.0,377.4 70.0,378.4 70.1,379.4 70.0,380.4 69.9,381.4 69.7,381.9 69.2,382.8 68.8,383.4 68.5,383.9 68.0,384.4 67.2,384.8 66.8,384.9ZM67.2,384.4 66.2,384.4 65.8,384.1 65.4,383.4 65.2,382.7 65.1,381.9 65.1,380.9 65.2,379.9 65.3,379.4 65.6,378.4 65.9,377.9 66.4,377.4 66.8,376.7 66.8,375.9 67.1,374.9 67.3,374.4 67.5,373.4 67.2,372.7 66.9,371.9 66.8,370.9 66.9,369.9 67.0,368.9 67.1,367.9 67.2,367.1 67.5,366.4 67.9,365.9 68.4,365.4 69.0,364.9 69.6,364.4 70.2,364.0 71.2,363.9 71.9,364.4 72.3,364.9 72.8,365.8 72.8,366.4 72.8,366.9 72.6,367.9 72.5,368.9 72.2,369.5 71.8,370.4 71.6,370.9 71.2,371.6 70.8,372.4 70.5,372.9 70.2,373.4 69.8,374.1 69.4,374.9 69.4,375.9 69.6,376.9 69.7,377.9 69.8,378.7 69.8,379.4 69.8,380.4 69.7,380.9 69.5,381.9 69.2,382.4 68.8,383.0 68.2,383.6 67.8,384.1 67.2,384.4ZM69.2,373.9 68.4,373.9 68.0,373.4 67.7,372.9 67.2,372.0 67.1,371.4 67.1,370.4 67.2,369.4 67.3,368.9 67.3,367.9 67.5,366.9 67.8,366.3 68.2,365.7 68.8,365.3 69.2,364.8 70.2,364.4 70.8,364.3 71.4,364.4 72.1,364.9 72.4,365.4 72.6,366.4 72.5,367.4 72.4,368.4 72.2,369.0 71.8,369.9 71.6,370.4 71.2,371.2 70.9,371.9 70.6,372.4 70.2,372.9 69.8,373.5 69.2,373.9ZM67.2,383.9 66.2,384.0 65.8,383.4 65.6,382.9 65.4,381.9 65.3,380.9 65.5,379.9 65.7,378.9 65.9,378.4 66.3,377.9 66.8,377.4 67.2,376.4 67.2,375.7 67.7,374.9 68.2,374.5 68.8,375.0 69.0,375.9 69.2,376.7 69.3,377.4 69.4,378.4 69.5,379.4 69.6,380.4 69.4,381.4 69.2,381.9 68.8,382.6 68.2,383.1 67.8,383.5 67.2,383.9ZM69.8,373.1 68.8,373.3 68.2,372.9 67.8,372.3 67.3,371.4 67.3,370.4 67.4,369.4 67.5,368.4 67.5,367.4 67.8,366.6 68.2,366.0 68.8,365.5 69.2,365.1 69.8,364.8 70.8,364.6 71.7,364.9 72.1,365.4 72.3,365.9 72.3,366.9 72.2,367.6 72.2,368.4 71.9,369.4 71.6,369.9 71.2,370.7 70.9,371.4 70.6,371.9 70.2,372.4 69.8,373.1ZM66.8,383.5 66.2,383.4 65.8,382.4 65.7,381.9 65.6,380.9 65.7,379.9 65.9,379.4 66.2,378.4 66.8,377.9 67.2,377.4 67.8,376.9 68.2,376.4 68.3,376.4 68.8,377.2 68.9,377.9 69.0,378.9 69.2,379.9 69.3,380.4 69.2,381.0 69.0,381.9 68.6,382.4 67.9,382.9 67.2,383.3 66.8,383.5ZM69.2,372.9 68.8,372.8 68.2,372.4 67.8,371.8 67.5,370.9 67.6,369.9 67.7,368.9 67.7,367.9 67.8,367.1 68.1,366.4 68.6,365.9 69.2,365.4 69.8,365.1 70.7,364.9 70.8,364.9 71.8,365.2 72.1,365.9 72.1,366.9 72.0,367.9 71.9,368.9 71.7,369.4 71.2,370.2 70.9,370.9 70.7,371.4 70.2,372.0 69.8,372.6 69.2,372.9ZM67.8,382.4 66.8,382.6 66.2,382.1 66.0,381.4 66.0,380.4 66.2,379.4 66.5,378.9 67.0,378.4 67.8,378.1 68.2,378.6 68.6,379.4 68.8,379.9 69.0,380.9 68.8,381.7 68.2,382.2 67.8,382.4ZM69.2,372.5 68.7,372.4 68.2,371.9 67.8,370.9 67.8,369.9 67.9,368.9 67.9,367.9 68.0,366.9 68.3,366.4 68.9,365.9 69.7,365.4 70.2,365.2 71.2,365.2 71.8,365.7 71.9,366.4 71.8,367.4 71.8,368.4 71.7,368.9 71.2,369.8 71.0,370.4 70.7,370.9 70.2,371.5 69.8,372.1 69.2,372.5ZM67.8,381.9 67.2,381.9 66.6,381.4 66.4,380.4 66.8,379.7 67.8,379.5 68.3,379.9 68.7,380.9 68.2,381.8 67.8,381.9ZM69.2,372.0 68.7,371.9 68.2,371.4 68.0,370.4 68.1,369.4 68.1,368.4 68.0,367.4 68.2,366.7 68.8,366.2 69.2,365.8 70.2,365.5 71.2,365.7 71.6,366.4 71.5,367.4 71.5,368.4 71.3,369.4 71.0,369.9 70.8,370.4 70.2,371.1 69.8,371.7 69.2,372.0ZM67.8,381.4 67.2,381.0 67.2,380.4 67.8,380.3 68.2,380.9 67.8,381.4ZM69.2,371.5 68.7,371.4 68.3,370.4 68.3,369.4 68.3,368.4 68.2,367.9 68.2,367.2 68.8,366.4 69.2,366.1 69.8,365.9 70.7,365.9 71.2,366.4 71.3,366.9 71.3,367.9 71.3,368.9 71.1,369.4 70.8,370.0 70.2,370.7 69.8,371.2 69.2,371.5ZM69.2,371.0 68.8,370.7 68.6,369.9 68.6,368.9 68.4,367.9 68.6,366.9 69.2,366.4 69.8,366.2 70.6,366.4 70.8,366.9 71.0,367.9 71.0,368.9 70.8,369.6 70.2,370.3 69.8,370.8 69.2,371.0ZM69.8,370.4 69.1,370.4 68.8,369.4 68.8,368.7 68.7,367.9 68.8,367.2 69.2,366.7 70.2,366.8 70.5,367.4 70.8,368.3 70.8,368.9 70.6,369.4 70.2,370.0 69.8,370.4ZM69.8,370.0 69.2,369.9 69.1,368.9 69.0,367.9 69.2,367.1 69.9,367.4 70.2,367.9 70.5,368.9 70.2,369.5 69.8,370.0Z" stroke="#111" stroke-width="0.45" fill="none"/>
<text x="17.90" y="361.10" font-size="5.9" text-anchor="start" fill="#000">JQ1</text>
<text x="82.50" y="361.10" font-size="5.9" text-anchor="end" fill="#d9403a">62.9%</text>
<text x="17.40" y="414.60" font-size="5.9" text-anchor="start" fill="#d9403a">15.0%</text>
<text x="82.50" y="414.60" font-size="5.9" text-anchor="end" fill="#000">22.0%</text>
<rect x="87.00" y="288.70" width="66.40" height="61.70" fill="#fff" stroke="#333" stroke-width="1.0"/>
<line x1="85.40" y1="301.04" x2="87.00" y2="301.04" stroke="#555" stroke-width="0.6"/>
<line x1="85.40" y1="313.38" x2="87.00" y2="313.38" stroke="#555" stroke-width="0.6"/>
<line x1="85.40" y1="325.72" x2="87.00" y2="325.72" stroke="#555" stroke-width="0.6"/>
<line x1="85.40" y1="338.06" x2="87.00" y2="338.06" stroke="#555" stroke-width="0.6"/>
<line x1="132.80" y1="288.70" x2="132.80" y2="350.40" stroke="#888" stroke-width="0.8"/>
<line x1="87.00" y1="311.80" x2="153.40" y2="311.80" stroke="#888" stroke-width="0.8"/>
<path d="M124.2,346.5 123.2,346.6 122.8,346.4 122.2,345.9 121.7,345.4 121.1,344.9 120.2,344.7 119.7,344.4 118.9,343.9 118.6,343.4 118.4,342.4 118.2,341.9 117.8,341.4 117.2,340.8 117.0,339.9 116.9,338.9 116.8,338.4 116.2,337.6 115.8,337.1 115.3,336.4 115.0,335.9 114.8,335.2 114.2,334.6 113.8,333.9 113.8,333.3 113.2,332.5 112.8,332.0 112.5,331.4 112.4,330.4 112.2,329.9 112.0,328.9 112.2,328.1 112.5,327.4 112.4,326.4 112.2,325.9 112.2,325.0 112.5,324.4 112.8,323.9 113.2,323.3 113.6,322.4 113.8,321.9 113.9,320.9 113.7,320.4 113.7,319.4 114.1,318.9 114.5,318.4 114.9,317.9 115.2,317.4 116.0,316.9 116.8,316.6 117.2,316.0 117.6,315.4 118.1,314.9 118.6,314.4 119.2,314.0 120.2,314.0 121.2,314.3 122.2,314.1 122.8,313.9 123.8,313.9 124.2,314.1 125.2,314.3 126.2,314.2 127.2,314.2 127.9,314.4 128.7,314.9 129.2,315.2 129.8,315.5 130.7,315.4 131.2,315.1 132.2,315.0 133.2,315.3 134.2,315.4 134.9,314.9 135.1,313.9 134.9,312.9 134.8,312.0 134.8,311.9 134.9,310.9 135.2,310.1 135.5,309.4 135.7,308.4 135.7,307.4 135.9,306.9 136.8,306.6 137.0,305.9 136.8,304.9 136.4,304.4 136.0,303.9 135.5,303.4 135.1,302.9 134.8,302.1 134.7,301.4 134.7,300.4 134.8,299.9 135.0,298.9 135.2,298.4 135.6,297.4 135.8,296.9 136.0,295.9 136.2,295.4 137.2,295.0 138.2,295.0 138.8,294.9 139.8,294.6 140.8,294.5 141.8,294.9 142.2,295.1 142.8,295.5 143.2,296.0 143.9,296.4 144.7,296.9 145.2,297.3 145.8,297.8 146.1,298.4 146.1,299.4 146.2,300.4 146.4,300.9 146.7,301.9 146.9,302.4 147.1,303.4 147.1,304.4 146.8,305.4 146.5,305.9 146.1,306.4 145.7,306.9 145.2,307.7 144.8,308.4 144.2,308.8 143.8,309.0 142.8,309.2 141.8,309.3 141.6,309.9 141.8,310.5 142.0,311.4 142.1,312.4 142.2,313.4 142.8,313.9 143.2,314.4 143.6,314.9 144.0,315.4 144.7,315.9 145.2,316.3 145.8,316.8 146.2,317.4 146.6,317.9 146.8,318.4 147.2,319.4 147.2,320.4 147.2,321.4 146.9,322.4 146.8,323.0 146.5,323.9 146.2,324.7 146.0,325.4 145.8,326.1 145.2,326.9 144.8,327.4 144.2,327.8 143.8,328.1 143.2,328.5 142.2,328.9 141.8,329.4 141.6,329.9 141.7,330.9 141.8,331.4 141.8,332.3 141.2,332.9 140.8,333.4 140.7,333.9 140.6,334.9 140.2,335.6 139.9,336.4 139.7,336.9 139.4,337.9 138.8,338.4 137.8,338.4 137.2,338.7 136.8,339.3 136.4,339.9 135.8,340.4 134.8,340.3 134.0,340.4 133.2,340.7 132.5,340.9 132.1,341.4 131.8,342.2 131.2,342.8 130.8,343.0 130.1,343.4 129.8,344.1 129.2,344.8 128.8,345.0 127.8,345.1 126.8,345.4 126.2,345.7 125.8,346.0 124.8,346.4 124.2,346.5ZM124.2,345.1 123.2,345.2 122.6,344.9 122.0,344.4 121.4,343.9 120.8,343.7 120.2,343.4 119.8,342.8 119.4,341.9 119.2,341.4 118.8,340.9 118.2,340.2 117.8,339.4 117.7,338.9 117.5,337.9 117.2,337.1 116.8,336.5 116.2,336.0 116.0,335.4 115.8,334.8 115.3,333.9 115.1,333.4 114.8,332.4 114.8,331.9 114.3,330.9 114.0,330.4 113.7,329.9 113.2,329.0 113.2,328.4 113.3,327.9 113.5,326.9 113.4,325.9 113.4,324.9 113.7,323.9 114.0,323.4 114.3,322.9 114.8,322.1 115.0,321.4 115.2,320.4 115.3,319.9 115.5,318.9 115.8,318.4 116.2,317.8 116.9,317.4 117.6,316.9 118.0,316.4 118.5,315.9 119.2,315.5 119.8,315.4 120.8,315.3 121.8,315.1 122.8,315.0 123.2,314.9 123.8,315.0 124.8,315.2 125.8,315.2 126.8,315.1 127.8,315.3 128.2,315.5 129.0,315.9 129.8,316.3 130.8,316.3 131.8,316.1 132.8,316.1 133.8,316.3 134.8,316.4 135.3,315.9 135.8,315.1 135.9,314.4 136.1,313.4 136.1,312.4 136.2,311.6 136.5,310.9 136.7,309.9 136.8,309.4 137.2,308.7 137.8,308.3 138.4,307.9 138.6,306.9 138.2,306.0 137.9,305.4 137.6,304.9 137.2,304.4 136.8,303.8 136.2,303.1 135.8,302.4 135.6,301.9 135.4,300.9 135.5,299.9 135.8,299.3 136.1,298.4 136.3,297.9 136.7,296.9 136.9,296.4 137.4,295.9 138.2,295.7 139.2,295.4 139.8,295.3 140.8,295.3 141.2,295.5 142.1,295.9 142.8,296.4 143.2,296.8 143.8,297.2 144.2,297.6 144.8,297.9 145.2,298.7 145.4,299.4 145.6,300.4 145.8,300.9 146.2,301.9 146.2,302.9 146.1,303.9 145.8,304.9 145.6,305.4 145.2,305.9 144.8,306.5 144.2,307.1 143.8,307.6 142.8,307.9 142.2,308.0 141.8,307.9 140.8,307.9 140.2,307.9 139.6,308.4 139.8,308.9 140.2,309.5 140.7,310.4 140.9,310.9 141.1,311.9 141.1,312.9 141.2,313.9 141.8,314.3 142.2,314.7 142.8,315.2 143.2,315.9 143.7,316.4 144.2,316.8 144.8,317.2 145.2,317.8 145.5,318.4 145.8,319.0 146.1,319.9 146.2,320.9 146.1,321.9 145.8,322.9 145.7,323.4 145.4,324.4 145.2,324.9 144.8,325.9 144.4,326.4 143.8,326.9 143.2,327.1 142.5,327.4 141.8,327.8 141.2,327.9 140.5,328.4 140.2,329.1 140.2,329.9 140.2,330.6 140.2,331.1 140.1,331.9 139.8,332.8 139.6,333.4 139.3,334.4 139.0,334.9 138.7,335.4 138.2,336.3 137.8,336.9 137.2,337.2 136.8,337.6 136.2,338.0 135.7,338.4 134.9,338.9 134.2,339.3 133.8,339.5 132.8,339.8 132.1,339.9 131.2,340.4 130.8,340.9 130.4,341.4 129.8,341.9 129.2,342.4 129.0,342.9 128.8,343.5 128.2,343.9 127.2,344.2 126.2,344.4 125.8,344.6 124.8,344.9 124.2,345.1ZM142.8,307.0 141.8,307.1 140.8,307.0 140.2,306.9 139.5,306.4 139.0,305.9 138.5,305.4 138.1,304.9 137.8,304.4 137.2,303.6 136.8,302.9 136.5,302.4 136.2,301.7 136.1,300.9 136.1,299.9 136.3,299.4 136.8,298.5 137.0,297.9 137.2,297.3 137.8,296.6 138.2,296.3 139.2,296.0 139.8,295.9 140.8,295.9 141.2,296.1 141.9,296.4 142.6,296.9 143.2,297.4 143.8,297.9 144.2,298.4 144.7,298.9 144.9,299.4 145.2,300.4 145.4,300.9 145.7,301.9 145.7,302.9 145.5,303.9 145.2,304.8 144.9,305.4 144.4,305.9 143.8,306.4 143.2,306.8 142.8,307.0ZM125.2,344.0 124.2,344.3 123.2,344.3 122.7,343.9 122.2,343.4 121.5,342.9 120.8,342.4 120.4,341.9 120.1,341.4 119.7,340.9 119.2,340.3 118.8,339.6 118.5,338.9 118.3,337.9 118.3,336.9 118.0,336.4 117.6,335.9 117.1,335.4 116.8,334.8 116.2,334.0 115.9,333.4 115.7,332.9 115.4,331.9 115.2,331.2 114.8,330.4 114.5,329.9 114.2,329.4 114.1,328.4 114.2,327.4 114.2,326.4 114.1,325.4 114.2,324.4 114.5,323.9 114.8,323.4 115.2,322.7 115.6,321.9 115.8,321.4 115.9,320.4 116.2,319.4 116.4,318.9 116.8,318.4 117.5,317.9 118.1,317.4 118.6,316.9 119.2,316.5 119.8,316.4 120.8,316.1 121.6,315.9 122.2,315.9 123.2,315.9 123.8,316.0 124.8,316.0 125.8,316.0 126.2,315.9 127.2,315.9 127.8,316.0 128.7,316.4 129.2,316.7 130.2,316.9 131.2,316.9 132.0,316.9 132.8,317.1 133.4,317.4 134.2,317.8 135.2,317.5 135.6,316.9 135.9,316.4 136.2,315.7 136.6,314.9 136.8,314.4 137.2,313.7 137.8,313.1 137.9,312.4 137.9,311.4 137.8,310.4 138.2,309.4 138.8,309.4 139.2,309.6 139.8,310.1 140.2,310.9 140.3,311.4 140.3,312.4 140.2,312.9 140.2,313.8 140.6,314.4 141.1,314.9 141.8,315.3 142.2,315.7 142.8,316.3 143.2,316.9 143.8,317.4 144.2,317.9 144.6,318.4 144.9,318.9 145.2,319.6 145.5,320.4 145.5,321.4 145.2,322.3 145.0,322.9 144.8,323.7 144.5,324.4 144.2,324.9 143.8,325.6 143.2,326.1 142.8,326.5 141.8,326.9 141.2,327.0 140.8,326.9 139.8,326.9 139.2,327.2 139.1,327.9 139.1,328.9 139.1,329.9 139.2,330.9 139.2,331.9 139.0,332.9 138.8,333.5 138.2,334.3 137.9,334.9 137.6,335.4 137.2,335.9 136.7,336.4 136.1,336.9 135.3,337.4 134.8,337.7 134.1,337.9 133.2,338.4 132.8,338.6 131.8,338.9 131.2,339.1 130.8,339.5 130.2,340.1 129.8,340.8 129.2,341.3 128.8,341.8 128.3,342.4 127.8,342.9 127.2,343.3 126.8,343.5 125.8,343.8 125.2,344.0ZM143.2,306.2 142.2,306.4 141.2,306.4 140.2,306.2 139.8,305.9 139.1,305.4 138.6,304.9 138.2,304.4 137.8,303.5 137.4,302.9 137.2,302.4 136.8,301.4 136.6,300.9 136.7,299.9 136.8,299.4 137.2,298.6 137.5,297.9 137.8,297.4 138.2,296.9 139.2,296.5 139.8,296.4 140.2,296.5 141.2,296.7 141.8,296.9 142.6,297.4 143.1,297.9 143.6,298.4 144.1,298.9 144.3,299.4 144.7,300.4 144.9,300.9 145.2,301.9 145.3,302.4 145.2,303.2 145.1,303.9 144.8,304.8 144.2,305.4 143.8,305.9 143.2,306.2ZM124.2,343.5 123.5,343.4 122.8,342.9 122.2,342.6 121.8,342.2 121.2,341.7 120.8,341.1 120.2,340.6 119.8,339.9 119.4,339.4 119.2,338.9 119.0,337.9 119.1,336.9 118.8,336.1 118.2,335.5 117.9,334.9 117.6,334.4 117.2,333.9 116.7,333.4 116.2,332.8 116.0,331.9 115.8,331.0 115.5,330.4 115.2,329.9 114.8,328.9 114.9,327.9 114.9,326.9 114.8,325.9 114.7,325.4 114.8,324.9 115.2,323.9 115.5,323.4 115.8,322.9 116.2,322.0 116.4,321.4 116.6,320.4 116.8,319.9 117.2,319.0 117.8,318.6 118.2,318.2 118.8,317.7 119.2,317.4 120.2,317.0 120.8,316.9 121.8,316.6 122.8,316.6 123.8,316.7 124.8,316.7 125.8,316.6 126.8,316.5 127.8,316.7 128.4,316.9 129.2,317.3 130.2,317.4 130.8,317.5 131.8,317.7 132.2,318.0 132.8,318.5 133.4,318.9 134.2,319.2 134.8,318.9 135.2,318.4 135.8,317.9 136.2,317.1 136.6,316.4 136.9,315.9 137.2,315.4 137.8,314.9 138.8,314.5 139.8,314.9 140.2,315.4 140.8,315.7 141.3,315.9 142.1,316.4 142.6,316.9 143.1,317.4 143.4,317.9 143.8,318.4 144.2,319.1 144.8,319.9 144.9,320.4 144.8,321.4 144.7,321.9 144.3,322.9 144.2,323.4 143.8,324.2 143.2,324.9 142.8,325.4 142.3,325.9 141.8,326.2 140.8,326.2 139.8,326.2 138.8,326.2 137.8,326.4 137.6,326.9 137.8,327.4 138.1,328.4 138.1,329.4 138.1,330.4 138.2,331.3 138.3,331.9 138.2,332.6 137.8,333.4 137.5,333.9 137.2,334.4 136.8,335.3 136.2,335.7 135.8,336.0 135.0,336.4 134.2,336.7 133.2,336.7 132.6,336.4 132.1,336.4 131.6,336.9 131.2,337.7 130.8,338.4 130.3,338.9 129.8,339.4 129.4,339.9 129.0,340.4 128.5,340.9 128.1,341.4 127.6,341.9 126.9,342.4 126.2,342.9 125.8,343.2 124.8,343.4 124.2,343.5ZM142.2,306.0 141.2,306.0 140.8,305.9 139.8,305.6 139.2,305.2 138.8,304.6 138.4,303.9 138.1,303.4 137.8,302.7 137.4,301.9 137.2,301.4 137.0,300.4 137.2,299.4 137.5,298.9 137.8,298.4 138.2,297.5 138.8,297.1 139.2,296.9 140.2,296.9 140.8,297.0 141.8,297.3 142.2,297.6 142.8,298.1 143.2,298.6 143.8,299.2 144.1,299.9 144.3,300.4 144.8,301.4 144.9,301.9 145.0,302.9 144.8,303.9 144.6,304.4 144.2,304.9 143.7,305.4 142.8,305.9 142.2,306.0ZM125.8,342.6 124.8,342.9 123.8,342.8 123.1,342.4 122.3,341.9 121.8,341.5 121.3,340.9 120.8,340.4 120.4,339.9 120.0,339.4 119.8,338.9 119.6,337.9 119.7,336.9 119.4,335.9 119.0,335.4 118.7,334.9 118.4,333.9 117.9,333.4 117.2,333.1 116.8,332.6 116.5,331.9 116.2,331.1 116.0,330.4 115.8,329.8 115.4,328.9 115.5,327.9 115.5,326.9 115.3,325.9 115.2,325.4 115.3,324.9 115.8,324.0 116.0,323.4 116.3,322.9 116.7,321.9 116.9,321.4 117.1,320.4 117.3,319.9 117.8,319.3 118.2,318.8 118.8,318.4 119.4,317.9 120.2,317.6 120.8,317.4 121.8,317.1 122.8,317.0 123.8,317.1 124.8,317.2 125.8,317.1 126.8,317.1 127.8,317.2 128.4,317.4 129.2,317.7 130.2,317.9 130.8,317.9 131.7,318.4 132.2,318.9 132.5,319.4 132.8,319.9 133.2,320.8 133.8,321.1 134.4,320.9 134.8,320.4 135.2,319.4 135.5,318.9 135.8,318.4 136.2,317.9 136.8,317.2 137.2,316.5 137.8,316.0 138.2,315.7 139.2,315.7 139.8,316.0 140.8,316.4 141.2,316.5 142.0,316.9 142.5,317.4 142.9,317.9 143.2,318.5 143.8,319.2 144.2,319.9 144.3,320.4 144.2,321.3 144.1,321.9 143.8,322.9 143.6,323.4 143.2,324.1 142.8,324.7 142.2,325.2 141.8,325.5 140.8,325.7 139.8,325.7 138.8,325.6 138.2,325.4 137.2,325.1 136.8,324.8 136.2,324.3 135.8,323.5 135.2,323.1 134.8,323.5 134.2,324.0 133.3,324.4 133.2,324.9 133.3,325.4 134.2,325.7 135.2,325.9 135.8,326.3 136.2,326.9 136.6,327.4 136.9,327.9 137.1,328.9 137.2,329.6 137.4,330.4 137.6,331.4 137.6,332.4 137.2,333.1 136.8,333.9 136.4,334.4 135.8,334.9 135.2,335.1 134.2,335.3 133.8,335.5 132.8,335.6 131.8,335.7 131.2,335.9 130.8,336.9 130.6,337.4 130.2,338.2 129.8,338.8 129.2,339.2 128.8,339.7 128.2,340.2 127.8,340.8 127.2,341.4 126.8,341.8 126.2,342.2 125.8,342.6ZM128.3,328.4 129.2,327.9 129.8,327.7 130.8,327.5 130.9,326.9 130.8,326.4 130.2,326.4 129.2,326.5 128.8,326.3 127.8,326.1 126.8,326.2 126.2,326.4 125.9,327.4 126.2,328.0 126.9,328.4 127.8,328.6 128.3,328.4ZM142.8,305.6 141.8,305.8 140.8,305.7 140.2,305.4 139.4,304.9 139.0,304.4 138.7,303.9 138.2,303.1 137.9,302.4 137.7,301.9 137.4,300.9 137.4,299.9 137.8,299.1 138.1,298.4 138.4,297.9 138.8,297.4 139.8,297.2 140.8,297.4 141.2,297.5 142.1,297.9 142.7,298.4 143.2,298.9 143.5,299.4 143.8,299.9 144.2,300.9 144.5,301.4 144.7,302.4 144.6,303.4 144.2,304.4 143.8,304.9 143.2,305.4 142.8,305.6ZM141.2,325.1 140.2,325.3 139.2,325.3 138.2,325.0 137.8,324.8 137.2,324.4 136.7,323.9 136.2,323.1 135.9,322.4 135.6,321.9 135.3,320.9 135.5,319.9 135.8,319.4 136.2,318.5 136.6,317.9 137.0,317.4 137.5,316.9 138.2,316.5 138.8,316.4 139.3,316.4 140.2,316.7 141.1,316.9 141.8,317.3 142.2,317.7 142.8,318.4 143.1,318.9 143.4,319.4 143.8,320.3 143.8,320.9 143.7,321.4 143.6,322.4 143.2,323.3 142.8,323.9 142.4,324.4 141.8,324.9 141.2,325.1ZM125.8,342.0 124.8,342.3 123.8,342.1 123.2,341.9 122.5,341.4 121.9,340.9 121.4,340.4 121.0,339.9 120.6,339.4 120.2,338.7 120.1,337.9 120.2,336.9 119.9,335.9 119.6,335.4 119.2,334.5 119.2,333.9 118.8,333.1 118.2,332.9 117.2,332.5 116.9,331.9 116.8,331.3 116.5,330.4 116.2,329.8 115.9,328.9 115.9,327.9 115.9,326.9 115.8,326.0 115.7,325.4 115.8,324.9 116.2,324.0 116.5,323.4 116.8,322.7 117.0,321.9 117.3,321.4 117.6,320.4 117.8,319.9 118.2,319.4 118.8,318.9 119.4,318.4 120.2,318.0 120.8,317.8 121.8,317.5 122.2,317.4 123.2,317.4 124.0,317.4 124.8,317.5 125.8,317.6 126.8,317.5 127.8,317.7 128.6,317.9 129.2,318.1 130.2,318.3 130.8,318.4 131.5,318.9 131.8,319.4 132.1,320.4 132.2,321.0 132.8,321.8 133.2,322.4 133.2,322.9 132.8,323.3 132.3,323.9 132.0,324.4 131.4,324.9 130.8,325.0 130.0,324.9 129.2,324.9 128.8,325.0 127.8,325.4 127.2,325.5 126.2,325.7 125.8,326.0 125.2,326.6 125.2,327.4 125.5,327.9 125.9,328.4 126.7,328.9 127.2,329.1 128.2,329.1 128.8,328.9 129.8,328.8 130.2,329.0 131.2,329.3 131.8,328.9 132.2,328.2 132.8,327.5 133.2,327.0 133.8,326.7 134.8,326.6 135.3,326.9 135.8,327.5 136.1,328.4 136.2,329.0 136.6,329.9 136.8,330.7 136.9,331.4 136.9,332.4 136.6,332.9 136.2,333.4 135.3,333.9 134.8,334.1 133.8,334.4 133.2,334.6 132.3,334.9 131.8,335.1 130.8,335.4 130.3,335.9 130.2,336.4 130.1,337.4 129.8,338.1 129.2,338.6 128.7,338.9 128.2,339.4 127.7,339.9 127.2,340.5 126.8,341.1 126.2,341.6 125.8,342.0ZM141.8,305.5 141.0,305.4 140.2,305.2 139.8,304.9 139.2,304.4 138.8,303.6 138.5,302.9 138.2,302.4 137.8,301.4 137.6,300.9 137.7,299.9 137.9,299.4 138.2,298.7 138.8,298.0 139.2,297.6 140.2,297.6 141.2,297.8 141.8,298.0 142.3,298.4 142.8,298.9 143.2,299.5 143.7,300.4 144.0,300.9 144.2,301.6 144.4,302.4 144.4,303.4 144.2,303.9 143.8,304.6 143.2,305.1 142.2,305.4 141.8,305.5ZM139.8,325.0 139.2,324.9 138.2,324.6 137.8,324.3 137.2,323.9 136.8,323.2 136.4,322.4 136.2,321.9 135.9,320.9 136.0,319.9 136.2,319.4 136.7,318.4 137.1,317.9 137.6,317.4 138.2,317.0 138.8,316.9 139.4,316.9 140.2,317.1 141.2,317.4 141.8,317.7 142.2,318.2 142.7,318.9 143.0,319.4 143.3,319.9 143.4,320.9 143.3,321.9 143.2,322.4 142.8,323.4 142.3,323.9 141.8,324.4 141.2,324.7 140.2,324.9 139.8,325.0ZM125.2,341.6 124.2,341.6 123.7,341.4 122.8,341.0 122.2,340.6 121.8,340.2 121.2,339.6 120.8,338.9 120.7,338.4 120.6,337.4 120.5,336.4 120.2,335.7 119.9,334.9 119.7,334.4 119.7,333.4 119.2,332.8 118.6,332.4 117.8,332.2 117.2,331.5 117.1,330.9 116.8,330.0 116.5,329.4 116.3,328.4 116.3,327.4 116.2,326.6 116.1,325.9 116.2,324.9 116.4,324.4 116.8,323.7 117.0,322.9 117.2,322.3 117.6,321.4 117.8,320.9 118.2,320.1 118.8,319.5 119.2,319.1 119.8,318.7 120.2,318.4 121.2,318.0 121.8,317.9 122.8,317.6 123.8,317.7 124.8,317.8 125.8,317.9 126.8,317.9 127.2,318.0 128.2,318.2 129.2,318.4 129.8,318.6 130.7,318.9 131.2,319.4 131.4,319.9 131.6,320.9 131.8,321.5 132.0,322.4 131.8,323.2 131.3,323.9 130.8,324.2 129.8,324.2 128.8,324.2 128.2,324.5 127.2,324.9 126.8,325.0 125.8,325.4 125.2,325.7 124.8,326.1 124.2,326.8 124.2,327.4 124.6,327.9 125.2,328.4 125.8,328.9 126.2,329.3 126.8,329.5 127.8,329.7 128.8,329.5 129.8,329.6 130.4,329.9 131.2,330.3 131.9,329.9 132.4,329.4 132.8,328.9 133.3,328.4 133.8,327.9 134.8,327.6 135.2,328.3 135.4,328.9 135.7,329.9 135.8,330.4 135.7,330.9 135.4,331.9 135.2,332.4 134.7,332.9 133.8,333.4 133.2,333.5 132.8,333.3 131.8,333.4 131.6,333.9 131.2,334.4 130.4,334.9 129.9,335.4 129.7,335.9 129.7,336.9 129.3,337.9 128.8,338.3 128.2,338.7 127.8,339.2 127.2,339.7 126.8,340.3 126.2,340.9 125.8,341.4 125.2,341.6ZM142.8,305.1 141.8,305.3 140.8,305.2 140.2,304.9 139.5,304.4 139.2,303.9 138.8,303.0 138.5,302.4 138.2,301.9 137.9,300.9 137.9,299.9 138.2,299.2 138.8,298.5 139.2,298.0 139.8,297.9 140.3,297.9 141.2,298.1 141.9,298.4 142.5,298.9 142.9,299.4 143.2,300.0 143.7,300.9 143.9,301.4 144.2,302.4 144.1,303.4 143.8,304.2 143.2,304.8 142.8,305.1ZM140.2,324.6 139.2,324.6 138.7,324.4 137.8,323.9 137.3,323.4 137.0,322.9 136.8,322.3 136.5,321.4 136.4,320.4 136.7,319.4 136.8,318.9 137.2,318.2 137.8,317.7 138.2,317.4 139.2,317.3 140.2,317.4 140.8,317.6 141.5,317.9 142.0,318.4 142.4,318.9 142.8,319.6 143.1,320.4 143.1,321.4 142.9,322.4 142.7,322.9 142.2,323.6 141.8,324.0 140.8,324.4 140.2,324.6ZM125.2,341.0 124.2,341.0 123.8,340.9 122.9,340.4 122.2,340.1 121.8,339.6 121.3,338.9 121.2,338.4 121.1,337.4 120.9,336.4 120.8,335.8 120.4,334.9 120.2,334.4 120.1,333.4 119.8,332.6 119.2,332.2 118.6,331.9 117.8,331.4 117.5,330.9 117.2,330.2 117.0,329.4 116.8,328.7 116.7,327.9 116.7,326.9 116.5,325.9 116.6,324.9 116.9,324.4 117.2,323.4 117.3,322.9 117.8,322.0 118.0,321.4 118.2,320.9 118.8,320.2 119.2,319.6 119.8,319.1 120.2,318.8 121.0,318.4 121.8,318.2 122.5,317.9 123.2,317.9 123.9,317.9 124.8,318.1 125.8,318.2 126.8,318.3 127.5,318.4 128.2,318.6 129.2,318.8 129.8,319.0 130.5,319.4 130.8,319.9 131.1,320.9 131.2,321.9 130.9,322.9 130.3,323.4 129.8,323.6 128.8,323.7 128.2,323.9 127.3,324.4 126.8,324.6 125.8,324.9 125.2,325.2 124.8,325.5 124.1,325.9 123.5,326.4 123.0,326.9 123.1,327.9 123.8,328.4 124.2,328.6 124.8,328.9 125.5,329.4 126.2,329.8 126.8,330.0 127.8,330.2 128.8,330.2 129.7,330.4 130.1,330.9 130.0,331.9 129.8,332.6 129.8,333.0 130.0,333.9 129.8,334.5 129.2,335.4 129.1,335.9 129.0,336.9 128.8,337.5 128.2,338.0 127.7,338.4 127.2,339.0 126.8,339.5 126.2,340.0 125.8,340.7 125.2,341.0ZM133.8,332.0 132.8,332.0 132.3,331.4 132.2,330.9 132.5,330.4 132.9,329.9 133.3,329.4 134.2,329.0 134.8,329.4 134.8,330.4 134.5,330.9 134.2,331.4 133.8,332.0ZM142.2,305.0 141.2,305.1 140.7,304.9 139.8,304.4 139.4,303.9 139.1,303.4 138.8,302.5 138.5,301.9 138.2,301.4 138.0,300.4 138.2,299.7 138.7,298.9 139.2,298.4 139.8,298.2 140.8,298.3 141.4,298.4 142.2,298.9 142.7,299.4 143.0,299.9 143.2,300.5 143.7,301.4 143.9,301.9 144.0,302.9 143.8,303.7 143.3,304.4 142.8,304.8 142.2,305.0ZM140.8,324.1 139.8,324.3 138.8,324.1 138.2,323.9 137.7,323.4 137.2,322.7 137.0,321.9 136.9,320.9 137.0,319.9 137.2,318.9 137.5,318.4 138.0,317.9 138.8,317.6 139.8,317.7 140.8,317.9 141.2,318.1 141.8,318.6 142.2,319.2 142.6,319.9 142.8,320.4 142.8,321.4 142.8,322.0 142.3,322.9 141.9,323.4 141.2,323.9 140.8,324.1ZM125.2,340.1 124.2,340.4 123.2,340.1 122.8,339.8 122.2,339.4 121.8,338.7 121.5,337.9 121.4,336.9 121.3,335.9 121.1,335.4 120.8,334.6 120.6,333.9 120.5,332.9 120.2,332.4 119.6,331.9 118.8,331.6 118.2,331.2 117.8,330.4 117.6,329.9 117.2,329.1 117.1,328.4 117.0,327.4 116.9,326.4 116.9,325.4 117.2,324.5 117.5,323.9 117.7,322.9 117.9,322.4 118.2,321.7 118.7,320.9 119.0,320.4 119.5,319.9 119.9,319.4 120.6,318.9 121.2,318.7 121.8,318.4 122.8,318.1 123.8,318.1 124.8,318.3 125.2,318.5 126.2,318.6 127.2,318.8 128.2,318.9 128.8,319.0 129.7,319.4 130.2,319.9 130.5,320.4 130.7,321.4 130.4,322.4 129.8,322.9 129.2,323.0 128.2,323.4 127.8,323.8 127.2,324.1 126.2,324.4 125.8,324.6 125.0,324.9 124.2,325.4 123.8,325.7 123.2,326.0 122.4,326.4 122.2,326.9 122.2,327.9 122.5,328.4 122.8,329.0 123.0,329.9 123.2,330.7 124.2,330.7 125.0,330.4 125.8,330.3 126.5,330.4 127.2,330.7 128.2,330.9 128.8,331.3 128.8,331.7 128.6,332.4 128.8,333.4 128.9,333.9 128.8,334.9 128.7,335.4 128.3,336.4 128.1,336.9 127.8,337.5 127.2,338.2 126.8,338.8 126.2,339.1 125.8,339.6 125.2,340.1ZM142.8,304.5 141.8,304.9 140.8,304.8 140.1,304.4 139.6,303.9 139.2,303.2 138.9,302.4 138.7,301.9 138.3,300.9 138.3,299.9 138.8,299.2 139.2,298.7 140.2,298.4 140.3,298.4 141.2,298.6 141.9,298.9 142.4,299.4 142.8,299.9 143.2,300.9 143.5,301.4 143.7,302.4 143.6,303.4 143.2,304.1 142.8,304.5ZM141.2,323.5 140.2,323.8 139.2,323.9 138.2,323.5 137.8,323.0 137.5,322.4 137.3,321.4 137.3,320.4 137.5,319.4 137.8,318.7 138.2,318.2 139.0,317.9 139.6,317.9 140.2,318.1 141.2,318.4 141.7,318.9 142.1,319.4 142.4,319.9 142.6,320.9 142.5,321.9 142.2,322.6 141.8,323.1 141.2,323.5ZM124.8,339.5 123.8,339.6 123.1,339.4 122.4,338.9 122.1,338.4 121.9,337.4 121.8,336.4 121.8,335.8 121.5,334.9 121.2,334.3 121.2,333.4 121.3,332.9 121.2,332.0 120.8,331.8 119.8,331.5 119.2,331.3 118.6,330.9 118.2,330.4 117.8,329.4 117.6,328.9 117.4,327.9 117.4,326.9 117.2,326.2 117.2,325.7 117.5,324.9 117.8,324.4 118.0,323.4 118.2,322.6 118.5,321.9 118.8,321.4 119.2,320.8 119.8,320.2 120.2,319.7 120.8,319.3 121.4,318.9 122.2,318.6 122.8,318.4 123.8,318.4 124.2,318.5 125.2,318.7 126.1,318.9 126.8,319.1 127.8,319.2 128.8,319.4 129.2,319.6 129.8,320.1 130.1,320.9 130.0,321.9 129.3,322.4 128.8,322.5 128.1,322.9 127.6,323.4 126.8,323.9 126.2,324.0 125.2,324.4 124.8,324.7 124.2,325.0 123.4,325.4 122.8,325.7 122.1,325.9 121.7,326.4 121.7,327.4 121.8,328.0 122.0,328.9 121.9,329.9 121.7,330.4 121.8,330.9 122.2,331.6 123.2,331.6 124.1,331.4 124.8,331.2 125.7,330.9 126.2,330.9 126.8,331.1 127.5,331.4 127.8,331.9 128.0,332.9 128.2,333.9 128.3,334.4 128.2,335.2 128.0,335.9 127.6,336.4 127.2,337.1 126.8,337.9 126.3,338.4 125.8,338.8 125.2,339.2 124.8,339.5ZM142.2,304.5 141.2,304.7 140.5,304.4 139.9,303.9 139.6,303.4 139.2,302.8 138.9,301.9 138.6,301.4 138.4,300.4 138.8,299.6 139.2,299.0 139.8,298.7 140.8,298.7 141.6,298.9 142.2,299.4 142.6,299.9 142.8,300.4 143.2,301.4 143.4,301.9 143.5,302.9 143.2,303.7 142.8,304.3 142.2,304.5ZM139.8,323.5 139.1,323.4 138.2,323.0 137.9,322.4 137.7,321.9 137.7,320.9 137.8,320.3 137.9,319.4 138.2,318.7 138.8,318.3 139.8,318.3 140.4,318.4 141.2,318.9 141.8,319.4 142.1,319.9 142.3,320.4 142.4,321.4 142.2,322.0 141.8,322.7 141.2,323.1 140.2,323.4 139.8,323.5ZM120.2,330.7 119.2,330.8 118.7,330.4 118.2,329.6 118.1,328.9 117.9,327.9 117.8,326.9 117.7,326.4 117.7,325.4 118.0,324.9 118.2,324.3 118.5,323.4 118.7,322.4 118.9,321.9 119.2,321.4 119.8,320.8 120.2,320.2 120.8,319.7 121.2,319.4 122.0,318.9 122.8,318.6 123.8,318.6 124.8,318.8 125.2,319.0 126.2,319.4 126.8,319.5 127.8,319.8 128.8,319.9 129.2,320.4 129.5,320.9 129.2,321.6 128.4,321.9 127.9,322.4 127.5,322.9 126.9,323.4 126.2,323.7 125.5,323.9 124.8,324.3 124.2,324.6 123.6,324.9 122.8,325.3 122.0,325.4 121.3,325.9 121.1,326.4 121.1,327.4 121.2,328.4 121.3,328.9 121.2,329.4 120.8,330.1 120.2,330.7ZM123.8,339.0 123.2,338.9 122.7,338.4 122.3,337.4 122.2,336.7 122.2,336.4 122.3,335.4 122.2,334.9 121.8,333.9 122.0,332.9 122.5,332.4 123.2,332.1 123.9,331.9 124.8,331.7 125.8,331.5 126.8,331.7 127.2,332.2 127.5,332.9 127.8,333.9 127.9,334.4 127.8,335.3 127.4,335.9 126.9,336.4 126.6,336.9 126.2,337.6 125.8,338.1 125.2,338.4 124.2,338.9 123.8,339.0ZM141.8,304.5 141.1,304.4 140.2,304.1 139.8,303.4 139.5,302.9 139.2,302.4 138.8,301.4 138.6,300.9 138.7,299.9 139.1,299.4 139.7,298.9 140.2,298.8 141.1,298.9 141.8,299.3 142.2,299.8 142.7,300.4 142.9,300.9 143.2,301.9 143.3,302.4 143.2,303.1 142.8,303.9 142.2,304.3 141.8,304.5ZM119.2,330.1 118.8,329.4 118.7,328.9 118.5,327.9 118.3,326.9 118.1,326.4 118.2,325.4 118.5,324.9 118.8,324.2 118.9,323.4 119.2,322.4 119.4,321.9 119.8,321.4 120.2,320.8 120.8,320.2 121.2,319.8 121.8,319.4 122.7,318.9 123.2,318.8 124.2,318.9 124.8,319.1 125.5,319.4 126.2,319.9 126.8,320.1 127.2,320.5 127.7,321.4 127.4,322.4 127.0,322.9 126.2,323.4 125.8,323.5 124.8,323.9 124.2,324.2 123.8,324.5 122.8,324.9 122.1,324.9 121.2,325.3 120.8,325.9 120.6,326.4 120.4,327.4 120.1,327.9 119.9,328.9 119.8,329.9 119.2,330.1ZM140.2,323.0 139.2,323.0 138.8,322.9 138.2,322.4 138.0,321.4 138.1,320.4 138.2,319.8 138.6,318.9 139.2,318.7 140.2,318.8 140.8,319.0 141.4,319.4 141.8,319.9 142.2,320.9 142.0,321.9 141.6,322.4 140.8,322.9 140.2,323.0ZM124.2,338.1 123.2,338.0 122.9,337.4 122.8,336.4 123.0,335.4 122.8,334.5 122.4,333.9 122.7,332.9 123.2,332.6 123.8,332.4 124.8,332.2 125.8,332.1 126.7,332.4 126.9,332.9 127.2,333.9 127.3,334.4 127.2,335.0 126.8,335.7 126.2,336.3 125.8,336.9 125.3,337.4 124.8,337.9 124.2,338.1ZM142.2,304.1 141.2,304.3 140.4,303.9 140.0,303.4 139.7,302.9 139.2,302.0 139.0,301.4 138.8,300.4 139.2,299.5 139.8,299.1 140.8,299.0 141.7,299.4 142.2,299.9 142.5,300.4 142.8,301.1 143.1,301.9 143.1,302.9 142.8,303.7 142.2,304.1ZM119.2,326.6 118.9,325.9 119.1,324.9 119.2,324.3 119.5,323.4 119.8,322.7 120.1,321.9 120.4,321.4 120.8,320.8 121.2,320.2 121.8,319.9 122.4,319.4 123.2,319.1 124.2,319.2 124.9,319.4 125.6,319.9 126.2,320.4 126.8,320.9 127.1,321.4 126.9,322.4 126.4,322.9 125.8,323.2 124.9,323.4 124.2,323.8 123.8,324.1 122.9,324.4 122.2,324.5 121.2,324.6 120.8,325.1 120.2,325.7 119.8,326.4 119.2,326.6ZM140.8,322.5 139.8,322.6 139.1,322.4 138.5,321.9 138.4,320.9 138.7,319.9 139.0,319.4 139.8,319.2 140.8,319.4 141.2,319.7 141.8,320.3 141.9,320.9 141.8,321.9 141.2,322.4 140.8,322.5ZM125.2,335.6 124.4,335.4 124.2,334.8 123.8,334.4 123.2,333.9 123.2,333.3 123.8,332.9 124.8,332.8 125.8,332.8 126.2,333.4 125.8,334.4 125.4,334.9 125.2,335.6ZM141.8,304.0 140.8,303.9 140.2,303.5 139.9,302.9 139.6,302.4 139.2,301.6 139.0,300.9 139.1,299.9 139.6,299.4 140.2,299.2 141.2,299.4 141.8,299.7 142.2,300.3 142.5,300.9 142.8,301.6 142.9,302.4 142.8,303.3 142.2,303.8 141.8,304.0ZM123.2,324.0 122.2,324.1 121.8,323.9 121.2,323.4 121.0,322.4 121.1,321.4 121.3,320.9 121.8,320.3 122.3,319.9 123.2,319.4 123.8,319.4 124.2,319.5 125.0,319.9 125.6,320.4 126.2,320.9 126.5,321.4 126.3,322.4 125.8,322.7 125.2,322.9 124.2,323.4 123.8,323.7 123.2,324.0ZM141.2,322.0 140.2,322.1 139.5,321.9 139.0,321.4 139.1,320.4 139.5,319.9 140.2,319.7 140.9,319.9 141.5,320.4 141.6,321.4 141.2,322.0ZM142.2,303.5 141.2,303.8 140.5,303.4 140.1,302.9 139.8,302.4 139.3,301.4 139.2,300.9 139.2,300.1 139.8,299.6 140.2,299.4 141.0,299.4 141.8,299.9 142.1,300.4 142.4,300.9 142.7,301.9 142.8,302.4 142.7,302.9 142.2,303.5ZM123.2,323.6 122.2,323.6 121.8,323.0 121.7,322.4 121.7,321.4 121.9,320.9 122.3,320.4 123.0,319.9 123.8,319.8 124.3,319.9 125.0,320.4 125.5,320.9 125.9,321.4 125.8,322.1 125.2,322.4 124.2,322.9 123.8,323.3 123.2,323.6ZM140.8,321.7 140.1,321.4 140.1,320.4 140.8,320.4 141.2,320.9 141.2,321.2 140.8,321.7ZM141.8,303.6 140.8,303.4 140.3,302.9 140.0,302.4 139.7,301.9 139.3,300.9 139.6,299.9 140.2,299.6 141.2,299.7 141.8,300.2 142.2,300.9 142.4,301.4 142.6,302.4 142.2,303.2 141.8,303.6ZM123.2,323.1 122.3,322.9 122.2,322.4 122.3,321.9 122.7,320.9 123.2,320.5 123.8,320.4 124.2,320.5 124.8,320.9 124.8,321.9 124.2,322.3 123.8,322.6 123.2,323.1ZM141.8,303.3 140.8,303.2 140.2,302.6 139.9,301.9 139.7,301.4 139.5,300.4 139.8,299.9 140.8,299.7 141.3,299.9 141.8,300.4 142.2,301.4 142.3,301.9 142.2,302.8 141.8,303.3ZM141.8,303.0 140.9,302.9 140.4,302.4 140.1,301.9 139.8,301.1 139.7,300.4 140.2,299.9 140.8,299.9 141.2,300.1 141.8,300.7 142.0,301.4 142.1,302.4 141.8,303.0ZM141.8,302.6 140.8,302.6 140.3,301.9 140.1,301.4 140.0,300.4 140.8,300.1 141.3,300.4 141.8,301.1 141.9,301.9 141.8,302.6ZM141.2,302.5 140.8,302.2 140.3,301.4 140.2,300.9 140.5,300.4 140.9,300.4 141.4,300.9 141.7,301.9 141.2,302.5Z" stroke="#111" stroke-width="0.45" fill="none"/>
<text x="88.40" y="294.70" font-size="5.9" text-anchor="start" fill="#000">Veh</text>
<text x="152.90" y="294.70" font-size="5.9" text-anchor="end" fill="#000">17.4%</text>
<text x="87.90" y="348.40" font-size="5.9" text-anchor="start" fill="#000">56.3%</text>
<text x="152.90" y="348.40" font-size="5.9" text-anchor="end" fill="#000">26.2%</text>
<rect x="87.00" y="355.10" width="66.40" height="61.50" fill="#fff" stroke="#333" stroke-width="1.0"/>
<line x1="85.40" y1="367.40" x2="87.00" y2="367.40" stroke="#555" stroke-width="0.6"/>
<line x1="85.40" y1="379.70" x2="87.00" y2="379.70" stroke="#555" stroke-width="0.6"/>
<line x1="85.40" y1="392.00" x2="87.00" y2="392.00" stroke="#555" stroke-width="0.6"/>
<line x1="85.40" y1="404.30" x2="87.00" y2="404.30" stroke="#555" stroke-width="0.6"/>
<line x1="129.30" y1="355.10" x2="129.30" y2="416.60" stroke="#888" stroke-width="0.8"/>
<line x1="87.00" y1="379.40" x2="153.40" y2="379.40" stroke="#888" stroke-width="0.8"/>
<path d="M124.8,412.6 123.8,412.6 122.8,412.4 122.2,412.3 121.2,412.3 120.2,411.9 119.8,411.5 119.2,411.1 118.8,410.8 117.8,410.6 116.8,410.4 116.2,409.9 115.9,409.4 115.7,408.9 115.3,407.9 114.8,407.4 114.2,407.0 113.8,406.4 113.6,405.9 113.4,404.9 113.7,403.9 113.8,403.4 113.6,402.9 113.2,402.1 112.9,401.4 112.5,400.9 112.0,400.4 111.5,399.9 110.9,399.4 110.5,398.9 110.6,397.9 110.9,397.4 111.1,396.4 111.2,395.4 111.4,394.9 111.6,393.9 111.5,392.9 111.8,392.0 112.0,391.4 112.2,390.4 112.1,389.4 111.9,388.4 111.7,387.9 111.6,386.9 111.8,386.4 112.4,385.9 113.2,385.4 113.8,384.9 114.2,384.4 114.8,383.9 115.2,383.6 115.9,383.4 116.4,382.9 116.8,382.4 117.5,381.9 118.2,381.6 119.2,381.4 119.8,381.2 120.8,380.9 121.2,380.8 121.9,380.9 122.8,381.1 123.3,381.4 124.2,381.5 125.2,381.4 125.8,381.2 126.8,381.0 127.2,380.8 128.2,380.5 128.8,380.3 129.3,379.9 129.8,379.3 130.2,378.6 130.6,377.9 130.9,377.4 131.2,376.7 131.8,376.2 132.2,375.8 133.1,375.4 133.7,374.9 134.1,374.4 134.3,373.9 134.5,372.9 134.7,371.9 134.8,371.4 135.0,370.4 135.1,369.4 135.1,368.4 135.0,367.4 134.8,366.4 134.6,365.9 134.6,364.9 134.7,363.9 134.9,363.4 135.2,362.8 135.8,362.2 136.2,361.5 136.8,360.9 137.2,360.4 137.7,359.9 138.2,359.5 139.2,359.4 140.2,359.7 140.8,359.9 141.6,360.4 142.2,360.9 142.7,361.4 143.2,361.9 143.5,362.4 143.8,362.9 144.2,363.6 144.8,364.1 145.2,364.7 145.6,365.4 145.8,365.9 146.0,366.9 146.0,367.9 146.0,368.9 146.1,369.9 146.2,370.9 146.3,371.4 146.4,372.4 146.2,372.9 145.8,373.6 145.2,374.1 144.8,374.5 144.0,374.9 143.5,375.4 143.1,375.9 142.8,376.6 142.5,377.4 142.6,378.4 142.7,379.4 142.7,380.4 142.7,381.4 142.8,382.2 142.9,382.9 143.1,383.9 142.9,384.9 142.8,385.9 142.8,386.9 142.7,387.4 142.2,388.1 141.9,388.9 141.6,389.4 141.2,389.9 140.8,390.4 140.2,390.9 139.8,391.8 139.5,392.4 138.8,392.9 138.2,393.1 137.8,393.4 137.2,394.1 136.9,394.9 136.4,395.4 136.1,395.9 136.2,396.4 136.4,397.4 136.3,398.4 136.2,399.1 136.2,399.9 136.3,400.4 136.6,401.4 136.4,402.4 136.2,402.9 135.8,403.8 135.8,403.9 136.2,404.8 136.2,405.2 135.9,405.9 135.7,406.4 135.8,406.9 136.0,407.9 135.8,408.5 134.8,408.6 133.8,408.5 133.2,408.9 132.8,409.5 132.2,410.3 131.8,410.8 131.2,411.2 130.8,411.4 129.8,411.8 129.2,412.0 128.2,412.2 127.2,411.9 126.8,411.8 126.0,411.9 125.2,412.3 124.8,412.6ZM124.8,410.9 123.8,411.2 122.8,411.1 121.8,411.0 121.2,410.6 120.8,410.0 120.2,409.6 119.8,409.3 118.8,408.9 118.2,408.7 117.2,408.4 116.9,407.9 116.7,407.4 116.5,406.4 116.3,405.4 116.2,404.9 115.8,403.9 115.5,403.4 115.1,402.9 114.7,402.4 114.3,401.4 114.2,400.8 113.9,399.9 113.3,399.4 113.0,398.9 113.0,397.9 113.4,397.4 113.9,396.9 114.2,395.9 114.2,395.8 113.9,394.9 113.7,394.4 113.8,393.9 114.0,392.9 113.8,392.2 113.4,391.4 113.5,390.4 113.4,389.4 113.4,388.4 113.6,387.4 113.8,386.9 114.2,386.1 114.8,385.5 115.2,385.1 115.8,384.9 116.6,384.4 117.2,383.9 117.8,383.4 118.2,382.9 118.8,382.6 119.3,382.4 120.2,382.1 121.2,382.2 122.2,382.4 122.8,382.4 123.8,382.5 124.8,382.5 125.6,382.4 126.2,382.1 126.9,381.9 127.8,381.7 128.8,381.7 129.5,381.4 130.1,380.9 130.5,380.4 131.0,379.9 131.3,379.4 131.7,378.4 131.9,377.9 132.4,377.4 133.0,376.9 133.5,376.4 133.9,375.9 134.3,375.4 134.8,374.7 135.2,373.9 135.5,373.4 135.8,372.8 135.9,371.9 135.9,370.9 135.9,369.9 135.9,368.9 135.8,367.9 135.7,367.4 135.4,366.4 135.3,365.4 135.5,364.4 135.8,363.8 136.2,362.9 136.5,362.4 136.8,361.9 137.2,361.3 137.8,360.8 138.7,360.4 139.2,360.3 139.8,360.4 140.8,360.7 141.2,361.0 141.8,361.4 142.3,361.9 142.8,362.4 143.2,363.2 143.6,363.9 144.1,364.4 144.5,364.9 144.9,365.4 145.2,366.4 145.2,367.0 145.3,367.9 145.3,368.9 145.5,369.9 145.5,370.9 145.3,371.9 145.1,372.4 144.8,373.0 144.2,373.4 143.6,373.9 143.1,374.4 142.7,374.9 142.2,375.5 141.8,376.4 141.6,376.9 141.5,377.9 141.6,378.9 141.8,379.6 141.8,380.4 141.8,381.4 141.7,381.9 141.8,382.8 141.8,383.4 141.8,384.1 141.6,384.9 141.6,385.9 141.6,386.9 141.3,387.9 141.1,388.4 140.8,389.1 140.2,389.7 139.8,390.2 139.2,390.8 138.8,391.4 138.2,391.8 137.8,392.1 137.2,392.4 136.4,392.9 136.0,393.4 135.5,393.9 134.8,394.3 134.2,394.8 134.0,395.4 134.1,396.4 134.3,396.9 134.8,397.8 134.9,398.4 134.8,398.9 134.5,399.9 134.6,400.9 134.9,401.4 134.9,402.4 134.2,402.8 133.8,403.2 133.3,403.9 133.1,404.4 133.0,405.4 132.7,405.9 132.2,406.7 132.1,407.4 131.9,408.4 131.7,408.9 131.2,409.6 130.8,410.1 130.0,410.4 129.2,410.5 128.2,410.8 127.2,410.8 126.2,410.5 125.2,410.6 124.8,410.9ZM129.2,409.5 128.2,409.8 127.2,409.8 126.2,409.5 125.2,409.4 124.2,409.5 123.3,409.4 122.8,409.0 122.2,408.7 121.5,408.4 120.8,408.2 119.8,408.1 119.0,407.9 118.5,407.4 118.2,406.9 118.0,405.9 117.9,404.9 117.8,404.2 117.3,403.4 116.8,402.9 116.2,402.4 115.8,401.9 115.4,401.4 115.4,400.4 115.2,399.8 114.8,399.3 114.2,398.7 114.2,398.1 114.6,397.4 115.0,396.9 115.3,396.4 115.5,395.4 115.5,394.4 115.3,393.4 115.0,392.9 114.8,392.2 114.5,391.4 114.7,390.4 114.6,389.4 114.5,388.4 114.7,387.4 114.9,386.9 115.2,386.3 115.8,385.9 116.7,385.4 117.2,384.9 117.8,384.5 118.2,384.1 118.8,383.7 119.3,383.4 120.2,383.0 121.2,383.2 122.2,383.3 122.8,383.4 123.8,383.4 124.8,383.4 125.2,383.3 126.2,383.0 126.8,382.8 127.8,382.6 128.8,382.6 129.4,382.4 130.1,381.9 130.6,381.4 131.1,380.9 131.6,380.4 132.2,379.9 132.5,379.4 132.8,378.8 133.2,378.0 133.8,377.6 134.2,377.2 134.6,376.4 134.8,375.9 135.2,375.0 135.6,374.4 136.0,373.9 136.3,373.4 136.7,372.4 136.8,371.9 136.8,371.1 136.6,370.4 136.5,369.4 136.4,368.4 136.2,367.5 136.0,366.9 135.9,365.9 136.0,364.9 136.2,364.1 136.5,363.4 136.8,362.9 137.2,362.1 137.8,361.6 138.2,361.2 139.2,360.9 140.2,361.1 140.8,361.4 141.5,361.9 142.1,362.4 142.5,362.9 142.8,363.4 143.2,364.1 143.8,364.8 144.2,365.4 144.5,365.9 144.7,366.9 144.7,367.9 144.8,368.4 144.9,369.4 145.0,370.4 144.8,371.4 144.6,371.9 144.2,372.5 143.8,373.0 143.2,373.4 142.5,373.9 142.0,374.4 141.5,374.9 141.2,375.4 140.9,376.4 140.7,376.9 140.5,377.9 140.4,378.9 140.8,379.6 141.0,380.4 141.0,381.4 140.9,382.4 140.9,383.4 140.8,384.4 140.8,385.4 140.8,386.4 140.7,386.9 140.4,387.9 140.2,388.4 139.8,389.1 139.2,389.6 138.8,390.1 138.2,390.5 137.7,390.9 136.8,391.2 136.2,391.4 135.8,391.9 135.2,392.5 134.8,392.9 133.9,393.4 133.3,393.9 133.0,394.4 132.8,395.2 132.4,395.9 132.1,396.4 132.2,397.0 132.7,397.9 132.9,398.4 133.0,399.4 132.8,399.9 132.2,400.5 131.9,401.4 132.0,402.4 132.1,403.4 132.0,404.4 131.8,405.3 131.4,405.9 131.1,406.4 130.8,406.9 130.5,407.9 130.2,408.6 129.8,409.2 129.2,409.5ZM128.2,408.4 127.2,408.7 126.2,408.6 125.2,408.5 124.2,408.4 123.8,408.1 123.2,407.7 122.5,407.4 121.8,407.0 121.2,406.8 120.4,406.4 119.8,406.0 119.5,405.4 119.7,404.4 119.5,403.4 119.2,402.9 118.7,402.4 117.8,401.9 117.2,401.4 117.0,400.9 117.0,399.9 116.9,398.9 117.2,398.1 117.8,397.6 118.0,396.9 117.8,395.9 117.4,395.4 116.9,394.9 116.6,394.4 116.2,393.6 115.8,392.9 115.5,392.4 115.3,391.4 115.4,390.4 115.4,389.4 115.4,388.4 115.6,387.4 115.9,386.9 116.4,386.4 117.1,385.9 117.8,385.4 118.2,385.0 118.8,384.6 119.2,384.3 120.2,383.9 120.8,383.8 121.3,383.9 122.2,384.0 123.2,384.1 124.2,384.1 125.2,384.1 126.2,383.9 126.8,383.7 127.8,383.4 128.2,383.3 129.2,383.1 129.8,382.9 130.5,382.4 131.1,381.9 131.6,381.4 132.2,380.9 132.8,380.4 133.2,380.0 133.7,379.4 134.0,378.9 134.5,378.4 135.0,377.9 135.2,377.3 135.5,376.4 135.7,375.4 136.0,374.9 136.3,374.4 136.8,373.8 137.2,373.2 137.6,372.4 137.4,371.4 137.2,370.7 137.0,369.9 136.9,368.9 136.8,367.9 136.6,367.4 136.4,366.4 136.4,365.4 136.7,364.4 136.9,363.9 137.2,363.0 137.7,362.4 138.2,361.9 138.8,361.6 139.8,361.5 140.6,361.9 141.2,362.3 141.8,362.7 142.2,363.3 142.6,363.9 142.9,364.4 143.3,364.9 143.8,365.5 144.1,366.4 144.2,367.4 144.3,367.9 144.4,368.9 144.5,369.9 144.4,370.9 144.2,371.4 143.8,372.2 143.2,372.7 142.8,373.0 141.9,373.4 141.2,373.6 140.6,373.9 140.1,374.4 139.8,375.4 139.8,376.3 139.7,376.9 139.5,377.9 139.2,378.8 139.2,378.9 139.7,379.9 140.0,380.4 140.2,381.4 140.2,382.4 140.1,383.4 140.0,384.4 140.1,385.4 140.0,386.4 139.8,387.2 139.5,387.9 139.2,388.4 138.8,389.0 138.2,389.4 137.5,389.9 136.8,390.2 136.2,390.4 135.6,390.9 135.1,391.4 134.6,391.9 133.9,392.4 133.2,392.7 132.8,393.0 132.2,393.5 131.6,393.9 130.8,394.2 130.4,394.9 130.3,395.9 130.2,396.4 130.3,396.9 130.8,397.5 131.2,398.3 131.4,398.9 131.2,399.6 131.1,400.4 130.9,401.4 130.8,402.1 130.5,402.9 130.8,403.4 131.1,404.4 130.8,405.2 130.2,405.7 129.8,406.3 129.3,406.9 128.9,407.4 128.7,407.9 128.2,408.4ZM125.8,407.4 125.2,407.4 124.3,406.9 123.8,406.5 122.9,406.4 122.2,406.2 121.8,405.8 121.2,404.9 121.0,404.4 120.8,403.5 120.6,402.9 120.2,402.1 119.8,401.6 119.2,401.2 118.8,400.4 118.6,399.9 118.5,398.9 118.8,398.1 119.0,397.4 119.0,396.4 118.8,395.7 118.2,394.9 117.8,394.4 117.4,393.9 117.0,393.4 116.6,392.9 116.2,392.4 115.9,391.4 116.0,390.4 115.9,389.4 115.9,388.4 116.2,387.4 116.6,386.9 117.2,386.4 117.8,386.0 118.2,385.6 118.8,385.3 119.5,384.9 120.2,384.5 121.2,384.4 122.2,384.6 123.2,384.8 124.2,384.7 125.2,384.7 126.2,384.4 126.8,384.2 127.8,384.0 128.5,383.9 129.2,383.6 130.0,383.4 130.8,382.9 131.2,382.6 131.8,382.1 132.2,381.7 132.8,381.2 133.2,380.7 133.8,380.3 134.2,379.8 134.8,379.3 135.4,378.9 136.2,378.5 136.9,378.4 136.7,377.9 136.3,376.9 136.3,375.9 136.7,374.9 137.2,374.4 137.8,373.9 138.2,373.4 138.5,372.9 138.2,371.9 138.0,371.4 137.7,370.9 137.4,369.9 137.3,368.9 137.2,368.4 137.0,367.4 136.8,366.5 136.7,365.9 136.8,365.3 137.0,364.4 137.3,363.9 137.8,363.0 138.2,362.4 138.8,362.1 139.8,362.1 140.6,362.4 141.2,362.8 141.8,363.2 142.2,363.9 142.6,364.4 142.9,364.9 143.3,365.4 143.7,366.4 143.8,366.9 144.0,367.9 144.0,368.9 144.1,369.9 144.0,370.9 143.8,371.4 143.2,372.1 142.8,372.5 141.8,372.9 141.2,373.0 140.2,373.1 139.7,373.4 139.2,373.9 139.0,374.9 138.8,375.7 138.6,376.4 138.5,377.4 138.2,378.0 138.2,378.9 138.3,379.4 138.8,380.3 139.2,380.9 139.5,381.4 139.6,382.4 139.4,383.4 139.4,384.4 139.6,385.4 139.4,386.4 139.2,386.9 138.9,387.9 138.6,388.4 138.1,388.9 137.3,389.4 136.8,389.6 136.0,389.9 135.2,390.3 134.8,390.8 134.2,391.2 133.8,391.6 133.2,391.9 132.6,392.4 131.9,392.9 131.2,393.3 130.8,393.4 129.8,393.8 129.5,394.4 129.5,395.4 129.4,396.4 129.5,397.4 129.8,397.9 130.1,398.9 130.1,399.9 129.8,400.8 129.2,401.2 128.8,401.5 128.2,402.3 127.9,402.9 127.7,403.4 127.8,403.9 128.2,404.5 128.8,405.2 128.8,405.4 128.2,405.9 127.2,406.3 126.8,406.7 126.2,407.2 125.8,407.4ZM141.8,372.5 140.8,372.6 139.8,372.5 139.2,372.2 138.8,371.7 138.2,371.1 137.9,370.4 137.7,369.9 137.5,368.9 137.4,367.9 137.2,367.4 137.0,366.4 137.0,365.4 137.2,364.7 137.6,363.9 137.9,363.4 138.4,362.9 139.2,362.5 140.2,362.7 140.8,362.9 141.4,363.4 141.9,363.9 142.3,364.4 142.8,365.0 143.2,365.9 143.5,366.4 143.6,367.4 143.7,368.4 143.7,369.4 143.7,370.4 143.4,371.4 143.0,371.9 142.2,372.3 141.8,372.5ZM125.8,405.5 124.8,405.7 124.0,405.4 123.2,405.2 122.2,404.9 122.0,404.4 121.8,403.8 121.5,402.9 121.2,401.9 120.8,401.4 120.2,401.0 119.8,400.6 119.3,399.9 119.2,399.4 119.2,398.6 119.5,397.9 119.7,396.9 119.5,395.9 119.2,395.3 118.8,394.4 118.5,393.9 118.2,393.4 117.8,392.7 117.2,392.3 116.8,391.8 116.5,390.9 116.5,389.9 116.4,388.9 116.5,387.9 116.8,387.3 117.2,386.8 117.9,386.4 118.7,385.9 119.2,385.5 119.8,385.2 120.8,384.9 121.2,384.8 121.8,385.0 122.8,385.3 123.8,385.2 124.8,385.1 125.8,385.0 126.2,384.8 127.2,384.5 128.1,384.4 128.8,384.3 129.8,384.0 130.2,383.8 131.1,383.4 131.8,382.9 132.2,382.5 132.8,382.0 133.2,381.4 133.8,380.9 134.2,380.5 134.8,380.1 135.2,379.8 136.2,379.7 136.8,379.9 137.6,380.4 138.2,380.9 138.7,381.4 139.0,381.9 138.9,382.9 138.8,383.9 139.0,384.9 139.0,385.9 138.8,386.9 138.6,387.4 138.2,388.0 137.8,388.5 137.2,388.9 136.2,389.2 135.8,389.4 135.0,389.9 134.4,390.4 133.8,390.9 133.2,391.3 132.8,391.6 132.2,391.9 131.7,392.4 130.8,392.9 130.2,393.0 129.2,393.0 128.7,393.4 128.5,394.4 128.5,395.4 128.4,396.4 128.6,397.4 128.7,398.4 128.8,398.9 128.8,399.5 128.2,400.3 127.9,400.9 127.6,401.4 127.2,401.9 126.8,402.5 126.4,403.4 126.6,404.4 126.2,405.2 125.8,405.5ZM142.2,371.9 141.2,372.2 140.2,372.1 139.6,371.9 139.0,371.4 138.5,370.9 138.2,370.4 137.9,369.4 137.8,368.6 137.6,367.9 137.3,366.9 137.2,366.4 137.2,365.7 137.5,364.9 137.8,364.2 138.2,363.5 138.8,363.1 139.8,363.0 140.8,363.3 141.2,363.6 141.8,364.0 142.2,364.7 142.7,365.4 143.0,365.9 143.2,366.5 143.4,367.4 143.4,368.4 143.5,369.4 143.4,370.4 143.2,370.9 142.8,371.5 142.2,371.9ZM124.2,402.5 123.6,402.4 122.8,402.0 122.2,401.7 121.8,401.2 121.2,400.8 120.6,400.4 120.1,399.9 119.9,398.9 120.2,397.9 120.4,397.4 120.3,396.4 120.1,395.9 119.9,394.9 119.8,394.3 119.2,393.4 118.9,392.9 118.5,392.4 118.1,391.9 117.5,391.4 117.2,390.9 116.9,389.9 116.8,388.9 116.9,387.9 117.2,387.3 117.8,386.9 118.7,386.4 119.2,386.0 119.8,385.7 120.8,385.4 121.8,385.6 122.3,385.9 123.2,385.9 123.8,385.7 124.8,385.5 125.8,385.4 126.2,385.2 127.2,384.9 127.8,384.8 128.8,384.7 129.8,384.5 130.3,384.4 131.2,383.9 131.8,383.5 132.2,383.1 132.8,382.7 133.2,382.1 133.8,381.5 134.2,381.1 134.8,380.8 135.8,380.4 136.8,380.7 137.2,380.9 137.9,381.4 138.4,381.9 138.5,382.9 138.4,383.9 138.6,384.9 138.6,385.9 138.3,386.9 138.1,387.4 137.8,387.9 137.2,388.4 136.2,388.7 135.7,388.9 134.8,389.4 134.2,389.8 133.8,390.3 133.2,390.7 132.8,391.1 132.2,391.4 131.5,391.9 130.8,392.3 130.2,392.4 129.8,392.2 128.8,392.1 128.2,392.4 127.5,392.9 126.8,393.1 126.1,393.4 125.9,394.4 126.1,395.4 126.5,395.9 127.2,396.4 127.5,396.9 127.8,397.4 127.8,398.0 127.4,398.9 127.2,399.4 127.0,400.4 126.8,401.0 126.2,401.4 125.3,401.9 124.8,402.3 124.2,402.5ZM123.3,395.4 123.3,394.4 122.8,394.0 121.8,394.2 121.7,394.9 122.0,395.4 122.8,395.6 123.3,395.4ZM141.2,371.9 140.8,371.8 139.8,371.5 139.2,371.2 138.8,370.7 138.3,369.9 138.1,369.4 137.9,368.4 137.8,367.6 137.5,366.9 137.5,365.9 137.7,364.9 138.0,364.4 138.4,363.9 139.2,363.4 140.2,363.4 141.1,363.9 141.7,364.4 142.1,364.9 142.5,365.4 142.8,365.9 143.1,366.9 143.2,367.9 143.2,368.9 143.2,369.9 142.8,370.9 142.5,371.4 141.8,371.8 141.2,371.9ZM123.2,393.0 122.2,393.1 121.2,392.9 120.8,392.8 119.8,392.6 119.2,392.3 118.8,391.8 118.2,391.3 117.8,390.7 117.4,389.9 117.3,388.9 117.4,387.9 117.8,387.4 118.6,386.9 119.2,386.5 119.8,386.3 120.8,386.0 121.7,386.4 122.2,386.5 123.2,386.4 123.8,386.2 124.8,385.9 125.2,385.8 126.2,385.6 126.9,385.4 127.8,385.1 128.8,385.0 129.8,384.9 130.2,384.8 131.1,384.4 131.8,383.9 132.2,383.6 132.8,383.3 133.2,382.8 133.8,382.1 134.2,381.7 134.8,381.4 135.8,381.1 136.8,381.3 137.2,381.5 137.8,381.9 138.0,382.9 137.9,383.9 138.1,384.9 138.1,385.9 137.9,386.9 137.6,387.4 137.1,387.9 136.2,388.2 135.7,388.4 134.8,388.8 134.2,389.1 133.8,389.6 133.2,390.2 132.8,390.6 132.2,390.9 131.3,391.4 130.8,391.6 129.8,391.4 129.2,391.2 128.2,391.3 127.8,391.6 126.8,391.8 126.2,391.9 125.2,392.2 124.6,392.4 123.8,392.8 123.2,393.0ZM124.8,401.0 123.8,401.3 122.8,400.9 122.2,400.7 121.8,400.3 121.2,399.7 121.0,398.9 121.2,398.3 121.5,397.4 121.8,396.7 122.7,396.4 123.2,396.2 124.2,396.2 124.8,396.4 125.8,396.8 126.2,397.0 126.8,397.5 126.8,398.0 126.2,398.5 125.8,399.1 125.5,399.9 125.2,400.4 124.8,401.0ZM141.8,371.4 140.8,371.5 140.1,371.4 139.3,370.9 138.8,370.4 138.5,369.9 138.2,369.0 138.1,368.4 137.9,367.4 137.7,366.9 137.7,365.9 137.8,365.4 138.2,364.4 138.8,363.9 139.2,363.7 140.2,363.8 140.8,363.9 141.4,364.4 141.9,364.9 142.3,365.4 142.8,366.3 142.9,366.9 143.0,367.9 143.0,368.9 142.9,369.9 142.8,370.4 142.2,371.1 141.8,371.4ZM122.2,392.4 121.7,392.4 120.8,392.1 119.8,392.0 119.2,391.7 118.8,391.2 118.2,390.6 117.9,389.9 117.8,388.9 118.0,387.9 118.7,387.4 119.2,387.2 120.1,386.9 120.8,386.8 121.2,387.0 122.2,387.1 123.2,386.9 123.8,386.7 124.8,386.5 125.3,386.4 126.2,386.1 126.8,385.8 127.8,385.5 128.8,385.4 129.4,385.4 130.2,385.2 130.9,384.9 131.7,384.4 132.2,384.1 132.8,383.8 133.3,383.4 133.8,382.7 134.2,382.2 134.8,381.9 135.8,381.6 136.8,381.8 137.2,382.2 137.4,382.9 137.3,383.9 137.6,384.9 137.7,385.9 137.3,386.9 136.9,387.4 136.2,387.7 135.7,387.9 134.8,388.2 134.2,388.6 133.8,389.0 133.2,389.6 132.8,390.2 132.2,390.5 131.2,390.8 130.2,390.8 129.2,390.6 128.2,390.7 127.3,390.9 126.8,390.9 125.8,391.2 125.2,391.4 124.2,391.6 123.5,391.9 122.8,392.3 122.2,392.4ZM123.8,400.4 123.2,400.2 122.6,399.9 122.2,399.4 122.1,398.4 122.2,397.5 122.8,396.9 123.2,396.8 123.8,396.9 124.8,397.3 125.2,397.9 125.0,398.9 124.8,399.7 124.2,400.3 123.8,400.4ZM141.8,371.1 140.8,371.2 139.8,370.9 139.2,370.4 138.8,369.9 138.6,369.4 138.3,368.4 138.2,367.9 137.9,366.9 137.9,365.9 138.2,364.9 138.7,364.4 139.2,364.1 140.2,364.0 141.0,364.4 141.7,364.9 142.1,365.4 142.4,365.9 142.8,366.8 142.8,367.4 142.8,368.4 142.8,369.4 142.7,369.9 142.2,370.7 141.8,371.1ZM122.8,391.5 121.8,391.8 120.8,391.6 119.8,391.4 119.2,391.1 118.8,390.6 118.4,389.9 118.4,388.9 118.8,388.2 119.3,387.9 120.2,387.6 121.2,387.7 122.2,387.6 123.2,387.4 124.2,387.6 125.2,387.4 125.8,387.2 126.2,386.8 126.8,386.4 127.8,385.9 128.2,385.8 129.2,385.7 130.2,385.5 130.8,385.2 131.4,384.9 132.2,384.4 132.8,384.3 133.5,383.9 133.8,383.4 134.2,382.7 134.8,382.3 135.8,382.1 136.5,382.4 136.8,382.9 136.7,383.4 136.8,384.2 137.0,384.9 137.2,385.9 136.8,386.8 136.2,387.1 135.5,387.4 134.8,387.7 134.2,388.0 133.8,388.4 133.2,388.9 132.8,389.6 132.2,390.0 131.2,390.3 130.2,390.2 129.2,390.1 128.2,390.2 127.2,390.1 126.3,389.9 126.0,389.9 125.2,390.2 124.8,390.4 123.8,390.8 123.2,391.1 122.8,391.5ZM123.8,399.2 123.1,398.9 122.8,397.9 123.8,397.5 124.2,398.2 124.2,398.5 123.8,399.2ZM141.2,371.0 140.4,370.9 139.8,370.5 139.2,370.1 138.8,369.4 138.6,368.9 138.4,367.9 138.2,367.4 138.1,366.4 138.2,365.4 138.6,364.9 139.2,364.4 139.8,364.3 140.4,364.4 141.2,364.7 141.8,365.2 142.2,365.9 142.4,366.4 142.7,367.4 142.7,368.4 142.6,369.4 142.2,370.3 141.8,370.8 141.2,371.0ZM132.2,389.5 131.2,389.8 130.2,389.6 129.2,389.5 128.2,389.5 127.8,389.1 127.8,388.6 127.8,387.9 127.6,387.4 127.8,386.7 128.4,386.4 129.2,386.2 130.2,385.9 130.8,385.6 131.2,385.3 132.2,384.9 132.8,384.8 133.8,384.6 134.1,383.9 134.3,383.4 134.8,382.9 135.8,382.7 136.1,383.4 136.2,384.4 136.4,384.9 136.5,385.9 136.1,386.4 135.2,386.7 134.8,386.9 134.2,387.4 133.6,387.9 133.1,388.4 132.8,388.9 132.2,389.5ZM122.2,390.9 121.2,390.9 120.2,390.9 119.8,390.8 119.2,390.4 118.9,389.4 119.2,388.7 119.9,388.4 120.8,388.3 121.8,388.2 122.8,388.0 123.7,388.4 124.1,388.9 123.8,389.6 123.2,390.1 122.8,390.6 122.2,390.9ZM141.8,370.5 140.8,370.7 139.9,370.4 139.3,369.9 139.0,369.4 138.8,368.7 138.5,367.9 138.3,366.9 138.2,366.4 138.3,365.9 138.8,365.1 139.2,364.7 140.2,364.6 141.1,364.9 141.7,365.4 142.0,365.9 142.3,366.4 142.5,367.4 142.5,368.4 142.4,369.4 142.2,369.9 141.8,370.5ZM131.8,389.0 130.8,389.2 129.8,388.9 129.3,388.4 129.1,387.9 129.2,387.0 129.8,386.6 130.2,386.3 131.0,385.9 131.8,385.4 132.2,385.3 132.8,385.4 133.3,385.9 133.5,386.9 133.1,387.4 132.8,387.9 132.2,388.5 131.8,389.0ZM122.2,390.0 121.3,389.9 120.8,389.6 120.2,389.9 119.7,389.9 119.8,389.4 120.8,389.3 121.6,388.9 122.2,388.7 122.9,388.9 122.8,389.6 122.2,390.0ZM141.2,370.4 140.5,370.4 139.8,370.0 139.2,369.4 139.0,368.9 138.8,368.0 138.6,367.4 138.4,366.4 138.8,365.4 139.2,365.0 139.8,364.8 140.5,364.9 141.2,365.2 141.8,365.7 142.1,366.4 142.3,366.9 142.4,367.9 142.3,368.9 142.2,369.4 141.8,370.1 141.2,370.4ZM130.8,388.0 130.5,387.4 130.8,386.8 131.2,386.3 132.2,386.1 132.2,386.6 131.8,387.2 131.2,387.8 130.8,388.0ZM141.2,370.2 140.2,370.0 139.8,369.7 139.2,369.0 139.0,368.4 138.8,367.4 138.7,366.9 138.8,365.9 139.2,365.4 139.8,365.1 140.8,365.1 141.2,365.4 141.8,366.0 142.1,366.9 142.2,367.9 142.1,368.9 141.8,369.8 141.2,370.2ZM141.2,369.9 140.5,369.9 139.8,369.4 139.4,368.9 139.2,368.4 138.9,367.4 138.8,366.4 139.2,365.6 139.8,365.3 140.8,365.3 141.2,365.6 141.8,366.3 142.0,366.9 142.1,367.9 141.9,368.9 141.8,369.4 141.2,369.9ZM141.2,369.6 140.2,369.5 139.8,369.1 139.4,368.4 139.2,367.9 139.0,366.9 139.2,365.9 139.8,365.6 140.8,365.5 141.2,365.9 141.8,366.7 141.9,367.4 141.9,368.4 141.7,368.9 141.2,369.6ZM140.8,369.4 140.2,369.2 139.8,368.7 139.4,367.9 139.2,367.3 139.2,366.5 139.7,365.9 140.2,365.7 140.9,365.9 141.4,366.4 141.7,367.4 141.7,368.4 141.2,369.2 140.8,369.4ZM140.8,369.1 140.2,368.9 139.8,368.3 139.4,367.4 139.6,366.4 140.2,365.9 141.2,366.4 141.4,366.9 141.6,367.9 141.2,368.8 140.8,369.1ZM140.8,368.8 140.1,368.4 139.8,367.8 139.6,366.9 139.9,366.4 140.8,366.3 141.2,366.8 141.4,367.4 141.2,368.3 140.8,368.8ZM140.8,368.4 140.2,368.2 139.9,367.4 140.2,366.5 140.9,366.9 141.1,367.9 140.8,368.4Z" stroke="#111" stroke-width="0.45" fill="none"/>
<text x="88.40" y="361.10" font-size="5.9" text-anchor="start" fill="#000">JQ1</text>
<text x="152.90" y="361.10" font-size="5.9" text-anchor="end" fill="#d9403a">38.4%</text>
<text x="87.90" y="414.60" font-size="5.9" text-anchor="start" fill="#d9403a">30.2%</text>
<text x="152.90" y="414.60" font-size="5.9" text-anchor="end" fill="#000">31.3%</text>
<line x1="10.60" y1="422.50" x2="10.60" y2="398.50" stroke="#000" stroke-width="0.9"/>
<path d="M10.6,395.5 L8.6,400.5 L12.6,400.5 Z" fill="#000"/>
<line x1="10.10" y1="422.00" x2="36.50" y2="422.00" stroke="#000" stroke-width="0.9"/>
<path d="M39.8,422 L34.8,420 L34.8,424 Z" fill="#000"/>
<text x="5.30" y="411.50" font-size="5.8" text-anchor="middle" font-weight="bold" fill="#000" transform="rotate(-90 5.3 411.5)" dominant-baseline="middle">PI</text>
<text x="22.00" y="430.50" font-size="5.8" text-anchor="middle" font-weight="bold" fill="#000">AV</text>
<text x="165.00" y="266.00" font-size="11.5" text-anchor="start" font-weight="bold" fill="#000">E</text>
<text x="195.40" y="286.60" font-size="6.8" text-anchor="middle" font-weight="bold" fill="#000">0</text>
<text x="211.50" y="286.60" font-size="6.8" text-anchor="middle" font-weight="bold" fill="#000">1</text>
<text x="227.30" y="286.60" font-size="6.8" text-anchor="middle" font-weight="bold" fill="#000">3</text>
<text x="234.60" y="286.60" font-size="6.8" text-anchor="start" font-weight="bold" fill="#000">Days</text>
<defs><filter id="bl" x="-20%" y="-50%" width="140%" height="200%"><feGaussianBlur stdDeviation="0.45"/></filter></defs>
<rect x="182.60" y="289.70" width="54.10" height="20.70" fill="#a3a3a3" stroke="none" stroke-width="1"/>
<rect x="182.60" y="310.40" width="54.10" height="10.80" fill="#f7f7f7" stroke="none" stroke-width="1"/>
<rect x="188.7" y="295.45" width="13.2" height="1.50" rx="0.75" fill="#111" opacity="0.30" filter="url(#bl)"/>
<rect x="204.8" y="295.20" width="13.2" height="2.00" rx="1.00" fill="#111" opacity="0.95" filter="url(#bl)"/>
<rect x="221.1" y="295.20" width="13.2" height="2.00" rx="1.00" fill="#111" opacity="0.95" filter="url(#bl)"/>
<rect x="204.8" y="304.25" width="13.2" height="1.50" rx="0.75" fill="#111" opacity="0.30" filter="url(#bl)"/>
<rect x="188.2" y="313.90" width="14.2" height="3.80" rx="1.90" fill="#000" opacity="1.00" filter="url(#bl)"/>
<rect x="204.3" y="314.40" width="14.2" height="2.80" rx="1.40" fill="#000" opacity="0.90" filter="url(#bl)"/>
<rect x="220.6" y="314.40" width="14.2" height="2.80" rx="1.40" fill="#000" opacity="0.90" filter="url(#bl)"/>
<rect x="182.60" y="289.70" width="54.10" height="31.50" fill="none" stroke="#000" stroke-width="1.5"/>
<line x1="182.60" y1="310.40" x2="236.70" y2="310.40" stroke="#000" stroke-width="1.3"/>
<rect x="182.60" y="321.20" width="54.10" height="21.00" fill="#a3a3a3" stroke="none" stroke-width="1"/>
<rect x="182.60" y="342.20" width="54.10" height="11.20" fill="#f7f7f7" stroke="none" stroke-width="1"/>
<rect x="188.7" y="325.90" width="13.2" height="1.80" rx="0.90" fill="#111" opacity="0.95" filter="url(#bl)"/>
<rect x="204.8" y="325.90" width="13.2" height="1.80" rx="0.90" fill="#111" opacity="0.90" filter="url(#bl)"/>
<rect x="221.1" y="326.05" width="13.2" height="1.50" rx="0.75" fill="#111" opacity="0.35" filter="url(#bl)"/>
<rect x="204.8" y="336.30" width="13.2" height="2.00" rx="1.00" fill="#111" opacity="0.95" filter="url(#bl)"/>
<rect x="221.1" y="336.60" width="13.2" height="1.80" rx="0.90" fill="#111" opacity="0.70" filter="url(#bl)"/>
<rect x="188.2" y="346.00" width="14.2" height="4.00" rx="2.00" fill="#000" opacity="1.00" filter="url(#bl)"/>
<rect x="204.3" y="346.30" width="14.2" height="3.40" rx="1.70" fill="#000" opacity="0.95" filter="url(#bl)"/>
<rect x="220.6" y="346.50" width="14.2" height="3.00" rx="1.50" fill="#000" opacity="0.85" filter="url(#bl)"/>
<rect x="182.60" y="321.20" width="54.10" height="32.20" fill="none" stroke="#000" stroke-width="1.5"/>
<line x1="182.60" y1="342.20" x2="236.70" y2="342.20" stroke="#000" stroke-width="1.3"/>
<rect x="182.60" y="357.00" width="54.10" height="20.20" fill="#a3a3a3" stroke="none" stroke-width="1"/>
<rect x="182.60" y="377.20" width="54.10" height="11.30" fill="#f7f7f7" stroke="none" stroke-width="1"/>
<rect x="188.7" y="361.65" width="13.2" height="1.70" rx="0.85" fill="#111" opacity="0.85" filter="url(#bl)"/>
<rect x="204.8" y="361.65" width="13.2" height="1.70" rx="0.85" fill="#111" opacity="0.85" filter="url(#bl)"/>
<rect x="221.1" y="361.60" width="13.2" height="1.80" rx="0.90" fill="#111" opacity="0.90" filter="url(#bl)"/>
<rect x="221.1" y="369.75" width="13.2" height="1.50" rx="0.75" fill="#111" opacity="0.30" filter="url(#bl)"/>
<rect x="188.2" y="380.80" width="14.2" height="4.40" rx="2.20" fill="#000" opacity="0.95" filter="url(#bl)"/>
<rect x="204.3" y="381.00" width="14.2" height="4.00" rx="2.00" fill="#000" opacity="0.95" filter="url(#bl)"/>
<rect x="220.6" y="380.80" width="14.2" height="4.40" rx="2.20" fill="#000" opacity="0.95" filter="url(#bl)"/>
<rect x="182.60" y="357.00" width="54.10" height="31.50" fill="none" stroke="#000" stroke-width="1.5"/>
<line x1="182.60" y1="377.20" x2="236.70" y2="377.20" stroke="#000" stroke-width="1.3"/>
<rect x="182.60" y="388.50" width="54.10" height="20.70" fill="#a3a3a3" stroke="none" stroke-width="1"/>
<rect x="182.60" y="409.20" width="54.10" height="11.00" fill="#f7f7f7" stroke="none" stroke-width="1"/>
<rect x="188.7" y="392.55" width="13.2" height="1.70" rx="0.85" fill="#111" opacity="0.90" filter="url(#bl)"/>
<rect x="204.8" y="392.60" width="13.2" height="1.60" rx="0.80" fill="#111" opacity="0.55" filter="url(#bl)"/>
<rect x="221.1" y="392.65" width="13.2" height="1.50" rx="0.75" fill="#111" opacity="0.35" filter="url(#bl)"/>
<rect x="221.1" y="400.80" width="13.2" height="1.80" rx="0.90" fill="#111" opacity="0.75" filter="url(#bl)"/>
<rect x="188.2" y="412.80" width="14.2" height="3.60" rx="1.80" fill="#000" opacity="0.95" filter="url(#bl)"/>
<rect x="204.3" y="412.90" width="14.2" height="3.40" rx="1.70" fill="#000" opacity="0.95" filter="url(#bl)"/>
<rect x="220.6" y="412.90" width="14.2" height="3.40" rx="1.70" fill="#000" opacity="0.95" filter="url(#bl)"/>
<rect x="182.60" y="388.50" width="54.10" height="31.70" fill="none" stroke="#000" stroke-width="1.5"/>
<line x1="182.60" y1="409.20" x2="236.70" y2="409.20" stroke="#000" stroke-width="1.3"/>
<text x="239.00" y="298.80" font-size="6.5" text-anchor="start" font-weight="bold" fill="#000">PARP</text>
<text x="239.00" y="318.50" font-size="6.5" text-anchor="start" font-weight="bold" fill="#000">TUB</text>
<text x="239.00" y="330.60" font-size="6.5" text-anchor="start" font-weight="bold" fill="#000">PARP</text>
<text x="239.00" y="350.30" font-size="6.5" text-anchor="start" font-weight="bold" fill="#000">TUB</text>
<text x="239.00" y="365.30" font-size="6.5" text-anchor="start" font-weight="bold" fill="#000">PARP</text>
<text x="239.00" y="385.30" font-size="6.5" text-anchor="start" font-weight="bold" fill="#000">TUB</text>
<text x="239.00" y="396.50" font-size="6.5" text-anchor="start" font-weight="bold" fill="#000">PARP</text>
<text x="239.00" y="417.10" font-size="6.5" text-anchor="start" font-weight="bold" fill="#000">TUB</text>
<circle cx="240.30" cy="305.20" r="0.9" fill="#000" stroke="none" stroke-width="1"/>
<circle cx="240.30" cy="337.50" r="0.9" fill="#000" stroke="none" stroke-width="1"/>
<circle cx="240.30" cy="371.40" r="0.9" fill="#000" stroke="none" stroke-width="1"/>
<circle cx="240.30" cy="403.50" r="0.9" fill="#000" stroke="none" stroke-width="1"/>
<line x1="179.80" y1="291.30" x2="179.80" y2="318.10" stroke="#222" stroke-width="0.8"/>
<line x1="179.80" y1="324.50" x2="179.80" y2="351.00" stroke="#222" stroke-width="0.8"/>
<line x1="179.80" y1="359.40" x2="179.80" y2="384.00" stroke="#222" stroke-width="0.8"/>
<line x1="179.80" y1="392.00" x2="179.80" y2="416.50" stroke="#222" stroke-width="0.8"/>
<text x="175.00" y="307.00" font-size="6.6" text-anchor="middle" font-weight="bold" fill="#000" transform="rotate(-90 175.0 307.0)" dominant-baseline="middle">Veh</text>
<text x="175.00" y="336.20" font-size="6.6" text-anchor="middle" font-weight="bold" fill="#000" transform="rotate(-90 175.0 336.2)" dominant-baseline="middle">JQ1</text>
<text x="175.00" y="372.00" font-size="6.6" text-anchor="middle" font-weight="bold" fill="#000" transform="rotate(-90 175.0 372.0)" dominant-baseline="middle">Veh</text>
<text x="175.00" y="404.70" font-size="6.6" text-anchor="middle" font-weight="bold" fill="#000" transform="rotate(-90 175.0 404.7)" dominant-baseline="middle">JQ1</text>
<text x="167.60" y="322.10" font-size="6.6" text-anchor="middle" font-weight="bold" fill="#000" transform="rotate(-90 167.6 322.1)" dominant-baseline="middle">MHH-CALL4</text>
<text x="167.60" y="385.80" font-size="6.6" text-anchor="middle" font-weight="bold" fill="#000" transform="rotate(-90 167.6 385.8)" dominant-baseline="middle">MUTZ-5</text>
<text x="256.40" y="266.00" font-size="11.5" text-anchor="start" font-weight="bold" fill="#000">F</text>
<text x="336.40" y="255.50" font-size="8.2" text-anchor="middle" font-weight="bold" fill="#000">MHH-CALL4</text>
<text x="454.30" y="255.50" font-size="8.2" text-anchor="middle" font-weight="bold" fill="#000">MUTZ-5</text>
<rect x="273.80" y="258.50" width="57.80" height="56.30" fill="#fff" stroke="#222" stroke-width="1.0"/>
<path d="M274.3,310.1h1.3M274.3,305.4h1.3M274.3,300.7h1.3M274.3,296.0h1.3M274.3,291.3h1.3M274.3,286.6h1.3M274.3,281.9h1.3M274.3,277.2h1.3M274.3,272.5h1.3M274.3,267.8h1.3M274.3,263.1h1.3M275.8,314.3v-1.2M278.2,314.3v-1.2M280.5,314.3v-1.2M282.9,314.3v-1.2M285.2,314.3v-1.2M287.6,314.3v-1.2M289.9,314.3v-1.2M292.3,314.3v-1.2M294.6,314.3v-1.2M297.0,314.3v-1.2M299.3,314.3v-1.2M301.7,314.3v-1.2M304.0,314.3v-1.2M306.4,314.3v-1.2M308.7,314.3v-1.2M311.1,314.3v-1.2M313.4,314.3v-1.2M315.8,314.3v-1.2M318.1,314.3v-1.2M320.5,314.3v-1.2M322.8,314.3v-1.2M325.2,314.3v-1.2M327.5,314.3v-1.2M329.9,314.3v-1.2" stroke="#333" stroke-width="0.55" fill="none"/>
<polyline points="274.80,313.90 275.05,313.90 275.30,313.90 275.55,313.90 275.80,313.90 276.05,313.90 276.30,313.90 276.55,313.90 276.80,313.90 277.05,313.90 277.30,313.90 277.55,313.90 277.80,313.90 278.05,313.90 278.30,313.90 278.55,313.90 278.80,313.90 279.05,313.90 279.30,313.90 279.55,313.90 279.80,313.90 280.05,313.90 280.30,313.90 280.55,313.90 280.80,313.90 281.05,313.90 281.30,313.90 281.55,313.90 281.80,313.90 282.05,313.90 282.30,313.90 282.55,313.90 282.80,313.90 283.05,313.90 283.30,313.90 283.55,313.90 283.80,313.90 284.05,313.90 284.30,313.90 284.55,313.90 284.80,313.90 285.05,313.90 285.30,313.90 285.55,313.90 285.80,313.89 286.05,313.89 286.30,313.88 286.55,313.87 286.80,313.85 287.05,313.82 287.30,313.78 287.55,313.72 287.80,313.64 288.05,313.54 288.30,313.41 288.55,313.25 288.80,313.05 289.05,312.81 289.30,312.50 289.55,311.94 289.80,310.61 290.05,307.35 290.30,300.52 290.55,289.40 290.80,276.20 291.05,266.44 291.30,264.83 291.55,273.17 291.80,286.19 292.05,298.02 292.30,305.72 292.55,309.56 292.80,311.16 293.05,311.82 293.30,312.16 293.55,312.41 293.80,312.61 294.05,312.78 294.30,312.92 294.55,313.03 294.80,313.11 295.05,313.17 295.30,313.21 295.55,313.24 295.80,313.26 296.05,313.28 296.30,313.29 296.55,313.29 296.80,313.30 297.05,313.30 297.30,313.30 297.55,313.30 297.80,313.30 298.05,313.30 298.30,313.30 298.55,313.30 298.80,313.30 299.05,313.30 299.30,313.30 299.55,313.30 299.80,313.30 300.05,313.30 300.30,313.30 300.55,313.30 300.80,313.30 301.05,313.30 301.30,313.30 301.55,313.30 301.80,313.30 302.05,313.30 302.30,313.30 302.55,313.30 302.80,313.30 303.05,313.30 303.30,313.30 303.55,313.30 303.80,313.30 304.05,313.30 304.30,313.30 304.55,313.29 304.80,313.26 305.05,313.21 305.30,313.12 305.55,312.95 305.80,312.69 306.05,312.35 306.30,311.97 306.55,311.61 306.80,311.37 307.05,311.90 307.30,312.04 307.55,312.34 307.80,312.72 308.05,313.10 308.30,313.41 308.55,313.63 308.80,313.76 309.05,313.84 309.30,313.87 309.55,313.89 309.80,313.90 310.05,313.90 310.30,313.90 310.55,313.90 310.80,313.90 311.05,313.90 311.30,313.90 311.55,313.90 311.80,313.90 312.05,313.90 312.30,313.90 312.55,313.90 312.80,313.90 313.05,313.90 313.30,313.90 313.55,313.90 313.80,313.90 314.05,313.90 314.30,313.90 314.55,313.90 314.80,313.90 315.05,313.90 315.30,313.90 315.55,313.90 315.80,313.90 316.05,313.90 316.30,313.90 316.55,313.90 316.80,313.90 317.05,313.90 317.30,313.90 317.55,313.90 317.80,313.90 318.05,313.90 318.30,313.90 318.55,313.90 318.80,313.90 319.05,313.90 319.30,313.90 319.55,313.90 319.80,313.90 320.05,313.90 320.30,313.90 320.55,313.90 320.80,313.90 321.05,313.90 321.30,313.90 321.55,313.90 321.80,313.90 322.05,313.90 322.30,313.90 322.55,313.90 322.80,313.90 323.05,313.90 323.30,313.90 323.55,313.90 323.80,313.90 324.05,313.90 324.30,313.90 324.55,313.90 324.80,313.90 325.05,313.90 325.30,313.90 325.55,313.90 325.80,313.90 326.05,313.90 326.30,313.90 326.55,313.90 326.80,313.90 327.05,313.90 327.30,313.90 327.55,313.90 327.80,313.90 328.05,313.90 328.30,313.90 328.55,313.90 328.80,313.90 329.05,313.90 329.30,313.90 329.55,313.90 329.80,313.90 330.05,313.90" stroke="#111" stroke-width="0.75" fill="none"/>
<text x="276.40" y="265.80" font-size="6.4" text-anchor="start" font-weight="bold" fill="#000">Veh</text>
<text x="329.40" y="265.20" font-size="6.0" text-anchor="end" font-weight="bold" fill="#000">G1: 80%</text>
<text x="329.40" y="271.60" font-size="6.0" text-anchor="end" font-weight="bold" fill="#000">S: 7%</text>
<text x="329.40" y="278.00" font-size="6.0" text-anchor="end" font-weight="bold" fill="#000">G2: 4%</text>
<rect x="334.10" y="258.50" width="57.80" height="56.30" fill="#fff" stroke="#222" stroke-width="1.0"/>
<path d="M334.6,310.1h1.3M334.6,305.4h1.3M334.6,300.7h1.3M334.6,296.0h1.3M334.6,291.3h1.3M334.6,286.6h1.3M334.6,281.9h1.3M334.6,277.2h1.3M334.6,272.5h1.3M334.6,267.8h1.3M334.6,263.1h1.3M336.1,314.3v-1.2M338.5,314.3v-1.2M340.8,314.3v-1.2M343.2,314.3v-1.2M345.5,314.3v-1.2M347.9,314.3v-1.2M350.2,314.3v-1.2M352.6,314.3v-1.2M354.9,314.3v-1.2M357.3,314.3v-1.2M359.6,314.3v-1.2M362.0,314.3v-1.2M364.3,314.3v-1.2M366.7,314.3v-1.2M369.0,314.3v-1.2M371.4,314.3v-1.2M373.7,314.3v-1.2M376.1,314.3v-1.2M378.4,314.3v-1.2M380.8,314.3v-1.2M383.1,314.3v-1.2M385.5,314.3v-1.2M387.8,314.3v-1.2M390.2,314.3v-1.2" stroke="#333" stroke-width="0.55" fill="none"/>
<polyline points="335.10,313.90 335.35,313.90 335.60,313.90 335.85,313.90 336.10,313.90 336.35,313.90 336.60,313.90 336.85,313.90 337.10,313.90 337.35,313.90 337.60,313.90 337.85,313.90 338.10,313.90 338.35,313.90 338.60,313.90 338.85,313.90 339.10,313.90 339.35,313.90 339.60,313.90 339.85,313.90 340.10,313.90 340.35,313.90 340.60,313.90 340.85,313.90 341.10,313.90 341.35,313.90 341.60,313.90 341.85,313.90 342.10,313.90 342.35,313.90 342.60,313.90 342.85,313.90 343.10,313.90 343.35,313.90 343.60,313.90 343.85,313.90 344.10,313.90 344.35,313.90 344.60,313.90 344.85,313.90 345.10,313.90 345.35,313.90 345.60,313.90 345.85,313.90 346.10,313.90 346.35,313.89 346.60,313.89 346.85,313.88 347.10,313.87 347.35,313.85 347.60,313.83 347.85,313.79 348.10,313.74 348.35,313.67 348.60,313.57 348.85,313.45 349.10,313.29 349.35,313.11 349.60,312.89 349.85,312.60 350.10,312.13 350.35,311.04 350.60,308.35 350.85,302.47 351.10,292.36 351.35,279.49 351.60,268.75 351.85,265.20 352.10,271.79 352.35,284.12 352.60,296.30 352.85,304.70 353.10,309.11 353.35,311.00 353.60,311.76 353.85,312.13 354.10,312.38 354.35,312.59 354.60,312.76 354.85,312.90 355.10,313.01 355.35,313.10 355.60,313.16 355.85,313.21 356.10,313.24 356.35,313.26 356.60,313.28 356.85,313.29 357.10,313.29 357.35,313.30 357.60,313.30 357.85,313.30 358.10,313.30 358.35,313.30 358.60,313.30 358.85,313.30 359.10,313.30 359.35,313.30 359.60,313.30 359.85,313.30 360.10,313.30 360.35,313.30 360.60,313.30 360.85,313.30 361.10,313.30 361.35,313.30 361.60,313.30 361.85,313.30 362.10,313.30 362.35,313.30 362.60,313.30 362.85,313.30 363.10,313.30 363.35,313.30 363.60,313.30 363.85,313.30 364.10,313.30 364.35,313.29 364.60,313.28 364.85,313.26 365.10,313.21 365.35,313.11 365.60,312.94 365.85,312.70 366.10,312.38 366.35,312.03 366.60,311.72 366.85,311.53 367.10,312.11 367.35,312.27 367.60,312.56 367.85,312.91 368.10,313.24 368.35,313.50 368.60,313.68 368.85,313.79 369.10,313.85 369.35,313.88 369.60,313.89 369.85,313.90 370.10,313.90 370.35,313.90 370.60,313.90 370.85,313.90 371.10,313.90 371.35,313.90 371.60,313.90 371.85,313.90 372.10,313.90 372.35,313.90 372.60,313.90 372.85,313.90 373.10,313.90 373.35,313.90 373.60,313.90 373.85,313.90 374.10,313.90 374.35,313.90 374.60,313.90 374.85,313.90 375.10,313.90 375.35,313.90 375.60,313.90 375.85,313.90 376.10,313.90 376.35,313.90 376.60,313.90 376.85,313.90 377.10,313.90 377.35,313.90 377.60,313.90 377.85,313.90 378.10,313.90 378.35,313.90 378.60,313.90 378.85,313.90 379.10,313.90 379.35,313.90 379.60,313.90 379.85,313.90 380.10,313.90 380.35,313.90 380.60,313.90 380.85,313.90 381.10,313.90 381.35,313.90 381.60,313.90 381.85,313.90 382.10,313.90 382.35,313.90 382.60,313.90 382.85,313.90 383.10,313.90 383.35,313.90 383.60,313.90 383.85,313.90 384.10,313.90 384.35,313.90 384.60,313.90 384.85,313.90 385.10,313.90 385.35,313.90 385.60,313.90 385.85,313.90 386.10,313.90 386.35,313.90 386.60,313.90 386.85,313.90 387.10,313.90 387.35,313.90 387.60,313.90 387.85,313.90 388.10,313.90 388.35,313.90 388.60,313.90 388.85,313.90 389.10,313.90 389.35,313.90 389.60,313.90 389.85,313.90 390.10,313.90 390.35,313.90" stroke="#111" stroke-width="0.75" fill="none"/>
<text x="336.70" y="265.80" font-size="6.4" text-anchor="start" font-weight="bold" fill="#000">JQ1</text>
<text x="389.70" y="265.20" font-size="6.0" text-anchor="end" font-weight="bold" fill="#000">G1: 80%</text>
<text x="389.70" y="271.60" font-size="6.0" text-anchor="end" font-weight="bold" fill="#000">S: 5%</text>
<text x="389.70" y="278.00" font-size="6.0" text-anchor="end" font-weight="bold" fill="#000">G2: 4%</text>
<rect x="394.20" y="258.50" width="57.70" height="56.30" fill="#fff" stroke="#222" stroke-width="1.0"/>
<path d="M394.7,310.1h1.3M394.7,305.4h1.3M394.7,300.7h1.3M394.7,296.0h1.3M394.7,291.3h1.3M394.7,286.6h1.3M394.7,281.9h1.3M394.7,277.2h1.3M394.7,272.5h1.3M394.7,267.8h1.3M394.7,263.1h1.3M396.2,314.3v-1.2M398.6,314.3v-1.2M400.9,314.3v-1.2M403.3,314.3v-1.2M405.6,314.3v-1.2M408.0,314.3v-1.2M410.3,314.3v-1.2M412.7,314.3v-1.2M415.0,314.3v-1.2M417.4,314.3v-1.2M419.7,314.3v-1.2M422.1,314.3v-1.2M424.4,314.3v-1.2M426.8,314.3v-1.2M429.1,314.3v-1.2M431.5,314.3v-1.2M433.8,314.3v-1.2M436.2,314.3v-1.2M438.5,314.3v-1.2M440.9,314.3v-1.2M443.2,314.3v-1.2M445.6,314.3v-1.2M447.9,314.3v-1.2M450.3,314.3v-1.2" stroke="#333" stroke-width="0.55" fill="none"/>
<polyline points="395.20,313.90 395.45,313.90 395.70,313.90 395.95,313.90 396.20,313.90 396.45,313.90 396.70,313.90 396.95,313.90 397.20,313.90 397.45,313.90 397.70,313.90 397.95,313.90 398.20,313.90 398.45,313.90 398.70,313.90 398.95,313.90 399.20,313.90 399.45,313.90 399.70,313.90 399.95,313.90 400.20,313.90 400.45,313.90 400.70,313.90 400.95,313.90 401.20,313.90 401.45,313.90 401.70,313.90 401.95,313.90 402.20,313.90 402.45,313.90 402.70,313.90 402.95,313.90 403.20,313.90 403.45,313.90 403.70,313.90 403.95,313.90 404.20,313.90 404.45,313.90 404.70,313.90 404.95,313.90 405.20,313.90 405.45,313.89 405.70,313.89 405.95,313.88 406.20,313.87 406.45,313.86 406.70,313.84 406.95,313.80 407.20,313.75 407.45,313.68 407.70,313.59 407.95,313.47 408.20,313.32 408.45,313.13 408.70,312.91 408.95,312.63 409.20,312.24 409.45,311.42 409.70,309.38 409.95,304.63 410.20,295.56 410.45,282.42 410.70,269.12 410.95,262.02 411.20,264.40 411.45,275.98 411.70,289.87 411.95,300.77 412.20,307.11 412.45,310.02 412.70,311.19 412.95,311.70 413.20,312.01 413.45,312.25 413.70,312.45 413.95,312.61 414.20,312.74 414.45,312.85 414.70,312.93 414.95,312.98 415.20,313.02 415.45,313.05 415.70,313.07 415.95,313.08 416.20,313.09 416.45,313.09 416.70,313.10 416.95,313.10 417.20,313.10 417.45,313.10 417.70,313.10 417.95,313.10 418.20,313.10 418.45,313.10 418.70,313.10 418.95,313.10 419.20,313.10 419.45,313.10 419.70,313.10 419.95,313.10 420.20,313.10 420.45,313.10 420.70,313.10 420.95,313.10 421.20,313.10 421.45,313.10 421.70,313.10 421.95,313.10 422.20,313.10 422.45,313.10 422.70,313.10 422.95,313.10 423.20,313.10 423.45,313.10 423.70,313.10 423.95,313.10 424.20,313.10 424.45,313.10 424.70,313.09 424.95,313.08 425.20,313.06 425.45,313.01 425.70,312.91 425.95,312.75 426.20,312.51 426.45,312.22 426.70,311.91 426.95,311.65 427.20,311.51 427.45,312.33 427.70,312.50 427.95,312.77 428.20,313.08 428.45,313.36 428.70,313.58 428.95,313.73 429.20,313.82 429.45,313.86 429.70,313.89 429.95,313.90 430.20,313.90 430.45,313.90 430.70,313.90 430.95,313.90 431.20,313.90 431.45,313.90 431.70,313.90 431.95,313.90 432.20,313.90 432.45,313.90 432.70,313.90 432.95,313.90 433.20,313.90 433.45,313.90 433.70,313.90 433.95,313.90 434.20,313.90 434.45,313.90 434.70,313.90 434.95,313.90 435.20,313.90 435.45,313.90 435.70,313.90 435.95,313.90 436.20,313.90 436.45,313.90 436.70,313.90 436.95,313.90 437.20,313.90 437.45,313.90 437.70,313.90 437.95,313.90 438.20,313.90 438.45,313.90 438.70,313.90 438.95,313.90 439.20,313.90 439.45,313.90 439.70,313.90 439.95,313.90 440.20,313.90 440.45,313.90 440.70,313.90 440.95,313.90 441.20,313.90 441.45,313.90 441.70,313.90 441.95,313.90 442.20,313.90 442.45,313.90 442.70,313.90 442.95,313.90 443.20,313.90 443.45,313.90 443.70,313.90 443.95,313.90 444.20,313.90 444.45,313.90 444.70,313.90 444.95,313.90 445.20,313.90 445.45,313.90 445.70,313.90 445.95,313.90 446.20,313.90 446.45,313.90 446.70,313.90 446.95,313.90 447.20,313.90 447.45,313.90 447.70,313.90 447.95,313.90 448.20,313.90 448.45,313.90 448.70,313.90 448.95,313.90 449.20,313.90 449.45,313.90 449.70,313.90 449.95,313.90 450.20,313.90" stroke="#111" stroke-width="0.75" fill="none"/>
<text x="396.80" y="265.80" font-size="6.4" text-anchor="start" font-weight="bold" fill="#000">Veh</text>
<text x="449.70" y="265.20" font-size="6.0" text-anchor="end" font-weight="bold" fill="#000">G1: 83%</text>
<text x="449.70" y="271.60" font-size="6.0" text-anchor="end" font-weight="bold" fill="#000">S: 12%</text>
<text x="449.70" y="278.00" font-size="6.0" text-anchor="end" font-weight="bold" fill="#000">G2: 3%</text>
<rect x="454.20" y="258.50" width="57.60" height="56.30" fill="#fff" stroke="#222" stroke-width="1.0"/>
<path d="M454.7,310.1h1.3M454.7,305.4h1.3M454.7,300.7h1.3M454.7,296.0h1.3M454.7,291.3h1.3M454.7,286.6h1.3M454.7,281.9h1.3M454.7,277.2h1.3M454.7,272.5h1.3M454.7,267.8h1.3M454.7,263.1h1.3M456.2,314.3v-1.2M458.6,314.3v-1.2M460.9,314.3v-1.2M463.3,314.3v-1.2M465.6,314.3v-1.2M468.0,314.3v-1.2M470.3,314.3v-1.2M472.7,314.3v-1.2M475.0,314.3v-1.2M477.4,314.3v-1.2M479.7,314.3v-1.2M482.1,314.3v-1.2M484.4,314.3v-1.2M486.8,314.3v-1.2M489.1,314.3v-1.2M491.5,314.3v-1.2M493.8,314.3v-1.2M496.2,314.3v-1.2M498.5,314.3v-1.2M500.9,314.3v-1.2M503.2,314.3v-1.2M505.6,314.3v-1.2M507.9,314.3v-1.2M510.3,314.3v-1.2" stroke="#333" stroke-width="0.55" fill="none"/>
<polyline points="455.20,313.90 455.45,313.90 455.70,313.90 455.95,313.90 456.20,313.90 456.45,313.90 456.70,313.90 456.95,313.90 457.20,313.90 457.45,313.90 457.70,313.90 457.95,313.90 458.20,313.90 458.45,313.90 458.70,313.90 458.95,313.90 459.20,313.90 459.45,313.90 459.70,313.90 459.95,313.90 460.20,313.90 460.45,313.90 460.70,313.90 460.95,313.90 461.20,313.90 461.45,313.90 461.70,313.90 461.95,313.90 462.20,313.90 462.45,313.90 462.70,313.90 462.95,313.90 463.20,313.90 463.45,313.90 463.70,313.90 463.95,313.90 464.20,313.90 464.45,313.90 464.70,313.90 464.95,313.90 465.20,313.89 465.45,313.89 465.70,313.88 465.95,313.87 466.20,313.86 466.45,313.83 466.70,313.79 466.95,313.74 467.20,313.67 467.45,313.57 467.70,313.44 467.95,313.28 468.20,313.09 468.45,312.86 468.70,312.57 468.95,312.12 469.20,311.15 469.45,308.71 469.70,303.19 469.95,293.19 470.20,279.58 470.45,267.01 470.70,261.80 470.95,266.21 471.20,278.78 471.45,292.39 471.70,302.39 471.95,307.91 472.20,310.35 472.45,311.32 472.70,311.77 472.95,312.06 473.20,312.29 473.45,312.48 473.70,312.64 473.95,312.77 474.20,312.87 474.45,312.94 474.70,312.99 474.95,313.03 475.20,313.06 475.45,313.07 475.70,313.08 475.95,313.09 476.20,313.09 476.45,313.10 476.70,313.10 476.95,313.10 477.20,313.10 477.45,313.10 477.70,313.10 477.95,313.10 478.20,313.10 478.45,313.10 478.70,313.10 478.95,313.10 479.20,313.10 479.45,313.10 479.70,313.10 479.95,313.10 480.20,313.10 480.45,313.10 480.70,313.10 480.95,313.10 481.20,313.10 481.45,313.10 481.70,313.10 481.95,313.10 482.20,313.10 482.45,313.10 482.70,313.10 482.95,313.10 483.20,313.10 483.45,313.10 483.70,313.10 483.95,313.10 484.20,313.10 484.45,313.10 484.70,313.09 484.95,313.07 485.20,313.03 485.45,312.96 485.70,312.85 485.95,312.70 486.20,312.51 486.45,312.32 486.70,312.17 486.95,312.10 487.20,312.93 487.45,313.05 487.70,313.23 487.95,313.43 488.20,313.60 488.45,313.72 488.70,313.81 488.95,313.86 489.20,313.88 489.45,313.89 489.70,313.90 489.95,313.90 490.20,313.90 490.45,313.90 490.70,313.90 490.95,313.90 491.20,313.90 491.45,313.90 491.70,313.90 491.95,313.90 492.20,313.90 492.45,313.90 492.70,313.90 492.95,313.90 493.20,313.90 493.45,313.90 493.70,313.90 493.95,313.90 494.20,313.90 494.45,313.90 494.70,313.90 494.95,313.90 495.20,313.90 495.45,313.90 495.70,313.90 495.95,313.90 496.20,313.90 496.45,313.90 496.70,313.90 496.95,313.90 497.20,313.90 497.45,313.90 497.70,313.90 497.95,313.90 498.20,313.90 498.45,313.90 498.70,313.90 498.95,313.90 499.20,313.90 499.45,313.90 499.70,313.90 499.95,313.90 500.20,313.90 500.45,313.90 500.70,313.90 500.95,313.90 501.20,313.90 501.45,313.90 501.70,313.90 501.95,313.90 502.20,313.90 502.45,313.90 502.70,313.90 502.95,313.90 503.20,313.90 503.45,313.90 503.70,313.90 503.95,313.90 504.20,313.90 504.45,313.90 504.70,313.90 504.95,313.90 505.20,313.90 505.45,313.90 505.70,313.90 505.95,313.90 506.20,313.90 506.45,313.90 506.70,313.90 506.95,313.90 507.20,313.90 507.45,313.90 507.70,313.90 507.95,313.90 508.20,313.90 508.45,313.90 508.70,313.90 508.95,313.90 509.20,313.90 509.45,313.90 509.70,313.90 509.95,313.90 510.20,313.90" stroke="#111" stroke-width="0.75" fill="none"/>
<text x="456.80" y="265.80" font-size="6.4" text-anchor="start" font-weight="bold" fill="#000">JQ1</text>
<text x="509.60" y="265.20" font-size="6.0" text-anchor="end" font-weight="bold" fill="#000">G1: 81%</text>
<text x="509.60" y="271.60" font-size="6.0" text-anchor="end" font-weight="bold" fill="#000">S: 13%</text>
<text x="509.60" y="278.00" font-size="6.0" text-anchor="end" font-weight="bold" fill="#000">G2: 2%</text>
<rect x="273.80" y="318.20" width="57.80" height="56.80" fill="#fff" stroke="#222" stroke-width="1.0"/>
<path d="M274.3,370.3h1.3M274.3,365.6h1.3M274.3,360.9h1.3M274.3,356.2h1.3M274.3,351.5h1.3M274.3,346.8h1.3M274.3,342.1h1.3M274.3,337.4h1.3M274.3,332.7h1.3M274.3,328.0h1.3M274.3,323.3h1.3M275.8,374.5v-1.2M278.2,374.5v-1.2M280.5,374.5v-1.2M282.9,374.5v-1.2M285.2,374.5v-1.2M287.6,374.5v-1.2M289.9,374.5v-1.2M292.3,374.5v-1.2M294.6,374.5v-1.2M297.0,374.5v-1.2M299.3,374.5v-1.2M301.7,374.5v-1.2M304.0,374.5v-1.2M306.4,374.5v-1.2M308.7,374.5v-1.2M311.1,374.5v-1.2M313.4,374.5v-1.2M315.8,374.5v-1.2M318.1,374.5v-1.2M320.5,374.5v-1.2M322.8,374.5v-1.2M325.2,374.5v-1.2M327.5,374.5v-1.2M329.9,374.5v-1.2" stroke="#333" stroke-width="0.55" fill="none"/>
<polyline points="274.80,374.10 275.05,374.10 275.30,374.10 275.55,374.10 275.80,374.10 276.05,374.10 276.30,374.10 276.55,374.10 276.80,374.10 277.05,374.10 277.30,374.10 277.55,374.10 277.80,374.10 278.05,374.10 278.30,374.10 278.55,374.10 278.80,374.10 279.05,374.10 279.30,374.10 279.55,374.10 279.80,374.10 280.05,374.10 280.30,374.10 280.55,374.10 280.80,374.10 281.05,374.10 281.30,374.10 281.55,374.10 281.80,374.10 282.05,374.10 282.30,374.10 282.55,374.10 282.80,374.10 283.05,374.10 283.30,374.10 283.55,374.10 283.80,374.10 284.05,374.10 284.30,374.10 284.55,374.10 284.80,374.10 285.05,374.10 285.30,374.10 285.55,374.09 285.80,374.09 286.05,374.08 286.30,374.07 286.55,374.06 286.80,374.04 287.05,374.00 287.30,373.96 287.55,373.89 287.80,373.81 288.05,373.70 288.30,373.56 288.55,373.39 288.80,373.20 289.05,372.94 289.30,372.52 289.55,371.55 289.80,369.14 290.05,363.90 290.30,354.88 290.55,343.39 290.80,333.81 291.05,330.18 291.30,336.06 291.55,347.06 291.80,357.93 292.05,365.43 292.30,369.36 292.55,371.05 292.80,371.72 293.05,372.05 293.30,372.28 293.55,372.46 293.80,372.62 294.05,372.74 294.30,372.84 294.55,372.92 294.80,372.98 295.05,373.02 295.30,373.05 295.55,373.07 295.80,373.08 296.05,373.09 296.30,373.09 296.55,373.10 296.80,373.10 297.05,373.10 297.30,373.10 297.55,373.10 297.80,373.10 298.05,373.10 298.30,373.10 298.55,373.10 298.80,373.10 299.05,373.10 299.30,373.10 299.55,373.10 299.80,373.10 300.05,373.10 300.30,373.10 300.55,373.10 300.80,373.10 301.05,373.10 301.30,373.10 301.55,373.10 301.80,373.10 302.05,373.10 302.30,373.10 302.55,373.10 302.80,373.10 303.05,373.10 303.30,373.10 303.55,373.09 303.80,373.08 304.05,373.05 304.30,372.99 304.55,372.86 304.80,372.63 305.05,372.28 305.30,371.79 305.55,371.22 305.80,370.66 306.05,370.25 306.30,371.10 306.55,371.25 306.80,371.66 307.05,372.22 307.30,372.79 307.55,373.28 307.80,373.63 308.05,373.86 308.30,373.99 308.55,374.05 308.80,374.08 309.05,374.09 309.30,374.10 309.55,374.10 309.80,374.10 310.05,374.10 310.30,374.10 310.55,374.10 310.80,374.10 311.05,374.10 311.30,374.10 311.55,374.10 311.80,374.10 312.05,374.10 312.30,374.10 312.55,374.10 312.80,374.10 313.05,374.10 313.30,374.10 313.55,374.10 313.80,374.10 314.05,374.10 314.30,374.10 314.55,374.10 314.80,374.10 315.05,374.10 315.30,374.10 315.55,374.10 315.80,374.10 316.05,374.10 316.30,374.10 316.55,374.10 316.80,374.10 317.05,374.10 317.30,374.10 317.55,374.10 317.80,374.10 318.05,374.10 318.30,374.10 318.55,374.10 318.80,374.10 319.05,374.10 319.30,374.10 319.55,374.10 319.80,374.10 320.05,374.10 320.30,374.10 320.55,374.10 320.80,374.10 321.05,374.10 321.30,374.10 321.55,374.10 321.80,374.10 322.05,374.10 322.30,374.10 322.55,374.10 322.80,374.10 323.05,374.10 323.30,374.10 323.55,374.10 323.80,374.10 324.05,374.10 324.30,374.10 324.55,374.10 324.80,374.10 325.05,374.10 325.30,374.10 325.55,374.10 325.80,374.10 326.05,374.10 326.30,374.10 326.55,374.10 326.80,374.10 327.05,374.10 327.30,374.10 327.55,374.10 327.80,374.10 328.05,374.10 328.30,374.10 328.55,374.10 328.80,374.10 329.05,374.10 329.30,374.10 329.55,374.10 329.80,374.10 330.05,374.10" stroke="#111" stroke-width="0.75" fill="none"/>
<text x="276.40" y="325.50" font-size="6.4" text-anchor="start" font-weight="bold" fill="#000">Veh</text>
<text x="329.40" y="324.90" font-size="6.0" text-anchor="end" font-weight="bold" fill="#000">G1: 63%</text>
<text x="329.40" y="331.30" font-size="6.0" text-anchor="end" font-weight="bold" fill="#000">S: 20%</text>
<text x="329.40" y="337.70" font-size="6.0" text-anchor="end" font-weight="bold" fill="#000">G2: 9%</text>
<rect x="334.10" y="318.20" width="57.80" height="56.80" fill="#fff" stroke="#222" stroke-width="1.0"/>
<path d="M334.6,370.3h1.3M334.6,365.6h1.3M334.6,360.9h1.3M334.6,356.2h1.3M334.6,351.5h1.3M334.6,346.8h1.3M334.6,342.1h1.3M334.6,337.4h1.3M334.6,332.7h1.3M334.6,328.0h1.3M334.6,323.3h1.3M336.1,374.5v-1.2M338.5,374.5v-1.2M340.8,374.5v-1.2M343.2,374.5v-1.2M345.5,374.5v-1.2M347.9,374.5v-1.2M350.2,374.5v-1.2M352.6,374.5v-1.2M354.9,374.5v-1.2M357.3,374.5v-1.2M359.6,374.5v-1.2M362.0,374.5v-1.2M364.3,374.5v-1.2M366.7,374.5v-1.2M369.0,374.5v-1.2M371.4,374.5v-1.2M373.7,374.5v-1.2M376.1,374.5v-1.2M378.4,374.5v-1.2M380.8,374.5v-1.2M383.1,374.5v-1.2M385.5,374.5v-1.2M387.8,374.5v-1.2M390.2,374.5v-1.2" stroke="#333" stroke-width="0.55" fill="none"/>
<polyline points="335.10,374.10 335.35,374.10 335.60,374.10 335.85,374.10 336.10,374.10 336.35,374.10 336.60,374.10 336.85,374.10 337.10,374.10 337.35,374.10 337.60,374.10 337.85,374.10 338.10,374.10 338.35,374.10 338.60,374.10 338.85,374.10 339.10,374.10 339.35,374.10 339.60,374.10 339.85,374.10 340.10,374.10 340.35,374.10 340.60,374.10 340.85,374.10 341.10,374.10 341.35,374.10 341.60,374.10 341.85,374.10 342.10,374.10 342.35,374.10 342.60,374.10 342.85,374.10 343.10,374.10 343.35,374.10 343.60,374.10 343.85,374.10 344.10,374.10 344.35,374.10 344.60,374.10 344.85,374.10 345.10,374.10 345.35,374.10 345.60,374.10 345.85,374.09 346.10,374.09 346.35,374.08 346.60,374.07 346.85,374.06 347.10,374.03 347.35,374.00 347.60,373.94 347.85,373.87 348.10,373.78 348.35,373.66 348.60,373.52 348.85,373.34 349.10,373.12 349.35,372.85 349.60,372.39 349.85,371.35 350.10,368.75 350.35,363.10 350.60,353.36 350.85,340.97 351.10,330.63 351.35,327.20 351.60,333.53 351.85,345.41 352.10,357.13 352.35,365.22 352.60,369.47 352.85,371.29 353.10,372.01 353.35,372.37 353.60,372.61 353.85,372.81 354.10,372.98 354.35,373.11 354.60,373.22 354.85,373.31 355.10,373.37 355.35,373.41 355.60,373.44 355.85,373.46 356.10,373.48 356.35,373.49 356.60,373.49 356.85,373.50 357.10,373.50 357.35,373.50 357.60,373.50 357.85,373.50 358.10,373.50 358.35,373.50 358.60,373.50 358.85,373.50 359.10,373.50 359.35,373.50 359.60,373.50 359.85,373.50 360.10,373.50 360.35,373.50 360.60,373.50 360.85,373.50 361.10,373.50 361.35,373.50 361.60,373.50 361.85,373.50 362.10,373.50 362.35,373.50 362.60,373.50 362.85,373.50 363.10,373.50 363.35,373.50 363.60,373.50 363.85,373.50 364.10,373.50 364.35,373.50 364.60,373.50 364.85,373.49 365.10,373.47 365.35,373.43 365.60,373.36 365.85,373.23 366.10,373.06 366.35,372.84 366.60,372.61 366.85,372.42 367.10,372.31 367.35,372.92 367.60,373.05 367.85,373.25 368.10,373.49 368.35,373.70 368.60,373.86 368.85,373.97 369.10,374.04 369.35,374.07 369.60,374.09 369.85,374.10 370.10,374.10 370.35,374.10 370.60,374.10 370.85,374.10 371.10,374.10 371.35,374.10 371.60,374.10 371.85,374.10 372.10,374.10 372.35,374.10 372.60,374.10 372.85,374.10 373.10,374.10 373.35,374.10 373.60,374.10 373.85,374.10 374.10,374.10 374.35,374.10 374.60,374.10 374.85,374.10 375.10,374.10 375.35,374.10 375.60,374.10 375.85,374.10 376.10,374.10 376.35,374.10 376.60,374.10 376.85,374.10 377.10,374.10 377.35,374.10 377.60,374.10 377.85,374.10 378.10,374.10 378.35,374.10 378.60,374.10 378.85,374.10 379.10,374.10 379.35,374.10 379.60,374.10 379.85,374.10 380.10,374.10 380.35,374.10 380.60,374.10 380.85,374.10 381.10,374.10 381.35,374.10 381.60,374.10 381.85,374.10 382.10,374.10 382.35,374.10 382.60,374.10 382.85,374.10 383.10,374.10 383.35,374.10 383.60,374.10 383.85,374.10 384.10,374.10 384.35,374.10 384.60,374.10 384.85,374.10 385.10,374.10 385.35,374.10 385.60,374.10 385.85,374.10 386.10,374.10 386.35,374.10 386.60,374.10 386.85,374.10 387.10,374.10 387.35,374.10 387.60,374.10 387.85,374.10 388.10,374.10 388.35,374.10 388.60,374.10 388.85,374.10 389.10,374.10 389.35,374.10 389.60,374.10 389.85,374.10 390.10,374.10 390.35,374.10" stroke="#111" stroke-width="0.75" fill="none"/>
<text x="336.70" y="325.50" font-size="6.4" text-anchor="start" font-weight="bold" fill="#000">JQ1</text>
<text x="389.70" y="324.90" font-size="6.0" text-anchor="end" font-weight="bold" fill="#000">G1: <tspan fill="#d9403a">79%</tspan></text>
<text x="389.70" y="331.30" font-size="6.0" text-anchor="end" font-weight="bold" fill="#000">S: 7%</text>
<text x="389.70" y="337.70" font-size="6.0" text-anchor="end" font-weight="bold" fill="#000">G2: 4%</text>
<rect x="394.20" y="318.20" width="57.70" height="56.80" fill="#fff" stroke="#222" stroke-width="1.0"/>
<path d="M394.7,370.3h1.3M394.7,365.6h1.3M394.7,360.9h1.3M394.7,356.2h1.3M394.7,351.5h1.3M394.7,346.8h1.3M394.7,342.1h1.3M394.7,337.4h1.3M394.7,332.7h1.3M394.7,328.0h1.3M394.7,323.3h1.3M396.2,374.5v-1.2M398.6,374.5v-1.2M400.9,374.5v-1.2M403.3,374.5v-1.2M405.6,374.5v-1.2M408.0,374.5v-1.2M410.3,374.5v-1.2M412.7,374.5v-1.2M415.0,374.5v-1.2M417.4,374.5v-1.2M419.7,374.5v-1.2M422.1,374.5v-1.2M424.4,374.5v-1.2M426.8,374.5v-1.2M429.1,374.5v-1.2M431.5,374.5v-1.2M433.8,374.5v-1.2M436.2,374.5v-1.2M438.5,374.5v-1.2M440.9,374.5v-1.2M443.2,374.5v-1.2M445.6,374.5v-1.2M447.9,374.5v-1.2M450.3,374.5v-1.2" stroke="#333" stroke-width="0.55" fill="none"/>
<polyline points="395.20,374.10 395.45,374.10 395.70,374.10 395.95,374.10 396.20,374.10 396.45,374.10 396.70,374.10 396.95,374.10 397.20,374.10 397.45,374.10 397.70,374.10 397.95,374.10 398.20,374.10 398.45,374.10 398.70,374.10 398.95,374.10 399.20,374.10 399.45,374.10 399.70,374.10 399.95,374.10 400.20,374.10 400.45,374.10 400.70,374.10 400.95,374.10 401.20,374.10 401.45,374.10 401.70,374.10 401.95,374.10 402.20,374.10 402.45,374.10 402.70,374.10 402.95,374.10 403.20,374.10 403.45,374.10 403.70,374.10 403.95,374.10 404.20,374.09 404.45,374.09 404.70,374.08 404.95,374.07 405.20,374.04 405.45,374.02 405.70,373.97 405.95,373.91 406.20,373.83 406.45,373.73 406.70,373.60 406.95,373.44 407.20,373.25 407.45,373.02 407.70,372.68 407.95,371.98 408.20,370.24 408.45,366.18 408.70,358.44 408.95,347.21 409.20,335.85 409.45,329.79 409.70,330.50 409.95,340.40 410.20,352.26 410.45,361.57 410.70,366.98 410.95,369.47 411.20,370.47 411.45,370.90 411.70,371.17 411.95,371.37 412.20,371.54 412.45,371.68 412.70,371.80 412.95,371.88 413.20,371.95 413.45,372.00 413.70,372.03 413.95,372.06 414.20,372.07 414.45,372.08 414.70,372.09 414.95,372.09 415.20,372.10 415.45,372.10 415.70,372.10 415.95,372.10 416.20,372.10 416.45,372.10 416.70,372.10 416.95,372.10 417.20,372.10 417.45,372.10 417.70,372.10 417.95,372.10 418.20,372.10 418.45,372.10 418.70,372.10 418.95,372.10 419.20,372.10 419.45,372.10 419.70,372.10 419.95,372.10 420.20,372.10 420.45,372.10 420.70,372.10 420.95,372.10 421.20,372.09 421.45,372.08 421.70,372.05 421.95,371.98 422.20,371.83 422.45,371.55 422.70,371.11 422.95,370.49 423.20,369.74 423.45,368.98 423.70,368.39 423.95,368.11 424.20,370.23 424.45,370.72 424.70,371.43 424.95,372.20 425.20,372.88 425.45,373.40 425.70,373.73 425.95,373.93 426.20,374.03 426.45,374.07 426.70,374.09 426.95,374.10 427.20,374.10 427.45,374.10 427.70,374.10 427.95,374.10 428.20,374.10 428.45,374.10 428.70,374.10 428.95,374.10 429.20,374.10 429.45,374.10 429.70,374.10 429.95,374.10 430.20,374.10 430.45,374.10 430.70,374.10 430.95,374.10 431.20,374.10 431.45,374.10 431.70,374.10 431.95,374.10 432.20,374.10 432.45,374.10 432.70,374.10 432.95,374.10 433.20,374.10 433.45,374.10 433.70,374.10 433.95,374.10 434.20,374.10 434.45,374.10 434.70,374.10 434.95,374.10 435.20,374.10 435.45,374.10 435.70,374.10 435.95,374.10 436.20,374.10 436.45,374.10 436.70,374.10 436.95,374.10 437.20,374.10 437.45,374.10 437.70,374.10 437.95,374.10 438.20,374.10 438.45,374.10 438.70,374.10 438.95,374.10 439.20,374.10 439.45,374.10 439.70,374.10 439.95,374.10 440.20,374.10 440.45,374.10 440.70,374.10 440.95,374.10 441.20,374.10 441.45,374.10 441.70,374.10 441.95,374.10 442.20,374.10 442.45,374.10 442.70,374.10 442.95,374.10 443.20,374.10 443.45,374.10 443.70,374.10 443.95,374.10 444.20,374.10 444.45,374.10 444.70,374.10 444.95,374.10 445.20,374.10 445.45,374.10 445.70,374.10 445.95,374.10 446.20,374.10 446.45,374.10 446.70,374.10 446.95,374.10 447.20,374.10 447.45,374.10 447.70,374.10 447.95,374.10 448.20,374.10 448.45,374.10 448.70,374.10 448.95,374.10 449.20,374.10 449.45,374.10 449.70,374.10 449.95,374.10 450.20,374.10" stroke="#111" stroke-width="0.75" fill="none"/>
<text x="396.80" y="325.50" font-size="6.4" text-anchor="start" font-weight="bold" fill="#000">Veh</text>
<text x="449.70" y="324.90" font-size="6.0" text-anchor="end" font-weight="bold" fill="#000">G1: 60%</text>
<text x="449.70" y="331.30" font-size="6.0" text-anchor="end" font-weight="bold" fill="#000">S: 30%</text>
<text x="449.70" y="337.70" font-size="6.0" text-anchor="end" font-weight="bold" fill="#000">G2: 7%</text>
<rect x="454.20" y="318.20" width="57.60" height="56.80" fill="#fff" stroke="#222" stroke-width="1.0"/>
<path d="M454.7,370.3h1.3M454.7,365.6h1.3M454.7,360.9h1.3M454.7,356.2h1.3M454.7,351.5h1.3M454.7,346.8h1.3M454.7,342.1h1.3M454.7,337.4h1.3M454.7,332.7h1.3M454.7,328.0h1.3M454.7,323.3h1.3M456.2,374.5v-1.2M458.6,374.5v-1.2M460.9,374.5v-1.2M463.3,374.5v-1.2M465.6,374.5v-1.2M468.0,374.5v-1.2M470.3,374.5v-1.2M472.7,374.5v-1.2M475.0,374.5v-1.2M477.4,374.5v-1.2M479.7,374.5v-1.2M482.1,374.5v-1.2M484.4,374.5v-1.2M486.8,374.5v-1.2M489.1,374.5v-1.2M491.5,374.5v-1.2M493.8,374.5v-1.2M496.2,374.5v-1.2M498.5,374.5v-1.2M500.9,374.5v-1.2M503.2,374.5v-1.2M505.6,374.5v-1.2M507.9,374.5v-1.2M510.3,374.5v-1.2" stroke="#333" stroke-width="0.55" fill="none"/>
<polyline points="455.20,374.10 455.45,374.10 455.70,374.10 455.95,374.10 456.20,374.10 456.45,374.10 456.70,374.10 456.95,374.10 457.20,374.10 457.45,374.10 457.70,374.10 457.95,374.10 458.20,374.10 458.45,374.10 458.70,374.10 458.95,374.10 459.20,374.10 459.45,374.10 459.70,374.10 459.95,374.10 460.20,374.10 460.45,374.10 460.70,374.10 460.95,374.10 461.20,374.10 461.45,374.10 461.70,374.10 461.95,374.10 462.20,374.10 462.45,374.10 462.70,374.10 462.95,374.10 463.20,374.10 463.45,374.10 463.70,374.10 463.95,374.10 464.20,374.10 464.45,374.10 464.70,374.10 464.95,374.10 465.20,374.10 465.45,374.09 465.70,374.09 465.95,374.08 466.20,374.07 466.45,374.06 466.70,374.04 466.95,374.00 467.20,373.95 467.45,373.89 467.70,373.80 467.95,373.69 468.20,373.55 468.45,373.38 468.70,373.18 468.95,372.92 469.20,372.49 469.45,371.51 469.70,369.06 469.95,363.74 470.20,354.57 470.45,342.89 470.70,333.16 470.95,329.18 471.20,335.16 471.45,346.34 471.70,357.38 471.95,365.01 472.20,369.00 472.45,370.71 472.70,371.40 472.95,371.74 473.20,371.97 473.45,372.15 473.70,372.31 473.95,372.44 474.20,372.54 474.45,372.62 474.70,372.67 474.95,372.72 475.20,372.75 475.45,372.77 475.70,372.78 475.95,372.79 476.20,372.79 476.45,372.80 476.70,372.80 476.95,372.80 477.20,372.80 477.45,372.80 477.70,372.80 477.95,372.80 478.20,372.80 478.45,372.80 478.70,372.80 478.95,372.80 479.20,372.80 479.45,372.80 479.70,372.80 479.95,372.80 480.20,372.80 480.45,372.80 480.70,372.80 480.95,372.80 481.20,372.80 481.45,372.80 481.70,372.80 481.95,372.80 482.20,372.80 482.45,372.80 482.70,372.80 482.95,372.80 483.20,372.80 483.45,372.79 483.70,372.78 483.95,372.75 484.20,372.69 484.45,372.56 484.70,372.33 484.95,371.98 485.20,371.49 485.45,370.92 485.70,370.36 485.95,369.95 486.20,371.10 486.45,371.25 486.70,371.66 486.95,372.22 487.20,372.79 487.45,373.28 487.70,373.63 487.95,373.86 488.20,373.99 488.45,374.05 488.70,374.08 488.95,374.09 489.20,374.10 489.45,374.10 489.70,374.10 489.95,374.10 490.20,374.10 490.45,374.10 490.70,374.10 490.95,374.10 491.20,374.10 491.45,374.10 491.70,374.10 491.95,374.10 492.20,374.10 492.45,374.10 492.70,374.10 492.95,374.10 493.20,374.10 493.45,374.10 493.70,374.10 493.95,374.10 494.20,374.10 494.45,374.10 494.70,374.10 494.95,374.10 495.20,374.10 495.45,374.10 495.70,374.10 495.95,374.10 496.20,374.10 496.45,374.10 496.70,374.10 496.95,374.10 497.20,374.10 497.45,374.10 497.70,374.10 497.95,374.10 498.20,374.10 498.45,374.10 498.70,374.10 498.95,374.10 499.20,374.10 499.45,374.10 499.70,374.10 499.95,374.10 500.20,374.10 500.45,374.10 500.70,374.10 500.95,374.10 501.20,374.10 501.45,374.10 501.70,374.10 501.95,374.10 502.20,374.10 502.45,374.10 502.70,374.10 502.95,374.10 503.20,374.10 503.45,374.10 503.70,374.10 503.95,374.10 504.20,374.10 504.45,374.10 504.70,374.10 504.95,374.10 505.20,374.10 505.45,374.10 505.70,374.10 505.95,374.10 506.20,374.10 506.45,374.10 506.70,374.10 506.95,374.10 507.20,374.10 507.45,374.10 507.70,374.10 507.95,374.10 508.20,374.10 508.45,374.10 508.70,374.10 508.95,374.10 509.20,374.10 509.45,374.10 509.70,374.10 509.95,374.10 510.20,374.10" stroke="#111" stroke-width="0.75" fill="none"/>
<text x="456.80" y="325.50" font-size="6.4" text-anchor="start" font-weight="bold" fill="#000">JQ1</text>
<text x="509.60" y="324.90" font-size="6.0" text-anchor="end" font-weight="bold" fill="#000">G1: <tspan fill="#d9403a">65%</tspan></text>
<text x="509.60" y="331.30" font-size="6.0" text-anchor="end" font-weight="bold" fill="#000">S: 22%</text>
<text x="509.60" y="337.70" font-size="6.0" text-anchor="end" font-weight="bold" fill="#000">G2: 10%</text>
<rect x="273.80" y="378.20" width="57.80" height="57.30" fill="#fff" stroke="#222" stroke-width="1.0"/>
<path d="M274.3,430.8h1.3M274.3,426.1h1.3M274.3,421.4h1.3M274.3,416.7h1.3M274.3,412.0h1.3M274.3,407.3h1.3M274.3,402.6h1.3M274.3,397.9h1.3M274.3,393.2h1.3M274.3,388.5h1.3M274.3,383.8h1.3M275.8,435.0v-1.2M278.2,435.0v-1.2M280.5,435.0v-1.2M282.9,435.0v-1.2M285.2,435.0v-1.2M287.6,435.0v-1.2M289.9,435.0v-1.2M292.3,435.0v-1.2M294.6,435.0v-1.2M297.0,435.0v-1.2M299.3,435.0v-1.2M301.7,435.0v-1.2M304.0,435.0v-1.2M306.4,435.0v-1.2M308.7,435.0v-1.2M311.1,435.0v-1.2M313.4,435.0v-1.2M315.8,435.0v-1.2M318.1,435.0v-1.2M320.5,435.0v-1.2M322.8,435.0v-1.2M325.2,435.0v-1.2M327.5,435.0v-1.2M329.9,435.0v-1.2" stroke="#333" stroke-width="0.55" fill="none"/>
<polyline points="274.80,434.60 275.05,434.60 275.30,434.60 275.55,434.60 275.80,434.60 276.05,434.60 276.30,434.60 276.55,434.60 276.80,434.60 277.05,434.60 277.30,434.60 277.55,434.60 277.80,434.60 278.05,434.60 278.30,434.60 278.55,434.60 278.80,434.60 279.05,434.60 279.30,434.60 279.55,434.60 279.80,434.60 280.05,434.60 280.30,434.60 280.55,434.60 280.80,434.60 281.05,434.60 281.30,434.60 281.55,434.60 281.80,434.60 282.05,434.60 282.30,434.60 282.55,434.60 282.80,434.60 283.05,434.59 283.30,434.59 283.55,434.58 283.80,434.56 284.05,434.54 284.30,434.51 284.55,434.47 284.80,434.40 285.05,434.32 285.30,434.22 285.55,434.09 285.80,433.92 286.05,433.73 286.30,433.49 286.55,433.12 286.80,432.31 287.05,430.28 287.30,425.68 287.55,417.35 287.80,406.01 288.05,395.54 288.30,391.20 288.55,394.34 288.80,404.81 289.05,416.15 289.30,424.48 289.55,429.08 289.80,431.11 290.05,431.92 290.30,432.29 290.55,432.53 290.80,432.72 291.05,432.89 291.30,433.02 291.55,433.12 291.80,433.20 292.05,433.27 292.30,433.31 292.55,433.34 292.80,433.36 293.05,433.38 293.30,433.39 293.55,433.39 293.80,433.40 294.05,433.40 294.30,433.40 294.55,433.40 294.80,433.40 295.05,433.40 295.30,433.40 295.55,433.40 295.80,433.40 296.05,433.40 296.30,433.40 296.55,433.40 296.80,433.40 297.05,433.40 297.30,433.40 297.55,433.40 297.80,433.40 298.05,433.40 298.30,433.40 298.55,433.40 298.80,433.40 299.05,433.40 299.30,433.40 299.55,433.40 299.80,433.39 300.05,433.36 300.30,433.30 300.55,433.16 300.80,432.92 301.05,432.51 301.30,431.93 301.55,431.20 301.80,430.43 302.05,429.79 302.30,429.43 302.55,430.67 302.80,431.10 303.05,431.78 303.30,432.55 303.55,433.26 303.80,433.81 304.05,434.18 304.30,434.40 304.55,434.51 304.80,434.57 305.05,434.59 305.30,434.60 305.55,434.60 305.80,434.60 306.05,434.60 306.30,434.60 306.55,434.60 306.80,434.60 307.05,434.60 307.30,434.60 307.55,434.60 307.80,434.60 308.05,434.60 308.30,434.60 308.55,434.60 308.80,434.60 309.05,434.60 309.30,434.60 309.55,434.60 309.80,434.60 310.05,434.60 310.30,434.60 310.55,434.60 310.80,434.60 311.05,434.60 311.30,434.60 311.55,434.60 311.80,434.60 312.05,434.60 312.30,434.60 312.55,434.60 312.80,434.60 313.05,434.60 313.30,434.60 313.55,434.60 313.80,434.60 314.05,434.60 314.30,434.60 314.55,434.60 314.80,434.60 315.05,434.60 315.30,434.60 315.55,434.60 315.80,434.60 316.05,434.60 316.30,434.60 316.55,434.60 316.80,434.60 317.05,434.60 317.30,434.60 317.55,434.60 317.80,434.60 318.05,434.60 318.30,434.60 318.55,434.60 318.80,434.60 319.05,434.60 319.30,434.60 319.55,434.60 319.80,434.60 320.05,434.60 320.30,434.60 320.55,434.60 320.80,434.60 321.05,434.60 321.30,434.60 321.55,434.60 321.80,434.60 322.05,434.60 322.30,434.60 322.55,434.60 322.80,434.60 323.05,434.60 323.30,434.60 323.55,434.60 323.80,434.60 324.05,434.60 324.30,434.60 324.55,434.60 324.80,434.60 325.05,434.60 325.30,434.60 325.55,434.60 325.80,434.60 326.05,434.60 326.30,434.60 326.55,434.60 326.80,434.60 327.05,434.60 327.30,434.60 327.55,434.60 327.80,434.60 328.05,434.60 328.30,434.60 328.55,434.60 328.80,434.60 329.05,434.60 329.30,434.60 329.55,434.60 329.80,434.60 330.05,434.60" stroke="#111" stroke-width="0.75" fill="none"/>
<text x="276.40" y="385.50" font-size="6.4" text-anchor="start" font-weight="bold" fill="#000">Veh</text>
<text x="329.40" y="384.90" font-size="6.0" text-anchor="end" font-weight="bold" fill="#000">G1: 59%</text>
<text x="329.40" y="391.30" font-size="6.0" text-anchor="end" font-weight="bold" fill="#000">S: 23%</text>
<text x="329.40" y="397.70" font-size="6.0" text-anchor="end" font-weight="bold" fill="#000">G2: 9%</text>
<rect x="334.10" y="378.20" width="57.80" height="57.30" fill="#fff" stroke="#222" stroke-width="1.0"/>
<path d="M334.6,430.8h1.3M334.6,426.1h1.3M334.6,421.4h1.3M334.6,416.7h1.3M334.6,412.0h1.3M334.6,407.3h1.3M334.6,402.6h1.3M334.6,397.9h1.3M334.6,393.2h1.3M334.6,388.5h1.3M334.6,383.8h1.3M336.1,435.0v-1.2M338.5,435.0v-1.2M340.8,435.0v-1.2M343.2,435.0v-1.2M345.5,435.0v-1.2M347.9,435.0v-1.2M350.2,435.0v-1.2M352.6,435.0v-1.2M354.9,435.0v-1.2M357.3,435.0v-1.2M359.6,435.0v-1.2M362.0,435.0v-1.2M364.3,435.0v-1.2M366.7,435.0v-1.2M369.0,435.0v-1.2M371.4,435.0v-1.2M373.7,435.0v-1.2M376.1,435.0v-1.2M378.4,435.0v-1.2M380.8,435.0v-1.2M383.1,435.0v-1.2M385.5,435.0v-1.2M387.8,435.0v-1.2M390.2,435.0v-1.2" stroke="#333" stroke-width="0.55" fill="none"/>
<polyline points="335.10,434.60 335.35,434.60 335.60,434.60 335.85,434.60 336.10,434.60 336.35,434.60 336.60,434.60 336.85,434.60 337.10,434.60 337.35,434.60 337.60,434.60 337.85,434.60 338.10,434.60 338.35,434.60 338.60,434.60 338.85,434.60 339.10,434.60 339.35,434.60 339.60,434.60 339.85,434.60 340.10,434.60 340.35,434.60 340.60,434.60 340.85,434.60 341.10,434.60 341.35,434.60 341.60,434.60 341.85,434.60 342.10,434.60 342.35,434.60 342.60,434.60 342.85,434.60 343.10,434.60 343.35,434.60 343.60,434.60 343.85,434.60 344.10,434.60 344.35,434.60 344.60,434.60 344.85,434.60 345.10,434.60 345.35,434.60 345.60,434.60 345.85,434.60 346.10,434.60 346.35,434.60 346.60,434.59 346.85,434.59 347.10,434.58 347.35,434.57 347.60,434.55 347.85,434.53 348.10,434.50 348.35,434.45 348.60,434.39 348.85,434.31 349.10,434.21 349.35,434.09 349.60,433.94 349.85,433.76 350.10,433.45 350.35,432.75 350.60,431.00 350.85,427.19 351.10,420.64 351.35,412.30 351.60,405.34 351.85,402.63 352.10,406.90 352.35,414.89 352.60,422.78 352.85,428.23 353.10,431.09 353.35,432.31 353.60,432.80 353.85,433.04 354.10,433.20 354.35,433.34 354.60,433.45 354.85,433.54 355.10,433.61 355.35,433.67 355.60,433.71 355.85,433.74 356.10,433.76 356.35,433.78 356.60,433.78 356.85,433.79 357.10,433.79 357.35,433.80 357.60,433.80 357.85,433.80 358.10,433.80 358.35,433.80 358.60,433.80 358.85,433.80 359.10,433.80 359.35,433.80 359.60,433.80 359.85,433.80 360.10,433.80 360.35,433.80 360.60,433.80 360.85,433.80 361.10,433.80 361.35,433.80 361.60,433.80 361.85,433.80 362.10,433.80 362.35,433.80 362.60,433.80 362.85,433.80 363.10,433.80 363.35,433.80 363.60,433.80 363.85,433.80 364.10,433.80 364.35,433.80 364.60,433.80 364.85,433.80 365.10,433.80 365.35,433.80 365.60,433.79 365.85,433.78 366.10,433.75 366.35,433.69 366.60,433.60 366.85,433.46 367.10,433.29 367.35,433.09 367.60,432.92 367.85,432.82 368.10,433.61 368.35,433.70 368.60,433.86 368.85,434.05 369.10,434.23 369.35,434.38 369.60,434.48 369.85,434.54 370.10,434.57 370.35,434.59 370.60,434.60 370.85,434.60 371.10,434.60 371.35,434.60 371.60,434.60 371.85,434.60 372.10,434.60 372.35,434.60 372.60,434.60 372.85,434.60 373.10,434.60 373.35,434.60 373.60,434.60 373.85,434.60 374.10,434.60 374.35,434.60 374.60,434.60 374.85,434.60 375.10,434.60 375.35,434.60 375.60,434.60 375.85,434.60 376.10,434.60 376.35,434.60 376.60,434.60 376.85,434.60 377.10,434.60 377.35,434.60 377.60,434.60 377.85,434.60 378.10,434.60 378.35,434.60 378.60,434.60 378.85,434.60 379.10,434.60 379.35,434.60 379.60,434.60 379.85,434.60 380.10,434.60 380.35,434.60 380.60,434.60 380.85,434.60 381.10,434.60 381.35,434.60 381.60,434.60 381.85,434.60 382.10,434.60 382.35,434.60 382.60,434.60 382.85,434.60 383.10,434.60 383.35,434.60 383.60,434.60 383.85,434.60 384.10,434.60 384.35,434.60 384.60,434.60 384.85,434.60 385.10,434.60 385.35,434.60 385.60,434.60 385.85,434.60 386.10,434.60 386.35,434.60 386.60,434.60 386.85,434.60 387.10,434.60 387.35,434.60 387.60,434.60 387.85,434.60 388.10,434.60 388.35,434.60 388.60,434.60 388.85,434.60 389.10,434.60 389.35,434.60 389.60,434.60 389.85,434.60 390.10,434.60 390.35,434.60" stroke="#111" stroke-width="0.75" fill="none"/>
<text x="336.70" y="385.50" font-size="6.4" text-anchor="start" font-weight="bold" fill="#000">JQ1</text>
<text x="389.70" y="384.90" font-size="6.0" text-anchor="end" font-weight="bold" fill="#000">G1: <tspan fill="#d9403a">77%</tspan></text>
<text x="389.70" y="391.30" font-size="6.0" text-anchor="end" font-weight="bold" fill="#000">S: 14%</text>
<text x="389.70" y="397.70" font-size="6.0" text-anchor="end" font-weight="bold" fill="#000">G2: 2%</text>
<rect x="394.20" y="378.20" width="57.70" height="57.30" fill="#fff" stroke="#222" stroke-width="1.0"/>
<path d="M394.7,430.8h1.3M394.7,426.1h1.3M394.7,421.4h1.3M394.7,416.7h1.3M394.7,412.0h1.3M394.7,407.3h1.3M394.7,402.6h1.3M394.7,397.9h1.3M394.7,393.2h1.3M394.7,388.5h1.3M394.7,383.8h1.3M396.2,435.0v-1.2M398.6,435.0v-1.2M400.9,435.0v-1.2M403.3,435.0v-1.2M405.6,435.0v-1.2M408.0,435.0v-1.2M410.3,435.0v-1.2M412.7,435.0v-1.2M415.0,435.0v-1.2M417.4,435.0v-1.2M419.7,435.0v-1.2M422.1,435.0v-1.2M424.4,435.0v-1.2M426.8,435.0v-1.2M429.1,435.0v-1.2M431.5,435.0v-1.2M433.8,435.0v-1.2M436.2,435.0v-1.2M438.5,435.0v-1.2M440.9,435.0v-1.2M443.2,435.0v-1.2M445.6,435.0v-1.2M447.9,435.0v-1.2M450.3,435.0v-1.2" stroke="#333" stroke-width="0.55" fill="none"/>
<polyline points="395.20,434.60 395.45,434.60 395.70,434.60 395.95,434.60 396.20,434.60 396.45,434.60 396.70,434.60 396.95,434.60 397.20,434.60 397.45,434.60 397.70,434.60 397.95,434.60 398.20,434.60 398.45,434.60 398.70,434.60 398.95,434.60 399.20,434.60 399.45,434.60 399.70,434.60 399.95,434.60 400.20,434.60 400.45,434.60 400.70,434.60 400.95,434.60 401.20,434.60 401.45,434.60 401.70,434.60 401.95,434.60 402.20,434.60 402.45,434.59 402.70,434.59 402.95,434.58 403.20,434.56 403.45,434.54 403.70,434.51 403.95,434.47 404.20,434.41 404.45,434.32 404.70,434.21 404.95,434.07 405.20,433.90 405.45,433.69 405.70,433.44 405.95,433.09 406.20,432.43 406.45,430.80 406.70,426.89 406.95,419.07 407.20,407.05 407.45,393.82 407.70,385.34 407.95,384.37 408.20,394.29 408.45,407.70 408.70,419.00 408.95,425.94 409.20,429.26 409.45,430.61 409.70,431.18 409.95,431.50 410.20,431.74 410.45,431.94 410.70,432.10 410.95,432.23 411.20,432.34 411.45,432.42 411.70,432.48 411.95,432.52 412.20,432.55 412.45,432.57 412.70,432.58 412.95,432.59 413.20,432.59 413.45,432.60 413.70,432.60 413.95,432.60 414.20,432.60 414.45,432.60 414.70,432.60 414.95,432.60 415.20,432.60 415.45,432.60 415.70,432.60 415.95,432.60 416.20,432.60 416.45,432.60 416.70,432.60 416.95,432.60 417.20,432.60 417.45,432.60 417.70,432.60 417.95,432.60 418.20,432.60 418.45,432.60 418.70,432.60 418.95,432.60 419.20,432.59 419.45,432.57 419.70,432.52 419.95,432.42 420.20,432.24 420.45,431.93 420.70,431.50 420.95,430.95 421.20,430.37 421.45,429.89 421.70,429.62 421.95,431.66 422.20,431.97 422.45,432.48 422.70,433.06 422.95,433.59 423.20,434.01 423.45,434.28 423.70,434.45 423.95,434.53 424.20,434.57 424.45,434.59 424.70,434.60 424.95,434.60 425.20,434.60 425.45,434.60 425.70,434.60 425.95,434.60 426.20,434.60 426.45,434.60 426.70,434.60 426.95,434.60 427.20,434.60 427.45,434.60 427.70,434.60 427.95,434.60 428.20,434.60 428.45,434.60 428.70,434.60 428.95,434.60 429.20,434.60 429.45,434.60 429.70,434.60 429.95,434.60 430.20,434.60 430.45,434.60 430.70,434.60 430.95,434.60 431.20,434.60 431.45,434.60 431.70,434.60 431.95,434.60 432.20,434.60 432.45,434.60 432.70,434.60 432.95,434.60 433.20,434.60 433.45,434.60 433.70,434.60 433.95,434.60 434.20,434.60 434.45,434.60 434.70,434.60 434.95,434.60 435.20,434.60 435.45,434.60 435.70,434.60 435.95,434.60 436.20,434.60 436.45,434.60 436.70,434.60 436.95,434.60 437.20,434.60 437.45,434.60 437.70,434.60 437.95,434.60 438.20,434.60 438.45,434.60 438.70,434.60 438.95,434.60 439.20,434.60 439.45,434.60 439.70,434.60 439.95,434.60 440.20,434.60 440.45,434.60 440.70,434.60 440.95,434.60 441.20,434.60 441.45,434.60 441.70,434.60 441.95,434.60 442.20,434.60 442.45,434.60 442.70,434.60 442.95,434.60 443.20,434.60 443.45,434.60 443.70,434.60 443.95,434.60 444.20,434.60 444.45,434.60 444.70,434.60 444.95,434.60 445.20,434.60 445.45,434.60 445.70,434.60 445.95,434.60 446.20,434.60 446.45,434.60 446.70,434.60 446.95,434.60 447.20,434.60 447.45,434.60 447.70,434.60 447.95,434.60 448.20,434.60 448.45,434.60 448.70,434.60 448.95,434.60 449.20,434.60 449.45,434.60 449.70,434.60 449.95,434.60 450.20,434.60" stroke="#111" stroke-width="0.75" fill="none"/>
<text x="396.80" y="385.50" font-size="6.4" text-anchor="start" font-weight="bold" fill="#000">Veh</text>
<text x="449.70" y="384.90" font-size="6.0" text-anchor="end" font-weight="bold" fill="#000">G1: 58%</text>
<text x="449.70" y="391.30" font-size="6.0" text-anchor="end" font-weight="bold" fill="#000">S: 34%</text>
<text x="449.70" y="397.70" font-size="6.0" text-anchor="end" font-weight="bold" fill="#000">G2: 4%</text>
<rect x="454.20" y="378.20" width="57.60" height="57.30" fill="#fff" stroke="#222" stroke-width="1.0"/>
<path d="M454.7,430.8h1.3M454.7,426.1h1.3M454.7,421.4h1.3M454.7,416.7h1.3M454.7,412.0h1.3M454.7,407.3h1.3M454.7,402.6h1.3M454.7,397.9h1.3M454.7,393.2h1.3M454.7,388.5h1.3M454.7,383.8h1.3M456.2,435.0v-1.2M458.6,435.0v-1.2M460.9,435.0v-1.2M463.3,435.0v-1.2M465.6,435.0v-1.2M468.0,435.0v-1.2M470.3,435.0v-1.2M472.7,435.0v-1.2M475.0,435.0v-1.2M477.4,435.0v-1.2M479.7,435.0v-1.2M482.1,435.0v-1.2M484.4,435.0v-1.2M486.8,435.0v-1.2M489.1,435.0v-1.2M491.5,435.0v-1.2M493.8,435.0v-1.2M496.2,435.0v-1.2M498.5,435.0v-1.2M500.9,435.0v-1.2M503.2,435.0v-1.2M505.6,435.0v-1.2M507.9,435.0v-1.2M510.3,435.0v-1.2" stroke="#333" stroke-width="0.55" fill="none"/>
<polyline points="455.20,434.60 455.45,434.60 455.70,434.60 455.95,434.60 456.20,434.60 456.45,434.60 456.70,434.60 456.95,434.60 457.20,434.60 457.45,434.60 457.70,434.60 457.95,434.60 458.20,434.60 458.45,434.60 458.70,434.60 458.95,434.60 459.20,434.60 459.45,434.60 459.70,434.60 459.95,434.60 460.20,434.60 460.45,434.60 460.70,434.60 460.95,434.60 461.20,434.60 461.45,434.60 461.70,434.60 461.95,434.60 462.20,434.60 462.45,434.60 462.70,434.60 462.95,434.60 463.20,434.60 463.45,434.60 463.70,434.60 463.95,434.60 464.20,434.60 464.45,434.60 464.70,434.59 464.95,434.59 465.20,434.58 465.45,434.56 465.70,434.54 465.95,434.50 466.20,434.45 466.45,434.39 466.70,434.30 466.95,434.18 467.20,434.03 467.45,433.85 467.70,433.63 467.95,433.37 468.20,432.98 468.45,432.18 468.70,430.20 468.95,425.56 469.20,416.72 469.45,403.91 469.70,390.94 469.95,384.01 470.20,385.81 470.45,397.11 470.70,410.65 470.95,421.28 471.20,427.46 471.45,430.30 471.70,431.44 471.95,431.93 472.20,432.23 472.45,432.47 472.70,432.66 472.95,432.82 473.20,432.95 473.45,433.05 473.70,433.13 473.95,433.19 474.20,433.22 474.45,433.25 474.70,433.27 474.95,433.28 475.20,433.29 475.45,433.29 475.70,433.30 475.95,433.30 476.20,433.30 476.45,433.30 476.70,433.30 476.95,433.30 477.20,433.30 477.45,433.30 477.70,433.30 477.95,433.30 478.20,433.30 478.45,433.30 478.70,433.30 478.95,433.30 479.20,433.30 479.45,433.30 479.70,433.30 479.95,433.30 480.20,433.30 480.45,433.30 480.70,433.30 480.95,433.30 481.20,433.30 481.45,433.30 481.70,433.30 481.95,433.30 482.20,433.30 482.45,433.30 482.70,433.30 482.95,433.30 483.20,433.30 483.45,433.30 483.70,433.30 483.95,433.30 484.20,433.30 484.45,433.29 484.70,433.27 484.95,433.22 485.20,433.13 485.45,432.96 485.70,432.68 485.95,432.29 486.20,431.83 486.45,431.35 486.70,430.98 486.95,430.81 487.20,432.18 487.45,432.49 487.70,432.93 487.95,433.41 488.20,433.84 488.45,434.16 488.70,434.37 488.95,434.49 489.20,434.55 489.45,434.58 489.70,434.59 489.95,434.60 490.20,434.60 490.45,434.60 490.70,434.60 490.95,434.60 491.20,434.60 491.45,434.60 491.70,434.60 491.95,434.60 492.20,434.60 492.45,434.60 492.70,434.60 492.95,434.60 493.20,434.60 493.45,434.60 493.70,434.60 493.95,434.60 494.20,434.60 494.45,434.60 494.70,434.60 494.95,434.60 495.20,434.60 495.45,434.60 495.70,434.60 495.95,434.60 496.20,434.60 496.45,434.60 496.70,434.60 496.95,434.60 497.20,434.60 497.45,434.60 497.70,434.60 497.95,434.60 498.20,434.60 498.45,434.60 498.70,434.60 498.95,434.60 499.20,434.60 499.45,434.60 499.70,434.60 499.95,434.60 500.20,434.60 500.45,434.60 500.70,434.60 500.95,434.60 501.20,434.60 501.45,434.60 501.70,434.60 501.95,434.60 502.20,434.60 502.45,434.60 502.70,434.60 502.95,434.60 503.20,434.60 503.45,434.60 503.70,434.60 503.95,434.60 504.20,434.60 504.45,434.60 504.70,434.60 504.95,434.60 505.20,434.60 505.45,434.60 505.70,434.60 505.95,434.60 506.20,434.60 506.45,434.60 506.70,434.60 506.95,434.60 507.20,434.60 507.45,434.60 507.70,434.60 507.95,434.60 508.20,434.60 508.45,434.60 508.70,434.60 508.95,434.60 509.20,434.60 509.45,434.60 509.70,434.60 509.95,434.60 510.20,434.60" stroke="#111" stroke-width="0.75" fill="none"/>
<text x="456.80" y="385.50" font-size="6.4" text-anchor="start" font-weight="bold" fill="#000">JQ1</text>
<text x="509.60" y="384.90" font-size="6.0" text-anchor="end" font-weight="bold" fill="#000">G1: <tspan fill="#d9403a">66%</tspan></text>
<text x="509.60" y="391.30" font-size="6.0" text-anchor="end" font-weight="bold" fill="#000">S: 15%</text>
<text x="509.60" y="397.70" font-size="6.0" text-anchor="end" font-weight="bold" fill="#000">G2: 9%</text>
<text x="517.20" y="287.00" font-size="7.8" text-anchor="middle" font-weight="bold" fill="#000" transform="rotate(90 517.2 287.0)" dominant-baseline="middle">Day 1</text>
<text x="517.20" y="346.50" font-size="7.8" text-anchor="middle" font-weight="bold" fill="#000" transform="rotate(90 517.2 346.5)" dominant-baseline="middle">Day 3</text>
<text x="517.20" y="406.00" font-size="7.8" text-anchor="middle" font-weight="bold" fill="#000" transform="rotate(90 517.2 406.0)" dominant-baseline="middle">Day 5</text>
<line x1="268.75" y1="441.20" x2="268.75" y2="418.00" stroke="#000" stroke-width="0.9"/>
<path d="M268.75,413.2 L266.9,419.4 L270.6,419.4 Z" fill="#000"/>
<line x1="268.30" y1="440.80" x2="292.00" y2="440.80" stroke="#000" stroke-width="0.9"/>
<path d="M297.3,440.8 L291.3,438.9 L291.3,442.7 Z" fill="#000"/>
<text x="263.40" y="431.00" font-size="5.6" text-anchor="middle" font-weight="bold" fill="#000" transform="rotate(-90 263.4 431.0)" dominant-baseline="middle">Count</text>
<text x="278.40" y="448.60" font-size="5.0" text-anchor="middle" font-weight="bold" fill="#000">PI</text>
</svg>
</body></html>
